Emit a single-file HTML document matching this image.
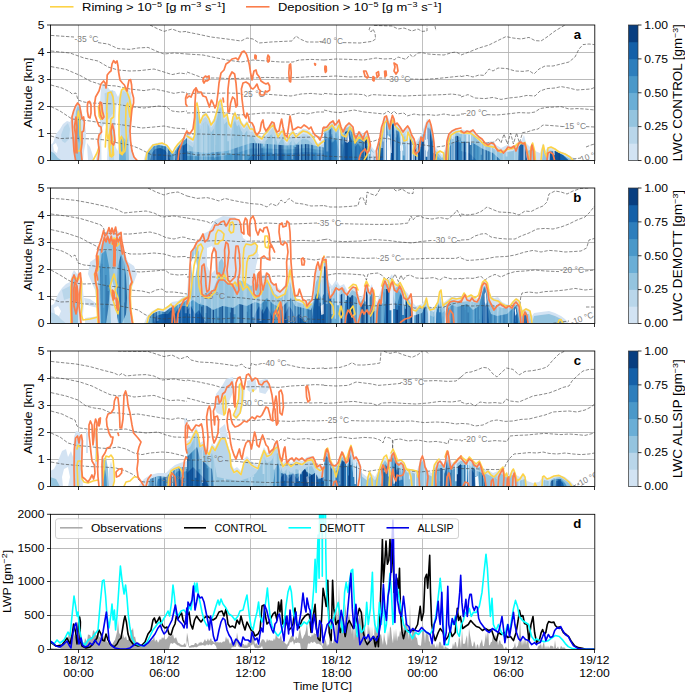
<!DOCTYPE html><html><head><meta charset="utf-8"><style>html,body{margin:0;padding:0;background:#fff}svg{display:block}text{font-family:"Liberation Sans",sans-serif}</style></head><body>
<svg width="685" height="692" viewBox="0 0 685 692">
<rect width="685" height="692" fill="#fff"/>
<defs>
<clipPath id="cpa"><rect x="50.5" y="25.0" width="544.0" height="135.5"/></clipPath>
<clipPath id="cpb"><rect x="50.5" y="188.0" width="544.0" height="135.5"/></clipPath>
<clipPath id="cpc"><rect x="50.5" y="351.0" width="544.0" height="135.5"/></clipPath>
<clipPath id="cpd"><rect x="50.5" y="514.3" width="544.0" height="135.20000000000005"/></clipPath>
</defs>
<line x1="50" y1="6.8" x2="73.5" y2="6.8" stroke="#fdd347" stroke-width="1.6"/>
<text x="82" y="11" font-size="11.5" textLength="143.5" lengthAdjust="spacingAndGlyphs">Riming &gt; 10<tspan dy="-4" font-size="8">−5</tspan><tspan dy="4"> [g m</tspan><tspan dy="-4" font-size="8">−3</tspan><tspan dy="4"> s</tspan><tspan dy="-4" font-size="8">−1</tspan><tspan dy="4">]</tspan></text>
<line x1="246" y1="6.8" x2="269.5" y2="6.8" stroke="#fb7d4b" stroke-width="1.6"/>
<text x="278" y="11" font-size="11.5" textLength="163.5" lengthAdjust="spacingAndGlyphs">Deposition &gt; 10<tspan dy="-4" font-size="8">−5</tspan><tspan dy="4"> [g m</tspan><tspan dy="-4" font-size="8">−3</tspan><tspan dy="4"> s</tspan><tspan dy="-4" font-size="8">−1</tspan><tspan dy="4">]</tspan></text>
<line x1="78.5" y1="25.0" x2="78.5" y2="160.5" stroke="#b0b0b0" stroke-width="0.8"/>
<line x1="164.5" y1="25.0" x2="164.5" y2="160.5" stroke="#b0b0b0" stroke-width="0.8"/>
<line x1="250.5" y1="25.0" x2="250.5" y2="160.5" stroke="#b0b0b0" stroke-width="0.8"/>
<line x1="336.5" y1="25.0" x2="336.5" y2="160.5" stroke="#b0b0b0" stroke-width="0.8"/>
<line x1="422.5" y1="25.0" x2="422.5" y2="160.5" stroke="#b0b0b0" stroke-width="0.8"/>
<line x1="508.5" y1="25.0" x2="508.5" y2="160.5" stroke="#b0b0b0" stroke-width="0.8"/>
<line x1="50.5" y1="133.50" x2="594.5" y2="133.50" stroke="#b2b2b2" stroke-width="0.9"/>
<line x1="50.5" y1="106.50" x2="594.5" y2="106.50" stroke="#b2b2b2" stroke-width="0.9"/>
<line x1="50.5" y1="79.50" x2="594.5" y2="79.50" stroke="#b2b2b2" stroke-width="0.9"/>
<line x1="50.5" y1="52.50" x2="594.5" y2="52.50" stroke="#b2b2b2" stroke-width="0.9"/>
<g clip-path="url(#cpa)">
<path d="M50.0,160.4 L50.0,145.0 L53.0,143.0 L56.0,134.0 L60.0,129.0 L63.0,124.0 L67.0,121.0 L70.0,122.0 L71.6,116.0 L73.0,112.0 L75.0,109.0 L77.0,104.0 L79.0,103.0 L81.0,109.0 L83.0,117.0 L85.0,124.0 L86.0,133.0 L85.6,143.0 L84.0,151.0 L83.0,160.4Z" fill="#d3e3f3" stroke="none" stroke-width="0" opacity="1"/>
<path d="M87.0,143.0 L90.0,147.0 L92.4,154.0 L94.0,160.4 L88.0,160.4Z" fill="#d3e3f3" stroke="none" stroke-width="0" opacity="1"/>
<path d="M61.0,135.0 L64.0,127.0 L68.0,123.0 L70.0,129.0 L69.0,139.0 L65.0,143.0 L62.0,141.0Z" fill="#b9d6ea" stroke="none" stroke-width="0" opacity="1"/>
<path d="M50.0,160.4 L50.0,151.0 L54.0,153.0 L58.0,158.0 L62.0,160.4Z" fill="#94c4df" stroke="none" stroke-width="0" opacity="1"/>
<path d="M75.0,160.4 L74.4,143.0 L75.0,123.0 L76.0,111.0 L78.0,105.0 L80.0,109.0 L81.0,123.0 L81.6,143.0 L81.0,160.4Z" fill="#94c4df" stroke="none" stroke-width="0" opacity="1"/>
<path d="M76.6,135.0 L77.0,117.0 L78.4,109.0 L79.6,117.0 L80.0,135.0 L79.0,143.0Z" fill="#6aaed6" stroke="none" stroke-width="0" opacity="1"/>
<path d="M95.6,160.4 L97.6,151.0 L99.0,139.0 L100.0,123.0 L99.6,107.0 L101.0,89.0 L103.0,84.0 L107.0,86.0 L110.0,90.0 L115.0,91.0 L118.0,97.0 L121.0,90.0 L125.0,87.0 L129.0,90.0 L131.0,93.0 L132.4,107.0 L131.0,123.0 L130.0,135.0 L131.6,147.0 L134.0,155.0 L136.4,160.4Z" fill="#d3e3f3" stroke="none" stroke-width="0" opacity="1"/>
<path d="M121.0,160.4 L121.0,135.0 L122.0,113.0 L123.0,99.0 L126.0,93.0 L128.4,103.0 L129.0,123.0 L128.4,143.0 L129.0,160.4Z" fill="#94c4df" stroke="none" stroke-width="0" opacity="1"/>
<path d="M109.0,160.4 L109.0,147.0 L110.0,131.0 L112.0,127.0 L114.0,135.0 L113.6,151.0 L114.0,160.4Z" fill="#b9d6ea" stroke="none" stroke-width="0" opacity="1"/>
<path d="M119.0,160.4 L119.6,143.0 L122.0,137.0 L125.0,143.0 L126.0,160.4Z" fill="#6aaed6" stroke="none" stroke-width="0" opacity="1"/>
<path d="M143.6,160.4 L145.6,153.0 L149.0,148.0 L153.0,144.0 L159.0,142.6 L166.0,144.0 L170.0,148.0 L173.0,152.0 L176.0,147.0 L180.0,141.0 L184.0,137.0 L187.0,134.0 L187.0,160.4Z" fill="#d3e3f3" stroke="none" stroke-width="0" opacity="1"/>
<path d="M146.0,160.4 L147.6,153.0 L151.0,149.0 L154.0,146.0 L159.0,145.0 L166.0,146.6 L170.0,151.0 L173.0,154.0 L177.0,148.0 L181.0,143.0 L187.0,138.0 L187.0,160.4Z" fill="#4a98c9" stroke="none" stroke-width="0" opacity="1"/>
<path d="M150.0,160.4 L152.0,153.0 L155.0,149.0 L160.0,148.0 L165.0,150.0 L168.0,154.0 L170.0,160.4Z" fill="#1460a8" stroke="none" stroke-width="0" opacity="1"/>
<path d="M175.0,160.4 L176.4,151.0 L180.0,146.0 L184.0,145.0 L187.0,143.0 L187.0,160.4Z" fill="#1460a8" stroke="none" stroke-width="0" opacity="1"/>
<path d="M104.6,93.3 L113.0,90.3 L114.5,101.0 L113.0,113.3 L108.4,119.4 L105.3,113.3Z" fill="#b9d6ea" stroke="none" stroke-width="0" opacity="1"/>
<path d="M119.1,101.0 L123.0,90.3 L129.1,94.9 L131.4,107.1 L130.6,128.6 L126.8,140.9 L120.7,134.8Z" fill="#b9d6ea" stroke="none" stroke-width="0" opacity="1"/>
<path d="M187.0,160.4 L187.0,133.6 L190.0,135.6 L193.0,137.6 L194.6,132.6 L195.4,104.6 L197.0,100.6 L198.6,108.6 L200.0,120.6 L203.0,113.6 L206.0,111.6 L209.0,116.6 L211.0,122.6 L214.0,118.6 L217.0,108.6 L219.0,99.6 L221.0,97.6 L222.6,106.6 L224.0,114.6 L227.0,111.6 L229.0,121.6 L231.0,124.6 L233.0,114.6 L235.0,110.6 L237.0,116.6 L239.0,114.6 L241.0,120.6 L244.0,124.6 L247.0,120.6 L250.0,126.6 L253.0,126.6 L256.0,132.6 L259.0,134.6 L262.0,136.6 L264.0,132.6 L267.0,129.6 L270.0,125.6 L273.0,122.6 L276.0,129.6 L278.0,134.6 L281.0,129.6 L283.0,128.6 L285.0,136.6 L287.0,138.6 L290.0,132.6 L293.0,129.6 L296.0,134.6 L299.0,131.6 L303.0,128.6 L307.0,129.6 L310.0,131.6 L313.0,134.6 L316.0,140.6 L318.0,143.6 L321.0,140.6 L324.0,138.6 L324.0,160.4Z" fill="#d3e3f3" stroke="none" stroke-width="0" opacity="1"/>
<path d="M187.0,160.4 L187.0,138.8 L190.0,140.8 L193.0,142.8 L194.6,137.8 L195.4,109.8 L197.0,105.8 L198.6,113.8 L200.0,125.8 L203.0,118.8 L206.0,116.8 L209.0,121.8 L211.0,127.8 L214.0,123.8 L217.0,113.8 L219.0,104.8 L221.0,102.8 L222.6,111.8 L224.0,119.8 L227.0,116.8 L229.0,126.8 L231.0,129.8 L233.0,119.8 L235.0,115.8 L237.0,121.8 L239.0,119.8 L241.0,125.8 L244.0,129.8 L247.0,125.8 L250.0,131.8 L253.0,131.8 L256.0,137.8 L259.0,139.8 L262.0,141.8 L264.0,137.8 L267.0,134.8 L270.0,130.8 L273.0,127.8 L276.0,134.8 L278.0,139.8 L281.0,134.8 L283.0,133.8 L285.0,141.8 L287.0,143.8 L290.0,137.8 L293.0,134.8 L296.0,139.8 L299.0,136.8 L303.0,133.8 L307.0,134.8 L310.0,136.8 L313.0,139.8 L316.0,145.8 L318.0,148.8 L321.0,145.8 L324.0,143.8 L324.0,160.4Z" fill="#b9d6ea" stroke="none" stroke-width="0" opacity="1"/>
<path d="M187.0,160.4 L187.0,143.6 L190.0,145.6 L193.0,147.6 L194.6,142.6 L195.4,114.6 L197.0,110.6 L198.6,118.6 L200.0,130.6 L203.0,123.6 L206.0,121.6 L209.0,126.6 L211.0,132.6 L214.0,128.6 L217.0,118.6 L219.0,109.6 L221.0,107.6 L222.6,116.6 L224.0,124.6 L227.0,121.6 L229.0,131.6 L231.0,134.6 L233.0,124.6 L235.0,120.6 L237.0,126.6 L239.0,124.6 L241.0,130.6 L244.0,134.6 L247.0,130.6 L250.0,136.6 L253.0,136.6 L256.0,142.6 L259.0,144.6 L262.0,146.6 L264.0,142.6 L267.0,139.6 L270.0,135.6 L273.0,132.6 L276.0,139.6 L278.0,144.6 L281.0,139.6 L283.0,138.6 L285.0,146.6 L287.0,148.6 L290.0,142.6 L293.0,139.6 L296.0,144.6 L299.0,141.6 L303.0,138.6 L307.0,139.6 L310.0,141.6 L313.0,144.6 L316.0,150.6 L318.0,153.6 L321.0,150.6 L324.0,148.6 L324.0,160.4Z" fill="#94c4df" stroke="none" stroke-width="0" opacity="1"/>
<path d="M187.0,160.4 L187.0,151.0 L207.0,153.0 L227.0,151.0 L251.0,143.0 L267.0,144.0 L287.0,145.4 L307.0,144.0 L324.0,147.4 L324.0,160.4Z" fill="#6aaed6" stroke="none" stroke-width="0" opacity="1"/>
<path d="M187.0,160.4 L187.0,156.0 L217.0,157.0 L237.0,153.0 L251.0,148.6 L267.0,148.6 L287.0,149.4 L307.0,148.0 L324.0,150.6 L324.0,160.4Z" fill="#4a98c9" stroke="none" stroke-width="0" opacity="1"/>
<path d="M247.0,160.4 L253.0,154.0 L267.0,152.6 L287.0,153.4 L307.0,152.0 L324.0,153.4 L324.0,160.4Z" fill="#2e7ebc" stroke="none" stroke-width="0" opacity="1"/>
<path d="M324.0,160.4 L324.0,127.0 L328.0,125.0 L332.0,121.0 L336.0,127.0 L339.0,121.0 L342.0,131.0 L346.0,125.0 L350.0,123.0 L353.0,127.0 L356.0,135.0 L360.0,131.0 L364.0,135.0 L367.0,132.0 L369.0,141.0 L372.0,147.0 L375.0,151.0 L378.0,143.0 L381.0,131.0 L384.0,119.0 L387.0,116.0 L390.0,121.0 L393.0,116.0 L395.0,123.0 L399.0,125.0 L403.0,131.0 L408.0,127.0 L412.0,135.0 L415.0,143.0 L418.0,139.0 L421.0,135.0 L424.0,127.0 L427.0,119.0 L430.0,121.0 L433.0,135.0 L435.0,147.0 L439.0,151.0 L442.0,155.0 L446.0,147.0 L448.0,135.0 L452.0,131.0 L457.0,129.0 L461.0,131.0 L461.0,160.4Z" fill="#d3e3f3" stroke="none" stroke-width="0" opacity="1"/>
<path d="M324.0,160.4 L324.0,130.2 L328.0,128.2 L332.0,124.2 L336.0,130.2 L339.0,124.2 L342.0,134.2 L346.0,128.2 L350.0,126.2 L353.0,130.2 L356.0,138.2 L360.0,134.2 L364.0,138.2 L367.0,135.2 L369.0,144.2 L372.0,150.2 L375.0,154.2 L378.0,146.2 L381.0,134.2 L384.0,122.2 L387.0,119.2 L390.0,124.2 L393.0,119.2 L395.0,126.2 L399.0,128.2 L403.0,134.2 L408.0,130.2 L412.0,138.2 L415.0,146.2 L418.0,142.2 L421.0,138.2 L424.0,130.2 L427.0,122.2 L430.0,124.2 L433.0,138.2 L435.0,150.2 L439.0,154.2 L442.0,158.2 L446.0,150.2 L448.0,138.2 L452.0,134.2 L457.0,132.2 L461.0,134.2 L461.0,160.4Z" fill="#94c4df" stroke="none" stroke-width="0" opacity="1"/>
<path d="M324.0,160.4 L324.0,133.8 L328.0,131.8 L332.0,127.8 L336.0,133.8 L339.0,127.8 L342.0,137.8 L346.0,131.8 L350.0,129.8 L353.0,133.8 L356.0,141.8 L360.0,137.8 L364.0,141.8 L367.0,138.8 L369.0,147.8 L372.0,153.8 L375.0,157.8 L378.0,149.8 L381.0,137.8 L384.0,125.8 L387.0,122.8 L390.0,127.8 L393.0,122.8 L395.0,129.8 L399.0,131.8 L403.0,137.8 L408.0,133.8 L412.0,141.8 L415.0,149.8 L418.0,145.8 L421.0,141.8 L424.0,133.8 L427.0,125.8 L430.0,127.8 L433.0,141.8 L435.0,153.8 L439.0,157.8 L442.0,161.8 L446.0,153.8 L448.0,141.8 L452.0,137.8 L457.0,135.8 L461.0,137.8 L461.0,160.4Z" fill="#6aaed6" stroke="none" stroke-width="0" opacity="1"/>
<path d="M324.0,160.4 L324.0,141.0 L328.0,139.0 L332.0,135.0 L336.0,141.0 L339.0,135.0 L342.0,145.0 L346.0,139.0 L350.0,137.0 L353.0,141.0 L356.0,149.0 L360.0,145.0 L364.0,149.0 L367.0,146.0 L369.0,155.0 L372.0,161.0 L375.0,165.0 L378.0,157.0 L381.0,145.0 L384.0,133.0 L387.0,130.0 L390.0,135.0 L393.0,130.0 L395.0,137.0 L399.0,139.0 L403.0,145.0 L408.0,141.0 L412.0,149.0 L415.0,157.0 L418.0,153.0 L421.0,149.0 L424.0,141.0 L427.0,133.0 L430.0,135.0 L433.0,149.0 L435.0,161.0 L439.0,165.0 L442.0,169.0 L446.0,161.0 L448.0,149.0 L452.0,145.0 L457.0,143.0 L461.0,145.0 L461.0,160.4Z" fill="#4a98c9" stroke="none" stroke-width="0" opacity="1"/>
<path d="M342.4,160.4 L343.6,141.0 L345.2,132.0 L349.0,130.0 L351.6,141.0 L352.4,160.4Z" fill="#1460a8" stroke="none" stroke-width="0" opacity="1"/>
<path d="M380.6,160.4 L382.0,137.0 L384.0,124.0 L386.4,121.0 L387.6,135.0 L387.6,160.4Z" fill="#1460a8" stroke="none" stroke-width="0" opacity="1"/>
<path d="M390.0,160.4 L390.4,143.0 L391.6,125.0 L393.6,123.0 L394.8,135.0 L394.4,160.4Z" fill="#1460a8" stroke="none" stroke-width="0" opacity="1"/>
<path d="M396.0,160.4 L396.8,137.0 L398.4,131.0 L400.8,143.0 L400.4,160.4Z" fill="#2e7ebc" stroke="none" stroke-width="0" opacity="1"/>
<path d="M420.0,160.4 L421.2,145.0 L424.0,136.0 L426.4,127.0 L430.0,129.0 L432.0,143.0 L433.2,160.4Z" fill="#1460a8" stroke="none" stroke-width="0" opacity="1"/>
<path d="M447.6,160.4 L448.4,149.0 L452.0,143.0 L457.0,141.0 L461.0,143.0 L461.0,160.4Z" fill="#2e7ebc" stroke="none" stroke-width="0" opacity="1"/>
<path d="M324.0,160.4 L324.0,141.0 L328.0,137.0 L332.0,143.0 L336.0,139.0 L339.0,151.0 L340.0,160.4Z" fill="#2e7ebc" stroke="none" stroke-width="0" opacity="1"/>
<path d="M354.0,160.4 L355.0,147.0 L358.0,143.0 L362.0,151.0 L364.0,160.4Z" fill="#2e7ebc" stroke="none" stroke-width="0" opacity="1"/>
<path d="M404.0,160.4 L405.0,147.0 L409.0,141.0 L412.0,151.0 L414.0,160.4Z" fill="#2e7ebc" stroke="none" stroke-width="0" opacity="1"/>
<path d="M370.4,160.4 L371.0,151.0 L374.0,153.0 L376.4,151.0 L377.6,160.4Z" fill="#d3e3f3" stroke="none" stroke-width="0" opacity="1"/>
<path d="M461.0,160.4 L461.0,129.0 L467.0,131.0 L473.0,130.0 L477.0,134.0 L481.0,138.0 L486.0,143.0 L491.0,141.0 L496.0,145.0 L501.0,148.0 L507.0,145.0 L513.0,147.0 L517.0,143.0 L521.0,141.0 L524.0,135.0 L526.0,143.0 L530.0,147.0 L532.0,143.0 L535.0,151.0 L540.0,153.0 L543.0,143.0 L545.0,151.0 L548.0,147.0 L554.0,148.0 L559.0,151.0 L565.0,153.0 L570.0,156.0 L574.0,158.0 L577.0,160.4Z" fill="#d3e3f3" stroke="none" stroke-width="0" opacity="1"/>
<path d="M461.0,160.4 L461.0,134.0 L473.0,135.0 L481.0,143.0 L491.0,147.0 L501.0,153.0 L513.0,151.0 L521.0,145.0 L527.0,151.0 L533.0,149.0 L536.0,160.4Z" fill="#94c4df" stroke="none" stroke-width="0" opacity="1"/>
<path d="M461.0,160.4 L461.0,141.0 L473.0,143.0 L483.0,149.0 L493.0,153.0 L501.0,160.4Z" fill="#4a98c9" stroke="none" stroke-width="0" opacity="1"/>
<path d="M542.0,160.4 L543.4,147.0 L545.0,155.0 L548.0,150.0 L554.0,151.0 L561.0,154.0 L569.0,158.0 L573.0,160.4Z" fill="#94c4df" stroke="none" stroke-width="0" opacity="1"/>
<path d="M518.0,160.4 L518.6,147.0 L521.0,144.0 L525.0,145.0 L527.0,160.4Z" fill="#1460a8" stroke="none" stroke-width="0" opacity="1"/>
<path d="M549.0,160.4 L550.0,152.0 L555.0,151.0 L563.0,155.0 L569.0,160.4Z" fill="#1460a8" stroke="none" stroke-width="0" opacity="1"/>
<path d="M461.0,160.4 L461.0,151.0 L469.0,153.0 L477.0,160.4Z" fill="#2e7ebc" stroke="none" stroke-width="0" opacity="1"/>
<path d="M101.6,160.4 L101.2,143.0 L102.4,127.0 L105.0,123.0 L107.0,131.0 L107.6,147.0 L107.0,160.4Z" fill="#fff" stroke="none" stroke-width="0" opacity="1"/>
<path d="M115.6,147.0 L115.2,123.0 L116.4,105.0 L118.4,103.0 L119.2,119.0 L118.8,143.0 L117.6,151.0Z" fill="#fff" stroke="none" stroke-width="0" opacity="1"/>
<path d="M54.0,151.0 L53.0,145.0 L56.0,143.0 L58.0,148.0 L57.0,153.0Z" fill="#fff" stroke="none" stroke-width="0" opacity="1"/>
<path d="M344.8,134.0 L348.4,133.0 L349.2,141.0 L347.6,143.0 L345.2,142.0Z" fill="#fff" stroke="none" stroke-width="0" opacity="1"/>
<path d="M386.8,160.4 L386.8,143.0 L387.6,135.0 L390.0,137.0 L390.8,151.0 L390.4,160.4Z" fill="#fff" stroke="none" stroke-width="0" opacity="1"/>
<path d="M425.0,140.0 L427.6,139.0 L428.4,149.0 L427.2,152.0 L425.4,150.0Z" fill="#fff" stroke="none" stroke-width="0" opacity="1"/>
<path d="M400.0,145.4 L402.8,145.0 L403.2,150.6 L400.4,151.0Z" fill="#fff" stroke="none" stroke-width="0" opacity="1"/>
<clipPath id="cl3a">
<path d="M50.0,160.4 L50.0,151.0 L54.0,153.0 L58.0,158.0 L62.0,160.4Z"/>
<path d="M75.0,160.4 L74.4,143.0 L75.0,123.0 L76.0,111.0 L78.0,105.0 L80.0,109.0 L81.0,123.0 L81.6,143.0 L81.0,160.4Z"/>
<path d="M76.6,135.0 L77.0,117.0 L78.4,109.0 L79.6,117.0 L80.0,135.0 L79.0,143.0Z"/>
<path d="M121.0,160.4 L121.0,135.0 L122.0,113.0 L123.0,99.0 L126.0,93.0 L128.4,103.0 L129.0,123.0 L128.4,143.0 L129.0,160.4Z"/>
<path d="M119.0,160.4 L119.6,143.0 L122.0,137.0 L125.0,143.0 L126.0,160.4Z"/>
<path d="M146.0,160.4 L147.6,153.0 L151.0,149.0 L154.0,146.0 L159.0,145.0 L166.0,146.6 L170.0,151.0 L173.0,154.0 L177.0,148.0 L181.0,143.0 L187.0,138.0 L187.0,160.4Z"/>
<path d="M150.0,160.4 L152.0,153.0 L155.0,149.0 L160.0,148.0 L165.0,150.0 L168.0,154.0 L170.0,160.4Z"/>
<path d="M175.0,160.4 L176.4,151.0 L180.0,146.0 L184.0,145.0 L187.0,143.0 L187.0,160.4Z"/>
<path d="M187.0,160.4 L187.0,143.6 L190.0,145.6 L193.0,147.6 L194.6,142.6 L195.4,114.6 L197.0,110.6 L198.6,118.6 L200.0,130.6 L203.0,123.6 L206.0,121.6 L209.0,126.6 L211.0,132.6 L214.0,128.6 L217.0,118.6 L219.0,109.6 L221.0,107.6 L222.6,116.6 L224.0,124.6 L227.0,121.6 L229.0,131.6 L231.0,134.6 L233.0,124.6 L235.0,120.6 L237.0,126.6 L239.0,124.6 L241.0,130.6 L244.0,134.6 L247.0,130.6 L250.0,136.6 L253.0,136.6 L256.0,142.6 L259.0,144.6 L262.0,146.6 L264.0,142.6 L267.0,139.6 L270.0,135.6 L273.0,132.6 L276.0,139.6 L278.0,144.6 L281.0,139.6 L283.0,138.6 L285.0,146.6 L287.0,148.6 L290.0,142.6 L293.0,139.6 L296.0,144.6 L299.0,141.6 L303.0,138.6 L307.0,139.6 L310.0,141.6 L313.0,144.6 L316.0,150.6 L318.0,153.6 L321.0,150.6 L324.0,148.6 L324.0,160.4Z"/>
<path d="M187.0,160.4 L187.0,151.0 L207.0,153.0 L227.0,151.0 L251.0,143.0 L267.0,144.0 L287.0,145.4 L307.0,144.0 L324.0,147.4 L324.0,160.4Z"/>
<path d="M187.0,160.4 L187.0,156.0 L217.0,157.0 L237.0,153.0 L251.0,148.6 L267.0,148.6 L287.0,149.4 L307.0,148.0 L324.0,150.6 L324.0,160.4Z"/>
<path d="M247.0,160.4 L253.0,154.0 L267.0,152.6 L287.0,153.4 L307.0,152.0 L324.0,153.4 L324.0,160.4Z"/>
<path d="M324.0,160.4 L324.0,130.2 L328.0,128.2 L332.0,124.2 L336.0,130.2 L339.0,124.2 L342.0,134.2 L346.0,128.2 L350.0,126.2 L353.0,130.2 L356.0,138.2 L360.0,134.2 L364.0,138.2 L367.0,135.2 L369.0,144.2 L372.0,150.2 L375.0,154.2 L378.0,146.2 L381.0,134.2 L384.0,122.2 L387.0,119.2 L390.0,124.2 L393.0,119.2 L395.0,126.2 L399.0,128.2 L403.0,134.2 L408.0,130.2 L412.0,138.2 L415.0,146.2 L418.0,142.2 L421.0,138.2 L424.0,130.2 L427.0,122.2 L430.0,124.2 L433.0,138.2 L435.0,150.2 L439.0,154.2 L442.0,158.2 L446.0,150.2 L448.0,138.2 L452.0,134.2 L457.0,132.2 L461.0,134.2 L461.0,160.4Z"/>
<path d="M324.0,160.4 L324.0,133.8 L328.0,131.8 L332.0,127.8 L336.0,133.8 L339.0,127.8 L342.0,137.8 L346.0,131.8 L350.0,129.8 L353.0,133.8 L356.0,141.8 L360.0,137.8 L364.0,141.8 L367.0,138.8 L369.0,147.8 L372.0,153.8 L375.0,157.8 L378.0,149.8 L381.0,137.8 L384.0,125.8 L387.0,122.8 L390.0,127.8 L393.0,122.8 L395.0,129.8 L399.0,131.8 L403.0,137.8 L408.0,133.8 L412.0,141.8 L415.0,149.8 L418.0,145.8 L421.0,141.8 L424.0,133.8 L427.0,125.8 L430.0,127.8 L433.0,141.8 L435.0,153.8 L439.0,157.8 L442.0,161.8 L446.0,153.8 L448.0,141.8 L452.0,137.8 L457.0,135.8 L461.0,137.8 L461.0,160.4Z"/>
<path d="M324.0,160.4 L324.0,141.0 L328.0,139.0 L332.0,135.0 L336.0,141.0 L339.0,135.0 L342.0,145.0 L346.0,139.0 L350.0,137.0 L353.0,141.0 L356.0,149.0 L360.0,145.0 L364.0,149.0 L367.0,146.0 L369.0,155.0 L372.0,161.0 L375.0,165.0 L378.0,157.0 L381.0,145.0 L384.0,133.0 L387.0,130.0 L390.0,135.0 L393.0,130.0 L395.0,137.0 L399.0,139.0 L403.0,145.0 L408.0,141.0 L412.0,149.0 L415.0,157.0 L418.0,153.0 L421.0,149.0 L424.0,141.0 L427.0,133.0 L430.0,135.0 L433.0,149.0 L435.0,161.0 L439.0,165.0 L442.0,169.0 L446.0,161.0 L448.0,149.0 L452.0,145.0 L457.0,143.0 L461.0,145.0 L461.0,160.4Z"/>
<path d="M342.4,160.4 L343.6,141.0 L345.2,132.0 L349.0,130.0 L351.6,141.0 L352.4,160.4Z"/>
<path d="M380.6,160.4 L382.0,137.0 L384.0,124.0 L386.4,121.0 L387.6,135.0 L387.6,160.4Z"/>
<path d="M390.0,160.4 L390.4,143.0 L391.6,125.0 L393.6,123.0 L394.8,135.0 L394.4,160.4Z"/>
<path d="M396.0,160.4 L396.8,137.0 L398.4,131.0 L400.8,143.0 L400.4,160.4Z"/>
<path d="M420.0,160.4 L421.2,145.0 L424.0,136.0 L426.4,127.0 L430.0,129.0 L432.0,143.0 L433.2,160.4Z"/>
<path d="M447.6,160.4 L448.4,149.0 L452.0,143.0 L457.0,141.0 L461.0,143.0 L461.0,160.4Z"/>
<path d="M324.0,160.4 L324.0,141.0 L328.0,137.0 L332.0,143.0 L336.0,139.0 L339.0,151.0 L340.0,160.4Z"/>
<path d="M354.0,160.4 L355.0,147.0 L358.0,143.0 L362.0,151.0 L364.0,160.4Z"/>
<path d="M404.0,160.4 L405.0,147.0 L409.0,141.0 L412.0,151.0 L414.0,160.4Z"/>
<path d="M461.0,160.4 L461.0,134.0 L473.0,135.0 L481.0,143.0 L491.0,147.0 L501.0,153.0 L513.0,151.0 L521.0,145.0 L527.0,151.0 L533.0,149.0 L536.0,160.4Z"/>
<path d="M461.0,160.4 L461.0,141.0 L473.0,143.0 L483.0,149.0 L493.0,153.0 L501.0,160.4Z"/>
<path d="M542.0,160.4 L543.4,147.0 L545.0,155.0 L548.0,150.0 L554.0,151.0 L561.0,154.0 L569.0,158.0 L573.0,160.4Z"/>
<path d="M518.0,160.4 L518.6,147.0 L521.0,144.0 L525.0,145.0 L527.0,160.4Z"/>
<path d="M549.0,160.4 L550.0,152.0 L555.0,151.0 L563.0,155.0 L569.0,160.4Z"/>
<path d="M461.0,160.4 L461.0,151.0 L469.0,153.0 L477.0,160.4Z"/>
</clipPath>
<clipPath id="cl5a">
<path d="M76.6,135.0 L77.0,117.0 L78.4,109.0 L79.6,117.0 L80.0,135.0 L79.0,143.0Z"/>
<path d="M119.0,160.4 L119.6,143.0 L122.0,137.0 L125.0,143.0 L126.0,160.4Z"/>
<path d="M146.0,160.4 L147.6,153.0 L151.0,149.0 L154.0,146.0 L159.0,145.0 L166.0,146.6 L170.0,151.0 L173.0,154.0 L177.0,148.0 L181.0,143.0 L187.0,138.0 L187.0,160.4Z"/>
<path d="M150.0,160.4 L152.0,153.0 L155.0,149.0 L160.0,148.0 L165.0,150.0 L168.0,154.0 L170.0,160.4Z"/>
<path d="M175.0,160.4 L176.4,151.0 L180.0,146.0 L184.0,145.0 L187.0,143.0 L187.0,160.4Z"/>
<path d="M187.0,160.4 L187.0,151.0 L207.0,153.0 L227.0,151.0 L251.0,143.0 L267.0,144.0 L287.0,145.4 L307.0,144.0 L324.0,147.4 L324.0,160.4Z"/>
<path d="M187.0,160.4 L187.0,156.0 L217.0,157.0 L237.0,153.0 L251.0,148.6 L267.0,148.6 L287.0,149.4 L307.0,148.0 L324.0,150.6 L324.0,160.4Z"/>
<path d="M247.0,160.4 L253.0,154.0 L267.0,152.6 L287.0,153.4 L307.0,152.0 L324.0,153.4 L324.0,160.4Z"/>
<path d="M324.0,160.4 L324.0,133.8 L328.0,131.8 L332.0,127.8 L336.0,133.8 L339.0,127.8 L342.0,137.8 L346.0,131.8 L350.0,129.8 L353.0,133.8 L356.0,141.8 L360.0,137.8 L364.0,141.8 L367.0,138.8 L369.0,147.8 L372.0,153.8 L375.0,157.8 L378.0,149.8 L381.0,137.8 L384.0,125.8 L387.0,122.8 L390.0,127.8 L393.0,122.8 L395.0,129.8 L399.0,131.8 L403.0,137.8 L408.0,133.8 L412.0,141.8 L415.0,149.8 L418.0,145.8 L421.0,141.8 L424.0,133.8 L427.0,125.8 L430.0,127.8 L433.0,141.8 L435.0,153.8 L439.0,157.8 L442.0,161.8 L446.0,153.8 L448.0,141.8 L452.0,137.8 L457.0,135.8 L461.0,137.8 L461.0,160.4Z"/>
<path d="M324.0,160.4 L324.0,141.0 L328.0,139.0 L332.0,135.0 L336.0,141.0 L339.0,135.0 L342.0,145.0 L346.0,139.0 L350.0,137.0 L353.0,141.0 L356.0,149.0 L360.0,145.0 L364.0,149.0 L367.0,146.0 L369.0,155.0 L372.0,161.0 L375.0,165.0 L378.0,157.0 L381.0,145.0 L384.0,133.0 L387.0,130.0 L390.0,135.0 L393.0,130.0 L395.0,137.0 L399.0,139.0 L403.0,145.0 L408.0,141.0 L412.0,149.0 L415.0,157.0 L418.0,153.0 L421.0,149.0 L424.0,141.0 L427.0,133.0 L430.0,135.0 L433.0,149.0 L435.0,161.0 L439.0,165.0 L442.0,169.0 L446.0,161.0 L448.0,149.0 L452.0,145.0 L457.0,143.0 L461.0,145.0 L461.0,160.4Z"/>
<path d="M342.4,160.4 L343.6,141.0 L345.2,132.0 L349.0,130.0 L351.6,141.0 L352.4,160.4Z"/>
<path d="M380.6,160.4 L382.0,137.0 L384.0,124.0 L386.4,121.0 L387.6,135.0 L387.6,160.4Z"/>
<path d="M390.0,160.4 L390.4,143.0 L391.6,125.0 L393.6,123.0 L394.8,135.0 L394.4,160.4Z"/>
<path d="M396.0,160.4 L396.8,137.0 L398.4,131.0 L400.8,143.0 L400.4,160.4Z"/>
<path d="M420.0,160.4 L421.2,145.0 L424.0,136.0 L426.4,127.0 L430.0,129.0 L432.0,143.0 L433.2,160.4Z"/>
<path d="M447.6,160.4 L448.4,149.0 L452.0,143.0 L457.0,141.0 L461.0,143.0 L461.0,160.4Z"/>
<path d="M324.0,160.4 L324.0,141.0 L328.0,137.0 L332.0,143.0 L336.0,139.0 L339.0,151.0 L340.0,160.4Z"/>
<path d="M354.0,160.4 L355.0,147.0 L358.0,143.0 L362.0,151.0 L364.0,160.4Z"/>
<path d="M404.0,160.4 L405.0,147.0 L409.0,141.0 L412.0,151.0 L414.0,160.4Z"/>
<path d="M461.0,160.4 L461.0,141.0 L473.0,143.0 L483.0,149.0 L493.0,153.0 L501.0,160.4Z"/>
<path d="M518.0,160.4 L518.6,147.0 L521.0,144.0 L525.0,145.0 L527.0,160.4Z"/>
<path d="M549.0,160.4 L550.0,152.0 L555.0,151.0 L563.0,155.0 L569.0,160.4Z"/>
<path d="M461.0,160.4 L461.0,151.0 L469.0,153.0 L477.0,160.4Z"/>
</clipPath>
<g clip-path="url(#cl5a)">
<path d="M141.2,129.9h1.4V160.5h-1.4zM158.6,104.8h1.8V160.5h-1.8zM177.9,134.7h2.1V160.5h-2.1zM189.0,116.6h1.2V160.5h-1.2zM191.2,106.6h1.9V160.5h-1.9zM207.4,116.3h1.4V160.5h-1.4zM210.7,101.4h1.3V160.5h-1.3zM239.0,111.3h1.8V160.5h-1.8zM240.8,126.7h1.8V160.5h-1.8zM244.3,96.1h1.6V160.5h-1.6zM254.0,106.8h1.4V160.5h-1.4zM269.5,104.0h1.8V160.5h-1.8zM275.1,130.0h1.9V160.5h-1.9zM286.5,142.1h1.9V160.5h-1.9zM347.7,141.9h1.8V160.5h-1.8zM352.3,115.9h1.1V160.5h-1.1zM412.9,131.2h0.8V160.5h-0.8zM477.1,100.4h1.5V160.5h-1.5zM498.4,104.6h1.9V160.5h-1.9zM500.4,120.0h1.7V160.5h-1.7z" fill="#083c80" opacity="0.1"/>
<path d="M153.4,144.3h1.2V160.5h-1.2zM156.5,121.6h2.0V160.5h-2.0zM169.7,146.5h0.9V160.5h-0.9zM212.0,105.6h2.0V160.5h-2.0zM218.3,109.6h1.1V160.5h-1.1zM233.8,138.0h1.3V160.5h-1.3zM249.4,119.7h1.3V160.5h-1.3zM289.7,144.4h1.8V160.5h-1.8zM324.7,108.0h1.6V160.5h-1.6zM328.3,139.4h1.0V160.5h-1.0zM331.0,134.1h1.4V160.5h-1.4zM351.0,97.9h1.3V160.5h-1.3zM359.4,98.5h1.0V160.5h-1.0zM430.7,131.6h1.0V160.5h-1.0zM464.9,132.6h1.3V160.5h-1.3zM549.8,117.6h0.8V160.5h-0.8z" fill="#083c80" opacity="0.2"/>
<path d="M160.3,148.1h0.9V160.5h-0.9zM161.2,104.6h1.9V160.5h-1.9zM190.0,149.6h1.2V160.5h-1.2zM197.5,112.6h1.7V160.5h-1.7zM216.3,94.9h1.1V160.5h-1.1zM217.4,140.2h0.9V160.5h-0.9zM235.1,123.7h1.8V160.5h-1.8zM236.9,140.0h0.9V160.5h-0.9zM261.2,147.7h1.9V160.5h-1.9zM319.0,118.0h1.7V160.5h-1.7zM341.3,135.1h1.6V160.5h-1.6zM354.8,97.3h1.8V160.5h-1.8zM429.8,115.2h0.8V160.5h-0.8zM456.2,129.4h0.8V160.5h-0.8zM470.0,101.9h1.9V160.5h-1.9zM473.3,140.3h1.9V160.5h-1.9z" fill="#083c80" opacity="0.3"/>
<path d="M164.3,130.6h1.7V160.5h-1.7zM182.8,146.3h1.4V160.5h-1.4zM186.1,115.2h1.2V160.5h-1.2zM251.7,113.2h1.3V160.5h-1.3zM322.4,134.6h1.3V160.5h-1.3zM344.7,127.0h1.4V160.5h-1.4zM361.6,110.2h1.1V160.5h-1.1zM373.5,122.2h1.9V160.5h-1.9zM378.1,128.2h1.1V160.5h-1.1zM421.1,96.8h1.6V160.5h-1.6zM431.7,99.6h1.6V160.5h-1.6zM481.6,105.8h1.9V160.5h-1.9zM487.9,121.8h1.6V160.5h-1.6zM497.0,123.3h1.4V160.5h-1.4zM522.4,120.5h1.0V160.5h-1.0zM535.9,149.1h2.0V160.5h-2.0zM539.3,119.1h2.1V160.5h-2.1zM550.7,110.9h1.0V160.5h-1.0zM551.7,147.3h1.1V160.5h-1.1z" fill="#083c80" opacity="0.4"/>
<path d="M168.0,148.3h1.7V160.5h-1.7zM282.5,117.0h1.1V160.5h-1.1zM294.5,147.1h1.8V160.5h-1.8zM311.0,142.7h1.1V160.5h-1.1zM346.1,133.6h1.6V160.5h-1.6zM492.1,126.5h0.9V160.5h-0.9zM509.3,109.5h2.0V160.5h-2.0zM511.3,136.8h1.5V160.5h-1.5zM520.6,129.6h0.8V160.5h-0.8zM554.8,107.7h1.9V160.5h-1.9zM556.7,138.0h1.6V160.5h-1.6z" fill="#083c80" opacity="0.5"/>
<path d="M253.0,123.8h1.0V160.5h-1.0zM258.0,110.3h1.3V160.5h-1.3zM304.9,129.0h1.5V160.5h-1.5zM379.2,106.8h1.6V160.5h-1.6zM418.1,135.8h2.1V160.5h-2.1zM440.3,103.2h1.4V160.5h-1.4z" fill="#083c80" opacity="0.9"/>
<path d="M255.4,114.0h1.5V160.5h-1.5zM281.3,125.5h1.2V160.5h-1.2zM296.2,100.8h1.8V160.5h-1.8zM307.4,132.4h2.0V160.5h-2.0zM312.1,114.3h0.8V160.5h-0.8zM329.3,102.8h1.8V160.5h-1.8zM396.3,112.3h1.3V160.5h-1.3zM455.3,116.8h0.9V160.5h-0.9zM485.5,105.0h1.4V160.5h-1.4zM504.4,134.5h1.2V160.5h-1.2zM528.5,121.5h0.9V160.5h-0.9zM544.6,112.1h1.7V160.5h-1.7z" fill="#083c80" opacity="0.6"/>
<path d="M260.2,128.0h1.0V160.5h-1.0zM278.4,116.2h1.8V160.5h-1.8zM280.2,121.7h1.2V160.5h-1.2zM298.0,144.4h1.1V160.5h-1.1zM362.8,110.5h0.9V160.5h-0.9z" fill="#083c80" opacity="0.8"/>
<path d="M266.9,101.3h1.1V160.5h-1.1zM274.2,137.5h0.9V160.5h-0.9zM301.0,118.0h1.3V160.5h-1.3zM468.3,102.2h1.6V160.5h-1.6zM525.3,102.2h1.2V160.5h-1.2zM558.3,122.0h1.9V160.5h-1.9z" fill="#083c80" opacity="0.7"/>
<path d="M340.4,139.2h0.9V160.5h-0.9zM364.9,131.2h1.9V160.5h-1.9zM391.9,125.3h1.2V160.5h-1.2zM409.6,112.8h2.1V160.5h-2.1zM414.6,145.0h1.7V160.5h-1.7zM422.7,117.3h1.1V160.5h-1.1zM435.5,132.1h1.5V160.5h-1.5zM457.0,103.9h1.3V160.5h-1.3zM463.7,141.4h1.2V160.5h-1.2z" fill="#083c80" opacity="1.0"/>
</g>
<g clip-path="url(#cl3a)">
<path d="M140.0,25.0h1.2V160.5h-1.2zM180.0,25.0h1.6V160.5h-1.6zM193.2,25.0h1.4V160.5h-1.4zM199.3,25.0h1.9V160.5h-1.9zM203.2,25.0h1.2V134.3h-1.2zM214.1,25.0h1.1V158.3h-1.1zM256.9,25.0h1.1V160.5h-1.1zM259.3,25.0h0.9V160.5h-0.9zM277.0,25.0h1.4V160.5h-1.4zM299.1,25.0h1.9V160.5h-1.9zM317.6,25.0h1.3V160.5h-1.3zM326.3,25.0h2.0V151.5h-2.0zM371.9,25.0h1.7V141.5h-1.7zM443.6,25.0h1.7V160.5h-1.7zM461.9,25.0h1.8V160.5h-1.8zM471.9,25.0h1.4V159.4h-1.4zM494.7,25.0h1.5V160.5h-1.5zM517.2,25.0h1.7V160.5h-1.7zM537.9,25.0h1.4V160.5h-1.4z" fill="#e4eff9" opacity="0.3"/>
<path d="M142.5,25.0h1.3V160.5h-1.3zM143.9,25.0h0.9V160.5h-0.9zM144.8,25.0h1.1V160.5h-1.1zM148.0,25.0h1.7V151.1h-1.7zM174.9,25.0h0.8V160.5h-0.8zM196.7,25.0h0.9V155.0h-0.9zM215.1,25.0h1.2V144.9h-1.2zM219.4,25.0h1.6V152.2h-1.6zM223.8,25.0h2.0V160.5h-2.0zM237.8,25.0h1.2V160.5h-1.2zM283.6,25.0h1.9V152.5h-1.9zM303.3,25.0h1.6V160.5h-1.6zM306.4,25.0h1.0V160.5h-1.0zM314.2,25.0h1.8V149.8h-1.8zM316.1,25.0h1.6V160.5h-1.6zM323.7,25.0h1.0V160.5h-1.0zM342.9,25.0h1.8V160.5h-1.8zM363.7,25.0h1.1V160.5h-1.1zM398.9,25.0h1.5V144.5h-1.5zM475.1,25.0h2.0V134.7h-2.0zM478.6,25.0h2.1V160.5h-2.1zM486.8,25.0h1.0V160.5h-1.0zM493.0,25.0h1.8V150.9h-1.8zM502.1,25.0h1.1V160.5h-1.1zM515.3,25.0h0.9V160.5h-0.9zM516.2,25.0h1.0V160.5h-1.0zM518.9,25.0h1.7V160.5h-1.7zM521.4,25.0h0.9V160.5h-0.9zM527.3,25.0h1.2V141.6h-1.2z" fill="#e4eff9" opacity="0.1"/>
<path d="M145.9,25.0h2.1V160.5h-2.1zM163.1,25.0h1.2V141.1h-1.2zM166.0,25.0h2.1V160.5h-2.1zM170.6,25.0h1.0V155.5h-1.0zM171.6,25.0h1.8V136.7h-1.8zM173.4,25.0h1.6V160.5h-1.6zM194.6,25.0h2.1V155.7h-2.1zM201.1,25.0h2.1V160.5h-2.1zM221.0,25.0h0.9V160.5h-0.9zM221.9,25.0h1.9V160.5h-1.9zM227.2,25.0h1.8V141.2h-1.8zM229.0,25.0h2.1V153.2h-2.1zM271.4,25.0h1.2V135.5h-1.2zM291.5,25.0h1.6V159.2h-1.6zM293.2,25.0h1.3V145.8h-1.3zM320.6,25.0h1.8V160.5h-1.8zM332.4,25.0h1.0V141.5h-1.0zM333.4,25.0h1.8V138.2h-1.8zM337.2,25.0h1.7V160.5h-1.7zM402.5,25.0h2.1V155.6h-2.1zM441.6,25.0h2.0V135.1h-2.0zM447.2,25.0h1.9V136.4h-1.9zM480.7,25.0h1.0V154.7h-1.0zM483.6,25.0h1.9V160.5h-1.9zM496.2,25.0h0.8V160.5h-0.8zM503.2,25.0h1.2V160.5h-1.2zM514.1,25.0h1.2V160.1h-1.2zM526.4,25.0h0.9V157.7h-0.9zM533.8,25.0h1.0V145.5h-1.0zM543.0,25.0h1.6V143.4h-1.6z" fill="#e4eff9" opacity="0.4"/>
<path d="M149.7,25.0h2.1V160.5h-2.1zM151.7,25.0h1.6V160.5h-1.6zM154.6,25.0h1.9V160.5h-1.9zM175.8,25.0h1.2V160.5h-1.2zM177.0,25.0h1.0V135.9h-1.0zM181.6,25.0h1.1V160.5h-1.1zM187.3,25.0h1.7V151.4h-1.7zM205.5,25.0h0.8V154.0h-0.8zM208.8,25.0h1.9V160.5h-1.9zM231.1,25.0h1.6V138.2h-1.6zM232.7,25.0h1.1V160.5h-1.1zM264.8,25.0h1.0V160.5h-1.0zM285.5,25.0h1.0V160.5h-1.0zM288.4,25.0h1.2V147.5h-1.2zM309.4,25.0h1.5V160.5h-1.5zM366.8,25.0h1.4V146.0h-1.4zM386.2,25.0h1.1V141.0h-1.1zM395.3,25.0h1.0V160.5h-1.0z" fill="#e4eff9" opacity="0.2"/>
<path d="M204.4,25.0h1.1V160.5h-1.1zM206.3,25.0h1.1V160.5h-1.1zM242.6,25.0h1.7V160.5h-1.7zM247.5,25.0h1.9V155.0h-1.9zM263.1,25.0h1.6V146.4h-1.6zM272.6,25.0h1.6V153.9h-1.6zM302.4,25.0h1.0V135.5h-1.0zM312.9,25.0h1.4V141.8h-1.4zM358.0,25.0h1.4V137.8h-1.4zM360.4,25.0h1.2V134.5h-1.2zM387.4,25.0h2.0V150.3h-2.0zM416.3,25.0h1.7V160.5h-1.7zM427.3,25.0h1.3V160.5h-1.3zM532.0,25.0h1.8V133.8h-1.8zM541.4,25.0h1.6V147.0h-1.6z" fill="#e4eff9" opacity="0.5"/>
<path d="M338.9,25.0h1.5V160.5h-1.5zM369.1,25.0h1.1V154.0h-1.1zM375.5,25.0h1.6V153.0h-1.6zM377.1,25.0h1.1V160.5h-1.1zM382.7,25.0h0.8V141.6h-0.8zM384.6,25.0h1.6V160.5h-1.6zM400.4,25.0h2.1V160.5h-2.1zM407.7,25.0h1.9V160.5h-1.9zM411.7,25.0h1.2V160.5h-1.2zM413.7,25.0h0.8V160.5h-0.8zM425.6,25.0h1.8V156.7h-1.8zM434.2,25.0h1.2V147.9h-1.2zM437.0,25.0h2.0V136.4h-2.0zM452.3,25.0h1.0V138.9h-1.0zM469.9,25.0h1.3V145.0h-1.3z" fill="#e4eff9" opacity="1.0"/>
<path d="M356.6,25.0h1.4V139.1h-1.4zM370.2,25.0h1.7V139.0h-1.7zM390.8,25.0h1.0V153.0h-1.0zM394.4,25.0h0.9V160.5h-0.9zM406.0,25.0h1.7V160.5h-1.7zM433.2,25.0h1.0V152.9h-1.0z" fill="#e4eff9" opacity="0.8"/>
<path d="M368.2,25.0h0.9V160.5h-0.9zM423.8,25.0h1.7V160.5h-1.7zM449.1,25.0h1.0V160.5h-1.0zM489.5,25.0h0.9V143.1h-0.9zM523.4,25.0h1.9V160.5h-1.9zM529.5,25.0h1.1V137.5h-1.1zM546.2,25.0h2.1V138.2h-2.1zM548.3,25.0h1.5V160.3h-1.5zM552.8,25.0h2.0V155.3h-2.0z" fill="#e4eff9" opacity="0.7"/>
<path d="M380.8,25.0h1.9V147.9h-1.9zM404.6,25.0h1.5V160.5h-1.5zM420.1,25.0h1.0V146.7h-1.0zM428.6,25.0h1.2V160.5h-1.2zM453.3,25.0h1.9V160.5h-1.9zM490.5,25.0h1.6V160.5h-1.6zM505.6,25.0h1.9V156.5h-1.9zM507.6,25.0h1.7V135.8h-1.7zM534.8,25.0h1.1V160.5h-1.1z" fill="#e4eff9" opacity="0.6"/>
<path d="M383.5,25.0h1.1V160.5h-1.1zM451.5,25.0h0.9V160.5h-0.9zM466.3,25.0h2.0V160.5h-2.0z" fill="#e4eff9" opacity="0.9"/>
</g>
<path d="M150.0,25.0 L158.0,29.0 L164.0,31.4 L172.0,29.0 L180.0,32.0 L187.0,31.4" fill="none" stroke="#444" stroke-width="0.7" stroke-linejoin="round" stroke-linecap="butt" stroke-dasharray="3.4 1.6" opacity="0.9"/>
<path d="M51.0,35.4 L62.0,36.2 L74.0,37.0" fill="none" stroke="#444" stroke-width="0.7" stroke-linejoin="round" stroke-linecap="butt" stroke-dasharray="3.4 1.6" opacity="0.9"/>
<path d="M98.0,42.6 L108.0,44.0 L118.0,48.6 L130.0,49.4 L138.0,48.0 L148.0,47.4 L156.0,51.0 L164.0,54.0 L174.0,53.0 L187.0,54.0" fill="none" stroke="#444" stroke-width="0.7" stroke-linejoin="round" stroke-linecap="butt" stroke-dasharray="3.4 1.6" opacity="0.9"/>
<path d="M51.0,51.0 L70.0,53.0 L84.0,58.0 L98.0,61.0 L108.0,67.0 L118.0,70.0 L130.0,71.0 L140.0,70.6 L154.0,69.0 L164.0,72.0 L172.0,74.6 L180.0,73.0 L187.0,74.0" fill="none" stroke="#444" stroke-width="0.7" stroke-linejoin="round" stroke-linecap="butt" stroke-dasharray="3.4 1.6" opacity="0.9"/>
<path d="M51.0,66.6 L66.0,69.4 L80.0,75.4 L90.0,81.0 L102.0,85.0 L116.0,86.0 L130.0,89.0 L144.0,90.6 L154.0,89.0 L164.0,91.0 L174.0,93.4 L182.0,92.0 L187.0,93.0" fill="none" stroke="#444" stroke-width="0.7" stroke-linejoin="round" stroke-linecap="butt" stroke-dasharray="3.4 1.6" opacity="0.9"/>
<path d="M51.0,85.0 L62.0,88.0 L70.0,92.0 L72.0,94.0 L76.0,93.0 L78.0,100.0 L84.0,102.0 L90.0,103.0 L102.0,103.4 L116.0,104.0 L130.0,106.6 L144.0,108.0 L158.0,106.0 L166.0,106.6 L172.0,111.0 L180.0,112.0 L187.0,111.0" fill="none" stroke="#444" stroke-width="0.7" stroke-linejoin="round" stroke-linecap="butt" stroke-dasharray="3.4 1.6" opacity="0.9"/>
<path d="M51.0,106.6 L60.0,111.0 L72.0,119.0 L82.0,120.0 L90.0,121.0 L102.0,123.0 L116.0,124.0 L130.0,126.0 L142.0,128.0 L154.0,127.0 L164.0,126.0 L174.0,128.0 L187.0,129.0" fill="none" stroke="#444" stroke-width="0.7" stroke-linejoin="round" stroke-linecap="butt" stroke-dasharray="3.4 1.6" opacity="0.9"/>
<path d="M51.0,136.0 L60.0,138.6 L72.0,138.0 L82.0,138.6 L94.0,139.0 L106.0,140.0 L118.0,143.0 L130.0,145.0 L138.0,148.0 L146.0,152.0 L152.0,155.0 L162.0,155.0 L170.0,156.0 L178.0,154.0 L187.0,153.0" fill="none" stroke="#444" stroke-width="0.7" stroke-linejoin="round" stroke-linecap="butt" stroke-dasharray="3.4 1.6" opacity="0.9"/>
<path d="M187.0,32.0 L197.0,34.0 L211.0,37.0 L227.0,39.0 L241.0,41.0 L247.0,38.0 L253.0,39.0 L259.0,43.0 L271.0,42.0 L283.0,41.4 L292.0,41.0 L296.0,36.0 L300.0,39.0 L307.0,42.0 L324.0,42.0" fill="none" stroke="#444" stroke-width="0.7" stroke-linejoin="round" stroke-linecap="butt" stroke-dasharray="3.4 1.6" opacity="0.9"/>
<path d="M187.0,54.0 L203.0,55.0 L217.0,58.0 L227.0,60.0 L241.0,62.0 L253.0,60.0 L267.0,61.0 L281.0,62.0 L293.0,62.0 L299.0,60.0 L311.0,59.4 L324.0,60.0" fill="none" stroke="#444" stroke-width="0.7" stroke-linejoin="round" stroke-linecap="butt" stroke-dasharray="3.4 1.6" opacity="0.9"/>
<path d="M187.0,72.0 L195.0,75.0 L203.0,78.0 L217.0,78.0 L231.0,78.6 L253.0,78.0 L267.0,77.4 L283.0,78.0 L299.0,77.4 L311.0,76.6 L324.0,76.6" fill="none" stroke="#444" stroke-width="0.7" stroke-linejoin="round" stroke-linecap="butt" stroke-dasharray="3.4 1.6" opacity="0.9"/>
<path d="M187.0,94.0 L199.0,93.0 L213.0,93.4 L227.0,93.0 L241.0,93.4" fill="none" stroke="#444" stroke-width="0.7" stroke-linejoin="round" stroke-linecap="butt" stroke-dasharray="3.4 1.6" opacity="0.9"/>
<path d="M264.0,94.0 L277.0,95.0 L291.0,96.0 L301.0,94.0 L311.0,93.4 L324.0,94.6" fill="none" stroke="#444" stroke-width="0.7" stroke-linejoin="round" stroke-linecap="butt" stroke-dasharray="3.4 1.6" opacity="0.9"/>
<path d="M187.0,113.0 L199.0,112.6 L213.0,112.0 L227.0,113.0 L239.0,115.0 L253.0,114.0 L263.0,113.0 L275.0,113.0 L285.0,114.0 L291.0,115.0 L299.0,113.0 L307.0,114.0 L317.0,112.0 L324.0,112.0" fill="none" stroke="#444" stroke-width="0.7" stroke-linejoin="round" stroke-linecap="butt" stroke-dasharray="3.4 1.6" opacity="0.9"/>
<path d="M187.0,134.0 L201.0,134.0 L217.0,134.6 L233.0,135.0 L251.0,136.0 L267.0,137.4 L283.0,138.0 L299.0,137.4 L315.0,137.0 L324.0,137.4" fill="none" stroke="#444" stroke-width="0.7" stroke-linejoin="round" stroke-linecap="butt" stroke-dasharray="3.4 1.6" opacity="0.9"/>
<path d="M187.0,153.0 L197.0,155.0 L211.0,154.6 L227.0,154.0 L243.0,155.0 L259.0,155.4 L275.0,155.0 L291.0,155.4 L307.0,155.0 L324.0,155.4" fill="none" stroke="#444" stroke-width="0.7" stroke-linejoin="round" stroke-linecap="butt" stroke-dasharray="3.4 1.6" opacity="0.9"/>
<path d="M343.0,42.6 L360.0,43.0 L372.0,41.4 L375.6,39.0 L375.0,33.0 L373.0,29.0 L371.0,32.0 L369.0,30.0 L370.0,27.0" fill="none" stroke="#444" stroke-width="0.7" stroke-linejoin="round" stroke-linecap="butt" stroke-dasharray="3.4 1.6" opacity="0.9"/>
<path d="M374.0,25.4 L392.0,26.0 L398.0,29.0 L404.0,28.0 L412.0,31.0 L418.0,29.0 L422.0,31.4 L427.0,31.0 L427.0,26.0" fill="none" stroke="#444" stroke-width="0.7" stroke-linejoin="round" stroke-linecap="butt" stroke-dasharray="3.4 1.6" opacity="0.9"/>
<path d="M435.0,26.0 L436.0,31.0" fill="none" stroke="#444" stroke-width="0.7" stroke-linejoin="round" stroke-linecap="butt" stroke-dasharray="3.4 1.6" opacity="0.9"/>
<path d="M324.0,60.0 L336.0,59.0 L350.0,59.4 L364.0,60.0 L376.0,58.0 L384.0,59.0 L392.0,58.6 L394.0,60.0 L398.0,57.0 L406.0,59.4 L410.0,54.6 L413.0,57.0 L418.0,53.0 L422.0,52.6 L428.0,54.0 L436.0,54.6 L444.0,55.0 L452.0,52.6 L456.0,52.0 L461.0,54.6" fill="none" stroke="#444" stroke-width="0.7" stroke-linejoin="round" stroke-linecap="butt" stroke-dasharray="3.4 1.6" opacity="0.9"/>
<path d="M324.0,76.6 L336.0,76.0 L350.0,77.0 L364.0,76.6 L374.0,78.0 L386.0,78.0" fill="none" stroke="#444" stroke-width="0.7" stroke-linejoin="round" stroke-linecap="butt" stroke-dasharray="3.4 1.6" opacity="0.9"/>
<path d="M410.0,79.0 L424.0,79.4 L436.0,78.6 L448.0,77.4 L461.0,76.0" fill="none" stroke="#444" stroke-width="0.7" stroke-linejoin="round" stroke-linecap="butt" stroke-dasharray="3.4 1.6" opacity="0.9"/>
<path d="M324.0,93.4 L338.0,94.6 L352.0,94.0 L364.0,94.6 L367.0,96.6 L372.0,94.6 L388.0,95.4 L404.0,96.0 L418.0,95.4 L432.0,95.0 L444.0,94.6 L452.0,94.0 L461.0,95.4" fill="none" stroke="#444" stroke-width="0.7" stroke-linejoin="round" stroke-linecap="butt" stroke-dasharray="3.4 1.6" opacity="0.9"/>
<path d="M324.0,110.0 L332.0,112.0 L340.0,112.6 L354.0,110.0 L364.0,112.0 L374.0,113.0 L384.0,114.0 L388.0,111.0 L391.0,114.0 L394.0,111.0 L397.0,114.0 L404.0,113.0 L407.0,116.0 L414.0,114.0 L420.0,115.0 L428.0,114.6 L436.0,115.4 L444.0,114.0 L452.0,115.4 L461.0,115.0" fill="none" stroke="#444" stroke-width="0.7" stroke-linejoin="round" stroke-linecap="butt" stroke-dasharray="3.4 1.6" opacity="0.9"/>
<path d="M324.0,137.0 L336.0,139.0 L350.0,141.0 L364.0,143.0 L374.0,141.0 L382.0,138.0 L390.0,139.0 L400.0,143.0 L412.0,144.0 L424.0,145.0 L436.0,147.0 L444.0,146.0 L452.0,143.0 L461.0,140.0" fill="none" stroke="#444" stroke-width="0.7" stroke-linejoin="round" stroke-linecap="butt" stroke-dasharray="3.4 1.6" opacity="0.9"/>
<path d="M324.0,156.0 L344.0,157.0 L364.0,157.4 L384.0,157.0" fill="none" stroke="#444" stroke-width="0.7" stroke-linejoin="round" stroke-linecap="butt" stroke-dasharray="3.4 1.6" opacity="0.9"/>
<path d="M461.0,55.0 L469.0,52.0 L479.0,48.0 L489.0,45.0 L497.0,41.0 L506.0,36.6 L513.0,38.0 L521.0,39.0 L529.0,37.4 L535.0,40.6 L541.0,41.0 L547.0,37.0 L555.0,31.0 L565.0,25.0" fill="none" stroke="#444" stroke-width="0.7" stroke-linejoin="round" stroke-linecap="butt" stroke-dasharray="3.4 1.6" opacity="0.9"/>
<path d="M461.0,76.6 L467.0,75.4 L473.0,77.0 L479.0,75.0 L484.0,75.4 L489.0,69.0 L493.0,71.0 L498.0,68.0 L507.0,68.6 L515.0,71.0 L523.0,71.4 L529.0,70.6 L534.0,74.0 L539.0,69.0 L545.0,66.0 L553.0,66.0 L561.0,64.0 L569.0,62.0 L575.0,57.0 L579.0,49.0 L583.0,44.6 L589.0,44.0 L594.6,44.6" fill="none" stroke="#444" stroke-width="0.7" stroke-linejoin="round" stroke-linecap="butt" stroke-dasharray="3.4 1.6" opacity="0.9"/>
<path d="M461.0,97.0 L468.0,94.6 L475.0,98.0 L485.0,98.6 L493.0,97.4 L501.0,99.4 L509.0,98.0 L519.0,97.0 L527.0,95.4 L535.0,96.0 L540.0,91.0 L547.0,88.6 L555.0,88.0 L561.0,86.6 L569.0,88.0 L577.0,90.0 L585.0,89.4 L591.0,89.0 L594.6,87.4" fill="none" stroke="#444" stroke-width="0.7" stroke-linejoin="round" stroke-linecap="butt" stroke-dasharray="3.4 1.6" opacity="0.9"/>
<path d="M461.0,114.0 L464.0,114.0" fill="none" stroke="#444" stroke-width="0.7" stroke-linejoin="round" stroke-linecap="butt" stroke-dasharray="3.4 1.6" opacity="0.9"/>
<path d="M487.0,114.6 L497.0,115.0 L507.0,114.0 L519.0,112.6 L529.0,113.0 L535.0,112.0 L540.0,108.6 L547.0,107.4 L555.0,107.0 L561.0,106.6 L569.0,109.0 L577.0,108.6 L585.0,109.0 L594.6,110.0" fill="none" stroke="#444" stroke-width="0.7" stroke-linejoin="round" stroke-linecap="butt" stroke-dasharray="3.4 1.6" opacity="0.9"/>
<path d="M461.0,142.6 L473.0,142.0 L483.0,142.6 L487.0,143.0 L495.0,142.0 L498.0,138.0 L501.0,143.0 L504.0,134.0 L507.4,144.0 L510.6,133.0 L513.4,144.0 L516.6,133.0 L519.4,143.0 L522.6,132.6 L527.0,132.0 L533.0,130.0 L538.0,129.0 L543.0,125.0 L549.0,125.4 L557.0,126.0 L563.0,126.6" fill="none" stroke="#444" stroke-width="0.7" stroke-linejoin="round" stroke-linecap="butt" stroke-dasharray="3.4 1.6" opacity="0.9"/>
<path d="M586.0,126.6 L594.6,127.0" fill="none" stroke="#444" stroke-width="0.7" stroke-linejoin="round" stroke-linecap="butt" stroke-dasharray="3.4 1.6" opacity="0.9"/>
<path d="M586.0,147.0 L591.0,145.0 L594.6,144.0" fill="none" stroke="#444" stroke-width="0.7" stroke-linejoin="round" stroke-linecap="butt" stroke-dasharray="3.4 1.6" opacity="0.9"/>
<path d="M573.0,159.0 L581.0,158.0" fill="none" stroke="#444" stroke-width="0.7" stroke-linejoin="round" stroke-linecap="butt" stroke-dasharray="3.4 1.6" opacity="0.9"/>
<text x="86.4" y="42.0" font-size="8.5" fill="#7f7f7f" text-anchor="middle" textLength="24" lengthAdjust="spacingAndGlyphs">-35 °C</text>
<text x="252.6" y="97.0" font-size="8.5" fill="#7f7f7f" text-anchor="middle" textLength="24" lengthAdjust="spacingAndGlyphs">-25 °C</text>
<text x="331.0" y="44.4" font-size="8.5" fill="#7f7f7f" text-anchor="middle" textLength="24" lengthAdjust="spacingAndGlyphs">-40 °C</text>
<text x="398.4" y="81.6" font-size="8.5" fill="#7f7f7f" text-anchor="middle" textLength="24" lengthAdjust="spacingAndGlyphs">-30 °C</text>
<text x="475.4" y="116.4" font-size="8.5" fill="#7f7f7f" text-anchor="middle" textLength="24" lengthAdjust="spacingAndGlyphs">-20 °C</text>
<text x="574.0" y="129.0" font-size="8.5" fill="#7f7f7f" text-anchor="middle" textLength="24" lengthAdjust="spacingAndGlyphs">-15 °C</text>
<text x="589.0" y="159.6" font-size="8.5" fill="#7f7f7f" text-anchor="middle" textLength="24" lengthAdjust="spacingAndGlyphs" transform="rotate(-18 589.0 156.6)">-10 °C</text>
<path d="M77.0,151.0 L76.0,135.0 L77.0,119.0 L78.4,111.0 L79.6,119.0 L80.0,135.0 L81.6,143.0 L80.0,151.0Z" fill="none" stroke="#fdd347" stroke-width="1.6" stroke-linejoin="round" stroke-linecap="round"/>
<path d="M107.0,135.0 L106.6,119.0 L107.0,103.0 L108.0,93.0 L111.0,92.0 L113.0,97.0 L114.0,107.0 L113.6,117.0 L111.0,119.0 L110.4,127.0 L109.2,135.0 L108.0,139.0Z" fill="none" stroke="#fdd347" stroke-width="1.6" stroke-linejoin="round" stroke-linecap="round"/>
<path d="M120.0,151.0 L119.0,135.0 L119.0,115.0 L120.0,99.0 L121.6,90.0 L124.4,88.0 L127.0,92.0 L129.6,99.0 L131.0,107.0 L130.0,117.0 L129.0,111.0 L127.6,103.0 L126.0,107.0 L125.6,123.0 L126.4,139.0 L125.0,151.0 L122.4,154.0Z" fill="none" stroke="#fdd347" stroke-width="1.6" stroke-linejoin="round" stroke-linecap="round"/>
<path d="M110.0,155.0 L109.6,147.0 L111.0,141.0 L113.0,147.0 L113.6,155.0 L111.6,157.0Z" fill="none" stroke="#fdd347" stroke-width="1.6" stroke-linejoin="round" stroke-linecap="round"/>
<path d="M93.0,160.4 L97.0,153.0 L99.0,147.0" fill="none" stroke="#fdd347" stroke-width="1.6" stroke-linejoin="round" stroke-linecap="round"/>
<path d="M145.6,160.4 L147.0,153.0 L150.0,149.0 L153.0,145.0 L158.0,144.0 L162.0,143.0 L167.0,145.4 L170.0,150.0 L172.4,153.0 L175.0,148.0 L178.0,144.0 L181.0,141.0 L184.0,138.0" fill="none" stroke="#fdd347" stroke-width="1.6" stroke-linejoin="round" stroke-linecap="round"/>
<path d="M109.2,134.8 L110.7,131.7 L112.2,137.8 L113.0,147.0 L112.2,154.7 L110.2,156.2 L109.2,147.0Z" fill="none" stroke="#fdd347" stroke-width="1.6" stroke-linejoin="round" stroke-linecap="round"/>
<path d="M119.4,140.9 L121.4,136.3 L123.0,140.9 L123.4,150.1 L122.2,154.7 L119.9,153.2Z" fill="none" stroke="#fdd347" stroke-width="1.6" stroke-linejoin="round" stroke-linecap="round"/>
<path d="M98.4,107.1 L100.0,104.1 L101.5,108.7 L102.0,116.3 L100.7,119.4 L99.2,116.3Z" fill="none" stroke="#fdd347" stroke-width="1.6" stroke-linejoin="round" stroke-linecap="round"/>
<path d="M105.3,147.0 L106.0,134.8 L106.9,122.5 L107.2,113.3" fill="none" stroke="#fdd347" stroke-width="1.6" stroke-linejoin="round" stroke-linecap="round"/>
<path d="M129.6,101.0 L130.8,105.6 L131.1,116.3 L130.2,122.5" fill="none" stroke="#fdd347" stroke-width="1.6" stroke-linejoin="round" stroke-linecap="round"/>
<path d="M187.0,136.0 L190.0,138.0 L193.0,140.0 L194.6,135.0 L195.4,107.0 L197.0,103.0 L198.6,111.0 L200.0,123.0 L203.0,116.0 L206.0,114.0 L209.0,119.0 L211.0,125.0 L214.0,121.0 L217.0,111.0 L219.0,102.0 L221.0,100.0 L222.6,109.0 L224.0,117.0 L227.0,114.0 L229.0,124.0 L231.0,127.0 L233.0,117.0 L235.0,113.0 L237.0,119.0 L239.0,117.0 L241.0,123.0 L244.0,127.0 L247.0,123.0 L250.0,129.0 L253.0,129.0 L256.0,135.0 L259.0,137.0 L262.0,139.0 L264.0,135.0 L267.0,132.0 L270.0,128.0 L273.0,125.0 L276.0,132.0 L278.0,137.0 L281.0,132.0 L283.0,131.0 L285.0,139.0 L287.0,141.0 L290.0,135.0 L293.0,132.0 L296.0,137.0 L299.0,134.0 L303.0,131.0 L307.0,132.0 L310.0,134.0 L313.0,137.0 L316.0,143.0 L318.0,146.0 L321.0,143.0 L324.0,141.0" fill="none" stroke="#fdd347" stroke-width="1.6" stroke-linejoin="round" stroke-linecap="round"/>
<path d="M324.0,131.0 L328.0,129.0 L332.0,125.0 L336.0,131.0 L339.0,125.0 L342.0,135.0 L346.0,137.0 L350.0,127.0 L353.0,132.0 L355.0,143.0 L359.0,137.0 L364.0,141.0 L367.0,137.0 L369.0,145.0 L367.0,155.0 L364.0,160.4" fill="none" stroke="#fdd347" stroke-width="1.6" stroke-linejoin="round" stroke-linecap="round"/>
<path d="M379.0,160.4 L380.0,147.0 L382.0,135.0 L384.6,123.0 L387.0,120.0 L390.0,127.0 L393.0,120.0 L396.0,127.0 L400.0,131.0 L403.0,137.0 L404.0,141.0 L407.0,140.0 L408.0,132.0 L411.0,139.0 L414.0,145.0 L413.0,153.0 L417.0,156.0" fill="none" stroke="#fdd347" stroke-width="1.6" stroke-linejoin="round" stroke-linecap="round"/>
<path d="M436.0,160.4 L437.0,153.0 L440.0,151.0 L443.6,153.0 L444.4,160.4" fill="none" stroke="#fdd347" stroke-width="1.6" stroke-linejoin="round" stroke-linecap="round"/>
<path d="M447.6,160.4 L448.4,143.0 L451.0,135.0 L456.0,132.0 L461.0,131.0" fill="none" stroke="#fdd347" stroke-width="1.6" stroke-linejoin="round" stroke-linecap="round"/>
<path d="M461.0,132.6 L471.0,133.4 L479.0,139.4 L485.0,145.4 L495.0,147.4 L501.0,152.4 L507.0,149.4 L513.0,148.4 L518.0,143.4 L522.0,143.4 L525.0,142.4 L527.0,151.0 L529.0,160.4" fill="none" stroke="#fdd347" stroke-width="1.6" stroke-linejoin="round" stroke-linecap="round"/>
<path d="M530.0,160.4 L531.0,147.0 L532.6,143.0 L534.6,151.0 L535.4,160.4" fill="none" stroke="#fdd347" stroke-width="1.6" stroke-linejoin="round" stroke-linecap="round"/>
<path d="M541.0,160.4 L542.0,151.0 L543.4,145.0 L545.0,153.0 L546.6,157.0 L548.0,148.0 L551.0,147.0 L555.0,149.0 L559.0,152.0 L565.0,154.0 L570.0,157.0 L573.0,160.4" fill="none" stroke="#fdd347" stroke-width="1.6" stroke-linejoin="round" stroke-linecap="round"/>
<path d="M75.6,160.4 L74.0,151.0 L73.2,139.0 L72.4,127.0 L72.0,117.0 L73.6,111.0 L75.6,106.0 L77.6,103.0 L79.6,105.4 L81.0,113.0 L82.0,119.0 L83.6,117.0 L84.4,123.0 L83.6,131.0 L82.0,132.0 L82.0,143.0 L81.0,151.0 L82.0,160.4" fill="none" stroke="#fb7d4b" stroke-width="1.7" stroke-linejoin="round" stroke-linecap="round"/>
<path d="M75.0,153.0 L75.6,135.0 L74.4,127.0 L76.0,117.0 L77.0,127.0 L76.4,139.0 L77.0,153.0" fill="none" stroke="#fb7d4b" stroke-width="1.7" stroke-linejoin="round" stroke-linecap="round"/>
<path d="M88.0,102.0 L89.6,101.4 L91.0,105.0 L91.0,113.0 L90.0,118.0 L88.4,117.0 L87.4,111.0 L87.4,105.0Z" fill="none" stroke="#fb7d4b" stroke-width="1.7" stroke-linejoin="round" stroke-linecap="round"/>
<path d="M98.0,160.4 L99.2,151.0 L98.0,141.0 L99.0,135.0 L101.6,132.0 L101.0,127.0 L99.0,126.0 L97.0,121.0 L95.0,115.0 L94.4,105.0 L95.6,97.0 L99.0,91.0 L101.0,84.0 L103.6,81.0 L105.2,83.0 L106.0,88.0 L106.8,83.0 L107.2,75.0 L109.6,72.0 L111.0,71.0 L112.0,64.0 L113.6,60.6 L115.4,63.0 L117.0,61.0 L118.0,66.0 L118.6,72.0 L120.0,80.0 L122.4,83.0 L124.4,85.0 L127.0,91.0 L128.0,85.0 L129.0,80.0 L130.6,79.6 L131.6,85.0 L132.0,92.0 L133.6,98.0 L133.6,103.0 L132.0,109.0 L131.0,119.0 L130.0,131.0 L130.6,141.0 L132.0,151.0 L134.0,157.0 L137.0,160.4" fill="none" stroke="#fb7d4b" stroke-width="1.7" stroke-linejoin="round" stroke-linecap="round"/>
<path d="M100.0,102.0 L101.6,103.0 L102.4,111.0 L104.0,117.0 L102.4,119.0 L100.4,115.0 L99.4,107.0Z" fill="none" stroke="#fb7d4b" stroke-width="1.7" stroke-linejoin="round" stroke-linecap="round"/>
<path d="M111.6,143.0 L111.0,131.0 L112.4,124.0 L114.0,131.0 L115.0,141.0 L113.6,145.0Z" fill="none" stroke="#fb7d4b" stroke-width="1.7" stroke-linejoin="round" stroke-linecap="round"/>
<path d="M187.0,94.0 L185.6,98.0 L185.8,104.0 L187.0,106.0" fill="none" stroke="#fb7d4b" stroke-width="1.7" stroke-linejoin="round" stroke-linecap="round"/>
<path d="M178.0,160.4 L179.0,151.0 L182.0,143.0 L185.0,135.0 L187.0,131.0" fill="none" stroke="#fb7d4b" stroke-width="1.7" stroke-linejoin="round" stroke-linecap="round"/>
<path d="M187.0,98.0 L189.0,96.0 L191.0,97.0 L194.0,90.0 L196.0,88.0 L198.0,92.0 L201.0,92.0 L203.0,96.0 L206.0,97.0 L208.0,103.0 L209.4,107.0 L211.4,100.0 L213.0,103.0 L215.0,108.0 L216.6,104.0 L218.0,93.0 L219.0,83.0 L221.0,73.0 L224.0,70.0 L226.0,64.0 L229.0,62.0 L232.0,59.0 L236.0,58.0 L238.0,60.0 L240.0,56.0 L242.0,52.0 L244.0,51.0 L246.4,54.0 L248.0,59.0 L249.4,65.0 L250.6,73.0 L252.0,80.0 L254.0,71.0 L256.0,70.0 L257.0,74.0 L259.4,77.0 L261.0,81.0 L264.0,83.0 L266.0,84.0 L268.0,83.0 L269.6,86.0 L269.6,90.0 L267.0,92.0 L265.4,91.0 L264.0,95.0 L261.0,95.0 L259.4,93.0 L260.6,91.0 L258.6,89.0 L257.0,84.0 L255.0,87.0 L253.0,89.0 L251.0,88.0 L249.0,84.0 L246.0,82.0 L243.0,83.0 L241.4,89.0 L242.0,99.0 L243.0,107.0 L244.0,115.0 L246.0,118.0 L247.0,113.0 L248.6,117.0 L249.4,122.0 L252.0,123.0 L254.0,127.0 L255.0,132.0 L257.0,135.0 L260.0,131.0 L261.4,123.0 L263.0,120.0 L264.0,127.0 L266.0,131.0 L269.0,127.0 L272.0,122.0 L274.0,123.0 L275.0,128.0 L277.0,132.0 L279.0,131.0 L280.6,123.0 L281.6,119.0 L283.0,127.0 L285.0,135.0 L287.0,137.0 L288.6,127.0 L290.0,116.0 L291.4,123.0 L292.6,130.0 L295.0,129.0 L298.0,127.0 L301.0,128.0 L304.0,125.0 L307.0,127.0 L309.0,129.0 L311.0,127.0 L313.0,132.0 L315.0,135.0 L318.0,137.0 L320.0,140.0 L322.0,135.0 L323.0,128.0 L324.0,127.0" fill="none" stroke="#fb7d4b" stroke-width="1.7" stroke-linejoin="round" stroke-linecap="round"/>
<path d="M228.0,112.0 L227.6,103.0 L228.0,89.0 L229.4,77.0 L232.0,72.0 L234.6,74.0 L236.0,83.0 L237.0,95.0 L237.4,105.0 L236.0,107.0 L234.6,99.0 L232.6,97.0 L230.6,103.0 L229.4,112.0Z" fill="none" stroke="#fb7d4b" stroke-width="1.7" stroke-linejoin="round" stroke-linecap="round"/>
<path d="M187.0,132.0 L190.0,133.4 L193.0,129.0 L194.6,117.0 L195.0,103.0 L196.0,88.0" fill="none" stroke="#fb7d4b" stroke-width="1.7" stroke-linejoin="round" stroke-linecap="round"/>
<path d="M203.4,78.0 L205.4,76.0 L207.0,77.0 L209.0,76.0 L209.4,79.0 L207.0,81.0 L205.4,80.6 L204.0,83.0 L203.0,81.0Z" fill="none" stroke="#fb7d4b" stroke-width="1.7" stroke-linejoin="round" stroke-linecap="round"/>
<path d="M255.0,55.0 L256.2,56.0 L256.0,59.0 L254.8,58.0Z" fill="none" stroke="#fb7d4b" stroke-width="1.7" stroke-linejoin="round" stroke-linecap="round"/>
<path d="M268.0,55.0 L269.4,57.0 L269.2,61.0 L268.0,62.0 L267.2,58.6Z" fill="none" stroke="#fb7d4b" stroke-width="1.7" stroke-linejoin="round" stroke-linecap="round"/>
<path d="M289.4,65.0 L290.6,64.0 L291.2,73.0 L290.6,82.0 L289.4,81.0 L288.8,73.0Z" fill="none" stroke="#fb7d4b" stroke-width="1.7" stroke-linejoin="round" stroke-linecap="round"/>
<path d="M314.6,63.6 L315.6,64.0 L315.2,65.2Z" fill="none" stroke="#fb7d4b" stroke-width="1.7" stroke-linejoin="round" stroke-linecap="round"/>
<path d="M223.0,98.0 L223.6,102.0" fill="none" stroke="#fb7d4b" stroke-width="1.7" stroke-linejoin="round" stroke-linecap="round"/>
<path d="M324.0,128.0 L327.0,127.0 L330.0,123.0 L333.0,121.0 L335.0,125.0 L337.0,123.0 L339.0,120.0 L341.0,127.0 L343.0,132.0 L346.0,126.0 L349.0,123.0 L351.0,125.0 L353.0,127.0 L354.0,134.0 L356.0,138.0 L359.0,132.0 L361.0,135.0 L363.0,139.0 L365.0,133.0 L367.0,131.0 L369.0,138.0 L370.4,145.0 L369.0,151.0 L367.0,153.0 L365.0,149.0 L363.0,151.0 L361.0,153.0 L359.6,157.0 L359.0,160.4" fill="none" stroke="#fb7d4b" stroke-width="1.7" stroke-linejoin="round" stroke-linecap="round"/>
<path d="M377.0,160.4 L376.4,151.0 L378.0,145.0 L380.0,137.0 L381.6,127.0 L383.0,123.0 L384.6,117.0 L386.4,116.0 L388.0,123.0 L389.6,129.0 L391.0,121.0 L392.4,115.4 L394.0,119.0 L395.0,125.0 L397.0,123.0 L400.0,127.0 L403.0,132.0 L405.0,129.0 L407.6,126.0 L409.6,129.0 L411.6,135.0 L414.0,139.0 L415.6,145.0 L414.4,151.0 L416.0,154.0 L419.0,151.0 L420.0,143.0 L421.0,137.0 L423.0,141.0 L425.0,131.0 L427.0,123.0 L429.4,120.0 L431.0,125.0 L433.0,135.0 L434.0,143.0 L434.4,151.0 L434.0,160.4" fill="none" stroke="#fb7d4b" stroke-width="1.7" stroke-linejoin="round" stroke-linecap="round"/>
<path d="M446.0,160.4 L446.4,151.0 L447.0,141.0 L449.0,134.0 L452.0,131.0 L456.0,129.0 L461.0,128.0" fill="none" stroke="#fb7d4b" stroke-width="1.7" stroke-linejoin="round" stroke-linecap="round"/>
<path d="M325.0,66.0 L326.2,66.6 L326.4,71.0 L325.4,72.4 L324.8,69.4Z" fill="none" stroke="#fb7d4b" stroke-width="1.7" stroke-linejoin="round" stroke-linecap="round"/>
<path d="M363.6,71.0 L366.0,71.0 L368.4,77.0 L367.0,78.0 L365.0,76.0Z" fill="none" stroke="#fb7d4b" stroke-width="1.7" stroke-linejoin="round" stroke-linecap="round"/>
<path d="M373.0,76.6 L374.4,77.4 L374.0,81.0 L372.8,80.0Z" fill="none" stroke="#fb7d4b" stroke-width="1.7" stroke-linejoin="round" stroke-linecap="round"/>
<path d="M376.4,73.0 L378.4,71.6 L379.0,75.4 L377.2,77.4Z" fill="none" stroke="#fb7d4b" stroke-width="1.7" stroke-linejoin="round" stroke-linecap="round"/>
<path d="M384.6,71.4 L386.0,71.0 L386.4,75.4 L385.0,76.6Z" fill="none" stroke="#fb7d4b" stroke-width="1.7" stroke-linejoin="round" stroke-linecap="round"/>
<path d="M394.0,63.0 L397.0,65.0 L398.0,71.0 L396.0,74.0 L394.0,71.0 L395.0,67.0Z" fill="none" stroke="#fb7d4b" stroke-width="1.7" stroke-linejoin="round" stroke-linecap="round"/>
<path d="M461.0,131.0 L464.0,133.0 L467.0,131.0 L470.0,132.0 L473.0,130.0 L476.0,134.0 L479.0,137.0 L482.0,139.0 L485.0,143.0 L488.0,145.0 L491.0,143.0 L494.0,144.0 L496.0,148.0 L498.0,151.0 L501.0,150.0 L503.4,153.0 L505.4,151.0 L508.0,147.0 L511.0,148.0 L514.0,146.0 L516.0,151.0 L517.4,147.0 L519.0,143.0 L521.0,142.0 L523.0,144.0 L524.6,143.0 L526.0,148.0 L527.0,153.0 L528.6,160.4" fill="none" stroke="#fb7d4b" stroke-width="1.7" stroke-linejoin="round" stroke-linecap="round"/>
<path d="M530.6,160.4 L531.0,151.0 L532.0,145.0 L533.4,151.0 L534.0,160.4" fill="none" stroke="#fb7d4b" stroke-width="1.7" stroke-linejoin="round" stroke-linecap="round"/>
<path d="M547.0,160.4 L548.0,153.0 L550.0,152.0 L553.0,154.0 L554.6,160.4" fill="none" stroke="#fb7d4b" stroke-width="1.7" stroke-linejoin="round" stroke-linecap="round"/>
</g>
<rect x="50.5" y="25.0" width="544.3" height="135.5" fill="none" stroke="#000" stroke-width="0.85"/>
<line x1="78.5" y1="160.5" x2="78.5" y2="164.0" stroke="#000" stroke-width="0.8"/>
<line x1="164.5" y1="160.5" x2="164.5" y2="164.0" stroke="#000" stroke-width="0.8"/>
<line x1="250.5" y1="160.5" x2="250.5" y2="164.0" stroke="#000" stroke-width="0.8"/>
<line x1="336.5" y1="160.5" x2="336.5" y2="164.0" stroke="#000" stroke-width="0.8"/>
<line x1="422.5" y1="160.5" x2="422.5" y2="164.0" stroke="#000" stroke-width="0.8"/>
<line x1="508.5" y1="160.5" x2="508.5" y2="164.0" stroke="#000" stroke-width="0.8"/>
<line x1="594.5" y1="160.5" x2="594.5" y2="164.0" stroke="#000" stroke-width="0.8"/>
<line x1="47.0" y1="160.50" x2="50.5" y2="160.50" stroke="#000" stroke-width="0.8"/>
<text x="44.5" y="164.3" font-size="10.8" text-anchor="end" fill="#000" font-weight="normal" textLength="6.7" lengthAdjust="spacingAndGlyphs" >0</text>
<line x1="47.0" y1="133.50" x2="50.5" y2="133.50" stroke="#000" stroke-width="0.8"/>
<text x="44.5" y="137.3" font-size="10.8" text-anchor="end" fill="#000" font-weight="normal" textLength="6.7" lengthAdjust="spacingAndGlyphs" >1</text>
<line x1="47.0" y1="106.50" x2="50.5" y2="106.50" stroke="#000" stroke-width="0.8"/>
<text x="44.5" y="110.3" font-size="10.8" text-anchor="end" fill="#000" font-weight="normal" textLength="6.7" lengthAdjust="spacingAndGlyphs" >2</text>
<line x1="47.0" y1="79.50" x2="50.5" y2="79.50" stroke="#000" stroke-width="0.8"/>
<text x="44.5" y="83.3" font-size="10.8" text-anchor="end" fill="#000" font-weight="normal" textLength="6.7" lengthAdjust="spacingAndGlyphs" >3</text>
<line x1="47.0" y1="52.50" x2="50.5" y2="52.50" stroke="#000" stroke-width="0.8"/>
<text x="44.5" y="56.3" font-size="10.8" text-anchor="end" fill="#000" font-weight="normal" textLength="6.7" lengthAdjust="spacingAndGlyphs" >4</text>
<line x1="47.0" y1="25.00" x2="50.5" y2="25.00" stroke="#000" stroke-width="0.8"/>
<text x="44.5" y="28.8" font-size="10.8" text-anchor="end" fill="#000" font-weight="normal" textLength="6.7" lengthAdjust="spacingAndGlyphs" >5</text>
<text x="577.3" y="38.9" font-size="13.2" text-anchor="middle" fill="#000" font-weight="bold" >a</text>
<text transform="translate(32.2 128.1) rotate(-90)" font-size="11" textLength="70.5" lengthAdjust="spacingAndGlyphs">Altitude [km]</text>
<rect x="628.5" y="143.56" width="9.5" height="17.24" fill="#d2e3f3"/>
<rect x="628.5" y="126.62" width="9.5" height="17.24" fill="#b9d6ea"/>
<rect x="628.5" y="109.69" width="9.5" height="17.24" fill="#94c4df"/>
<rect x="628.5" y="92.75" width="9.5" height="17.24" fill="#6aaed6"/>
<rect x="628.5" y="75.81" width="9.5" height="17.24" fill="#4a98c9"/>
<rect x="628.5" y="58.88" width="9.5" height="17.24" fill="#2e7ebc"/>
<rect x="628.5" y="41.94" width="9.5" height="17.24" fill="#1460a8"/>
<rect x="628.5" y="25.00" width="9.5" height="17.24" fill="#083e80"/>
<rect x="628.5" y="25.0" width="9.5" height="135.5" fill="none" stroke="#333" stroke-width="0.7"/>
<line x1="638.0" y1="160.50" x2="641.5" y2="160.50" stroke="#000" stroke-width="0.8"/>
<text x="644.3" y="164.3" font-size="10.8" text-anchor="start" fill="#000" font-weight="normal" textLength="23.6" lengthAdjust="spacingAndGlyphs" >0.00</text>
<line x1="638.0" y1="126.62" x2="641.5" y2="126.62" stroke="#000" stroke-width="0.8"/>
<text x="644.3" y="130.4" font-size="10.8" text-anchor="start" fill="#000" font-weight="normal" textLength="23.6" lengthAdjust="spacingAndGlyphs" >0.25</text>
<line x1="638.0" y1="92.75" x2="641.5" y2="92.75" stroke="#000" stroke-width="0.8"/>
<text x="644.3" y="96.5" font-size="10.8" text-anchor="start" fill="#000" font-weight="normal" textLength="23.6" lengthAdjust="spacingAndGlyphs" >0.50</text>
<line x1="638.0" y1="58.88" x2="641.5" y2="58.88" stroke="#000" stroke-width="0.8"/>
<text x="644.3" y="62.7" font-size="10.8" text-anchor="start" fill="#000" font-weight="normal" textLength="23.6" lengthAdjust="spacingAndGlyphs" >0.75</text>
<line x1="638.0" y1="25.00" x2="641.5" y2="25.00" stroke="#000" stroke-width="0.8"/>
<text x="644.3" y="28.8" font-size="10.8" text-anchor="start" fill="#000" font-weight="normal" textLength="23.6" lengthAdjust="spacingAndGlyphs" >1.00</text>
<text transform="translate(681.8 161.2) rotate(-90)" font-size="12.3" textLength="137" lengthAdjust="spacingAndGlyphs">LWC CONTROL [gm<tspan dy="-4" font-size="8">−3</tspan><tspan dy="4">]</tspan></text>
<line x1="78.5" y1="188.0" x2="78.5" y2="323.5" stroke="#b0b0b0" stroke-width="0.8"/>
<line x1="164.5" y1="188.0" x2="164.5" y2="323.5" stroke="#b0b0b0" stroke-width="0.8"/>
<line x1="250.5" y1="188.0" x2="250.5" y2="323.5" stroke="#b0b0b0" stroke-width="0.8"/>
<line x1="336.5" y1="188.0" x2="336.5" y2="323.5" stroke="#b0b0b0" stroke-width="0.8"/>
<line x1="422.5" y1="188.0" x2="422.5" y2="323.5" stroke="#b0b0b0" stroke-width="0.8"/>
<line x1="508.5" y1="188.0" x2="508.5" y2="323.5" stroke="#b0b0b0" stroke-width="0.8"/>
<line x1="50.5" y1="296.50" x2="594.5" y2="296.50" stroke="#b2b2b2" stroke-width="0.9"/>
<line x1="50.5" y1="269.50" x2="594.5" y2="269.50" stroke="#b2b2b2" stroke-width="0.9"/>
<line x1="50.5" y1="242.50" x2="594.5" y2="242.50" stroke="#b2b2b2" stroke-width="0.9"/>
<line x1="50.5" y1="215.50" x2="594.5" y2="215.50" stroke="#b2b2b2" stroke-width="0.9"/>
<g clip-path="url(#cpb)">
<path d="M50.0,323.4 L50.0,306.0 L54.0,304.0 L58.0,294.0 L62.0,288.0 L66.0,284.0 L70.0,282.0 L72.0,274.0 L74.0,270.0 L77.0,274.0 L80.0,272.0 L81.6,280.0 L83.0,290.0 L84.0,302.0 L83.0,314.0 L82.0,323.4Z" fill="#d3e3f3" stroke="none" stroke-width="0" opacity="1"/>
<path d="M84.0,298.0 L90.0,299.0 L97.0,304.0 L98.0,308.0 L90.0,306.0 L85.0,304.0Z" fill="#d3e3f3" stroke="none" stroke-width="0" opacity="1"/>
<path d="M85.0,318.0 L99.0,316.0 L99.0,323.4 L85.0,323.4Z" fill="#d3e3f3" stroke="none" stroke-width="0" opacity="1"/>
<path d="M50.0,323.4 L50.0,312.0 L56.0,314.0 L62.0,320.0 L66.0,323.4Z" fill="#b9d6ea" stroke="none" stroke-width="0" opacity="1"/>
<path d="M62.0,290.0 L70.0,286.0 L70.0,298.0 L64.0,300.0Z" fill="#b9d6ea" stroke="none" stroke-width="0" opacity="1"/>
<path d="M70.0,323.4 L71.0,306.0 L71.6,286.0 L73.0,276.0 L75.0,274.0 L77.0,286.0 L78.0,306.0 L78.0,323.4Z" fill="#94c4df" stroke="none" stroke-width="0" opacity="1"/>
<path d="M97.0,323.4 L97.0,306.0 L95.0,290.0 L88.0,274.0 L90.0,262.0 L96.0,258.0 L99.0,246.0 L103.0,234.0 L108.0,230.0 L116.0,229.0 L121.0,234.0 L124.0,250.0 L128.0,262.0 L134.0,266.0 L137.0,274.0 L134.0,282.0 L131.0,290.0 L130.0,306.0 L133.0,323.4Z" fill="#d3e3f3" stroke="none" stroke-width="0" opacity="1"/>
<path d="M100.0,323.4 L99.0,298.0 L98.0,278.0 L99.0,262.0 L100.0,250.0 L103.0,240.0 L108.0,238.0 L114.0,240.0 L120.0,242.0 L124.0,254.0 L127.0,266.0 L129.0,278.0 L129.0,298.0 L130.0,314.0 L131.0,323.4Z" fill="#94c4df" stroke="none" stroke-width="0" opacity="1"/>
<path d="M101.0,323.4 L100.4,298.0 L100.0,270.0 L101.6,254.0 L106.0,250.0 L109.0,266.0 L110.0,290.0 L108.0,310.0 L106.0,323.4Z" fill="#4a98c9" stroke="none" stroke-width="0" opacity="1"/>
<path d="M116.0,314.0 L117.0,290.0 L118.0,266.0 L121.0,254.0 L124.0,262.0 L126.0,276.0 L127.0,298.0 L126.0,314.0 L122.0,323.4 L119.0,323.4Z" fill="#4a98c9" stroke="none" stroke-width="0" opacity="1"/>
<path d="M111.0,323.4 L110.0,298.0 L112.0,280.0 L115.0,290.0 L116.0,306.0 L118.0,323.4Z" fill="#d3e3f3" stroke="none" stroke-width="0" opacity="1"/>
<path d="M144.0,323.4 L147.0,316.0 L152.0,311.0 L158.0,308.0 L164.0,309.0 L168.0,306.0 L172.0,302.0 L178.0,301.0 L183.0,297.0 L187.0,295.0 L187.0,323.4Z" fill="#d3e3f3" stroke="none" stroke-width="0" opacity="1"/>
<path d="M148.0,323.4 L150.0,316.0 L154.0,313.0 L159.0,311.0 L165.0,312.0 L170.0,308.0 L175.0,306.0 L180.0,304.0 L187.0,300.0 L187.0,323.4Z" fill="#4a98c9" stroke="none" stroke-width="0" opacity="1"/>
<path d="M154.0,323.4 L156.0,316.0 L162.0,314.0 L168.0,314.0 L171.0,310.0 L175.0,314.0 L178.0,308.0 L182.0,306.0 L187.0,306.0 L187.0,323.4Z" fill="#1460a8" stroke="none" stroke-width="0" opacity="1"/>
<path d="M187.0,323.4 L187.0,294.0 L189.0,266.0 L193.0,250.0 L198.0,240.0 L203.0,234.0 L209.0,231.0 L215.0,220.0 L223.0,216.0 L235.0,217.0 L240.0,224.0 L243.0,238.0 L249.0,242.0 L257.0,244.0 L259.0,254.0 L256.0,266.0 L255.0,274.0 L261.0,276.0 L267.0,274.0 L271.0,280.0 L275.0,286.0 L281.0,290.0 L287.0,282.0 L289.0,264.0 L291.0,274.0 L293.0,290.0 L296.0,298.0 L301.0,300.0 L307.0,302.0 L312.0,298.0 L315.0,274.0 L318.0,266.0 L321.0,270.0 L324.0,256.0 L324.0,323.4Z" fill="#d3e3f3" stroke="none" stroke-width="0" opacity="1"/>
<path d="M187.0,323.4 L187.0,298.0 L190.0,282.0 L193.0,274.0 L197.0,286.0 L201.0,294.0 L207.0,292.0 L213.0,290.0 L217.0,280.0 L223.0,276.0 L227.0,282.0 L233.0,286.0 L239.0,280.0 L245.0,282.0 L251.0,286.0 L257.0,282.0 L263.0,290.0 L267.0,280.0 L271.0,286.0 L275.0,294.0 L281.0,298.0 L287.0,290.0 L290.0,282.0 L293.0,294.0 L297.0,302.0 L303.0,304.0 L309.0,306.0 L313.0,302.0 L316.0,282.0 L319.0,276.0 L322.0,282.0 L324.0,270.0 L324.0,323.4Z" fill="#94c4df" stroke="none" stroke-width="0" opacity="1"/>
<path d="M187.0,323.4 L187.0,304.0 L193.0,300.0 L199.0,304.0 L207.0,306.0 L213.0,310.0 L223.0,306.0 L233.0,308.0 L239.0,304.0 L247.0,306.0 L255.0,302.0 L261.0,304.0 L267.0,298.0 L273.0,304.0 L281.0,308.0 L287.0,302.0 L291.0,298.0 L295.0,306.0 L303.0,308.0 L311.0,310.0 L315.0,298.0 L318.0,290.0 L321.0,298.0 L324.0,294.0 L324.0,323.4Z" fill="#4a98c9" stroke="none" stroke-width="0" opacity="1"/>
<path d="M187.0,323.4 L187.0,310.0 L191.0,306.0 L195.0,314.0 L199.0,310.0 L203.0,318.0 L207.0,323.4Z" fill="#1460a8" stroke="none" stroke-width="0" opacity="1"/>
<path d="M189.4,298.0 L190.0,270.0 L192.0,252.0 L196.0,246.0 L199.0,252.0 L199.4,274.0 L200.6,294.0Z" fill="#94c4df" stroke="none" stroke-width="0" opacity="1"/>
<path d="M201.0,294.0 L202.0,270.0 L205.0,264.0 L207.0,274.0 L207.4,294.0Z" fill="#b9d6ea" stroke="none" stroke-width="0" opacity="1"/>
<path d="M217.0,280.0 L219.0,262.0 L222.0,258.0 L225.0,266.0 L226.0,280.0Z" fill="#94c4df" stroke="none" stroke-width="0" opacity="1"/>
<path d="M253.0,323.4 L255.0,314.0 L259.0,306.0 L263.0,314.0 L267.0,306.0 L271.0,314.0 L275.0,323.4Z" fill="#1460a8" stroke="none" stroke-width="0" opacity="1"/>
<path d="M283.0,323.4 L285.0,314.0 L289.0,306.0 L292.0,310.0 L295.0,318.0 L299.0,314.0 L303.0,318.0 L307.0,323.4Z" fill="#1460a8" stroke="none" stroke-width="0" opacity="1"/>
<path d="M311.0,323.4 L313.0,310.0 L316.0,294.0 L319.0,298.0 L321.0,310.0 L324.0,306.0 L324.0,323.4Z" fill="#1460a8" stroke="none" stroke-width="0" opacity="1"/>
<path d="M324.0,323.4 L324.0,258.0 L326.4,257.0 L327.6,272.0 L329.0,282.0 L332.0,286.0 L336.0,280.0 L340.0,286.0 L344.0,284.0 L348.0,292.0 L352.0,286.0 L356.0,288.0 L360.0,298.0 L364.0,294.0 L366.4,282.0 L369.0,290.0 L372.0,284.0 L374.0,298.0 L377.0,302.0 L381.0,290.0 L384.0,280.0 L388.0,280.0 L392.0,274.0 L395.0,284.0 L399.0,282.0 L403.0,288.0 L408.0,294.0 L412.0,302.0 L416.0,306.0 L422.0,304.0 L426.0,298.0 L429.0,306.0 L434.0,308.0 L439.0,298.0 L440.4,292.0 L442.0,304.0 L447.0,300.0 L452.0,296.0 L457.0,298.0 L461.0,297.0 L461.0,323.4Z" fill="#d3e3f3" stroke="none" stroke-width="0" opacity="1"/>
<path d="M324.0,323.4 L324.0,262.0 L326.4,261.0 L327.6,276.0 L329.0,286.0 L332.0,290.0 L336.0,284.0 L340.0,290.0 L344.0,288.0 L348.0,296.0 L352.0,290.0 L356.0,292.0 L360.0,302.0 L364.0,298.0 L366.4,286.0 L369.0,294.0 L372.0,288.0 L374.0,302.0 L377.0,306.0 L381.0,294.0 L384.0,284.0 L388.0,284.0 L392.0,278.0 L395.0,288.0 L399.0,286.0 L403.0,292.0 L408.0,298.0 L412.0,306.0 L416.0,310.0 L422.0,308.0 L426.0,302.0 L429.0,310.0 L434.0,312.0 L439.0,302.0 L440.4,296.0 L442.0,308.0 L447.0,304.0 L452.0,300.0 L457.0,302.0 L461.0,301.0 L461.0,323.4Z" fill="#94c4df" stroke="none" stroke-width="0" opacity="1"/>
<path d="M324.0,323.4 L324.0,267.0 L326.4,266.0 L327.6,281.0 L329.0,291.0 L332.0,295.0 L336.0,289.0 L340.0,295.0 L344.0,293.0 L348.0,301.0 L352.0,295.0 L356.0,297.0 L360.0,307.0 L364.0,303.0 L366.4,291.0 L369.0,299.0 L372.0,293.0 L374.0,307.0 L377.0,311.0 L381.0,299.0 L384.0,289.0 L388.0,289.0 L392.0,283.0 L395.0,293.0 L399.0,291.0 L403.0,297.0 L408.0,303.0 L412.0,311.0 L416.0,315.0 L422.0,313.0 L426.0,307.0 L429.0,315.0 L434.0,317.0 L439.0,307.0 L440.4,301.0 L442.0,313.0 L447.0,309.0 L452.0,305.0 L457.0,307.0 L461.0,306.0 L461.0,323.4Z" fill="#6aaed6" stroke="none" stroke-width="0" opacity="1"/>
<path d="M344.0,323.4 L345.0,306.0 L347.0,294.0 L350.0,298.0 L352.0,310.0 L354.0,323.4Z" fill="#2e7ebc" stroke="none" stroke-width="0" opacity="1"/>
<path d="M384.0,323.4 L385.0,306.0 L388.0,290.0 L391.0,286.0 L394.0,298.0 L397.0,306.0 L400.0,294.0 L403.0,298.0 L405.0,310.0 L406.0,323.4Z" fill="#2e7ebc" stroke="none" stroke-width="0" opacity="1"/>
<path d="M324.0,323.4 L324.0,266.0 L326.4,270.0 L327.6,290.0 L328.0,323.4Z" fill="#2e7ebc" stroke="none" stroke-width="0" opacity="1"/>
<path d="M436.0,323.4 L437.0,310.0 L439.0,304.0 L441.0,310.0 L442.0,323.4Z" fill="#2e7ebc" stroke="none" stroke-width="0" opacity="1"/>
<path d="M422.0,323.4 L423.0,310.0 L426.0,306.0 L428.0,314.0 L429.0,323.4Z" fill="#2e7ebc" stroke="none" stroke-width="0" opacity="1"/>
<path d="M461.0,323.4 L461.0,298.0 L464.0,294.0 L467.0,298.0 L471.0,296.0 L475.0,299.0 L478.0,298.0 L481.0,290.0 L483.0,282.0 L486.0,281.0 L488.0,290.0 L491.0,296.0 L494.0,298.0 L498.0,297.0 L502.0,302.0 L506.0,304.0 L510.0,305.0 L514.0,300.0 L517.0,298.0 L520.0,304.0 L523.0,310.0 L526.0,308.0 L530.0,310.0 L532.0,316.0 L534.0,313.0 L541.0,312.0 L549.0,311.0 L555.0,313.0 L561.0,316.0 L565.0,319.0 L569.0,323.4Z" fill="#d3e3f3" stroke="none" stroke-width="0" opacity="1"/>
<path d="M461.0,323.4 L461.0,302.0 L469.0,301.0 L477.0,303.0 L481.0,298.0 L484.0,286.0 L487.0,290.0 L489.0,302.0 L495.0,306.0 L503.0,308.0 L511.0,308.0 L516.0,304.0 L519.0,310.0 L523.0,314.0 L529.0,314.0 L532.0,323.4Z" fill="#94c4df" stroke="none" stroke-width="0" opacity="1"/>
<path d="M532.0,323.4 L534.0,316.0 L541.0,315.0 L549.0,314.0 L555.0,316.0 L561.0,319.0 L565.0,323.4Z" fill="#94c4df" stroke="none" stroke-width="0" opacity="1"/>
<path d="M461.0,323.4 L461.0,306.0 L467.0,304.0 L473.0,310.0 L479.0,306.0 L482.0,294.0 L484.0,286.0 L486.0,292.0 L488.0,306.0 L491.0,314.0 L497.0,316.0 L507.0,314.0 L513.0,308.0 L516.0,306.0 L518.0,314.0 L520.0,323.4Z" fill="#4a98c9" stroke="none" stroke-width="0" opacity="1"/>
<path d="M482.0,323.4 L482.6,306.0 L483.4,290.0 L485.0,286.0 L486.6,294.0 L488.0,310.0 L489.0,323.4Z" fill="#1460a8" stroke="none" stroke-width="0" opacity="1"/>
<path d="M513.0,323.4 L514.0,310.0 L516.0,306.0 L517.4,314.0 L518.0,323.4Z" fill="#1460a8" stroke="none" stroke-width="0" opacity="1"/>
<path d="M523.0,323.4 L524.0,314.0 L526.0,312.0 L527.4,318.0 L528.0,323.4Z" fill="#1460a8" stroke="none" stroke-width="0" opacity="1"/>
<path d="M55.0,314.0 L54.0,308.0 L58.0,306.0 L61.0,311.0 L59.0,316.0Z" fill="#fff" stroke="none" stroke-width="0" opacity="1"/>
<path d="M320.6,306.0 L324.0,304.0 L324.0,314.0 L321.4,315.0Z" fill="#fff" stroke="none" stroke-width="0" opacity="1"/>
<path d="M207.0,248.0 L212.0,246.0 L215.0,254.0 L215.0,270.0 L211.0,274.0 L207.0,266.0Z" fill="#fff" stroke="none" stroke-width="0" opacity="1"/>
<path d="M258.0,246.0 L270.0,246.0 L271.0,254.0 L261.0,256.0 L258.0,254.0Z" fill="#fff" stroke="none" stroke-width="0" opacity="1"/>
<path d="M191.0,262.0 L195.0,254.0 L197.0,266.0 L195.0,278.0 L192.0,274.0Z" fill="#fff" stroke="none" stroke-width="0" opacity="1"/>
<path d="M484.6,294.0 L485.8,292.0 L486.6,302.0 L485.8,306.0 L484.8,302.0Z" fill="#fff" stroke="none" stroke-width="0" opacity="1"/>
<path d="M514.6,310.0 L515.8,308.0 L516.4,314.0 L515.4,316.0Z" fill="#fff" stroke="none" stroke-width="0" opacity="1"/>
<clipPath id="cl3b">
<path d="M70.0,323.4 L71.0,306.0 L71.6,286.0 L73.0,276.0 L75.0,274.0 L77.0,286.0 L78.0,306.0 L78.0,323.4Z"/>
<path d="M100.0,323.4 L99.0,298.0 L98.0,278.0 L99.0,262.0 L100.0,250.0 L103.0,240.0 L108.0,238.0 L114.0,240.0 L120.0,242.0 L124.0,254.0 L127.0,266.0 L129.0,278.0 L129.0,298.0 L130.0,314.0 L131.0,323.4Z"/>
<path d="M101.0,323.4 L100.4,298.0 L100.0,270.0 L101.6,254.0 L106.0,250.0 L109.0,266.0 L110.0,290.0 L108.0,310.0 L106.0,323.4Z"/>
<path d="M116.0,314.0 L117.0,290.0 L118.0,266.0 L121.0,254.0 L124.0,262.0 L126.0,276.0 L127.0,298.0 L126.0,314.0 L122.0,323.4 L119.0,323.4Z"/>
<path d="M148.0,323.4 L150.0,316.0 L154.0,313.0 L159.0,311.0 L165.0,312.0 L170.0,308.0 L175.0,306.0 L180.0,304.0 L187.0,300.0 L187.0,323.4Z"/>
<path d="M154.0,323.4 L156.0,316.0 L162.0,314.0 L168.0,314.0 L171.0,310.0 L175.0,314.0 L178.0,308.0 L182.0,306.0 L187.0,306.0 L187.0,323.4Z"/>
<path d="M187.0,323.4 L187.0,298.0 L190.0,282.0 L193.0,274.0 L197.0,286.0 L201.0,294.0 L207.0,292.0 L213.0,290.0 L217.0,280.0 L223.0,276.0 L227.0,282.0 L233.0,286.0 L239.0,280.0 L245.0,282.0 L251.0,286.0 L257.0,282.0 L263.0,290.0 L267.0,280.0 L271.0,286.0 L275.0,294.0 L281.0,298.0 L287.0,290.0 L290.0,282.0 L293.0,294.0 L297.0,302.0 L303.0,304.0 L309.0,306.0 L313.0,302.0 L316.0,282.0 L319.0,276.0 L322.0,282.0 L324.0,270.0 L324.0,323.4Z"/>
<path d="M187.0,323.4 L187.0,304.0 L193.0,300.0 L199.0,304.0 L207.0,306.0 L213.0,310.0 L223.0,306.0 L233.0,308.0 L239.0,304.0 L247.0,306.0 L255.0,302.0 L261.0,304.0 L267.0,298.0 L273.0,304.0 L281.0,308.0 L287.0,302.0 L291.0,298.0 L295.0,306.0 L303.0,308.0 L311.0,310.0 L315.0,298.0 L318.0,290.0 L321.0,298.0 L324.0,294.0 L324.0,323.4Z"/>
<path d="M187.0,323.4 L187.0,310.0 L191.0,306.0 L195.0,314.0 L199.0,310.0 L203.0,318.0 L207.0,323.4Z"/>
<path d="M189.4,298.0 L190.0,270.0 L192.0,252.0 L196.0,246.0 L199.0,252.0 L199.4,274.0 L200.6,294.0Z"/>
<path d="M217.0,280.0 L219.0,262.0 L222.0,258.0 L225.0,266.0 L226.0,280.0Z"/>
<path d="M253.0,323.4 L255.0,314.0 L259.0,306.0 L263.0,314.0 L267.0,306.0 L271.0,314.0 L275.0,323.4Z"/>
<path d="M283.0,323.4 L285.0,314.0 L289.0,306.0 L292.0,310.0 L295.0,318.0 L299.0,314.0 L303.0,318.0 L307.0,323.4Z"/>
<path d="M311.0,323.4 L313.0,310.0 L316.0,294.0 L319.0,298.0 L321.0,310.0 L324.0,306.0 L324.0,323.4Z"/>
<path d="M324.0,323.4 L324.0,262.0 L326.4,261.0 L327.6,276.0 L329.0,286.0 L332.0,290.0 L336.0,284.0 L340.0,290.0 L344.0,288.0 L348.0,296.0 L352.0,290.0 L356.0,292.0 L360.0,302.0 L364.0,298.0 L366.4,286.0 L369.0,294.0 L372.0,288.0 L374.0,302.0 L377.0,306.0 L381.0,294.0 L384.0,284.0 L388.0,284.0 L392.0,278.0 L395.0,288.0 L399.0,286.0 L403.0,292.0 L408.0,298.0 L412.0,306.0 L416.0,310.0 L422.0,308.0 L426.0,302.0 L429.0,310.0 L434.0,312.0 L439.0,302.0 L440.4,296.0 L442.0,308.0 L447.0,304.0 L452.0,300.0 L457.0,302.0 L461.0,301.0 L461.0,323.4Z"/>
<path d="M324.0,323.4 L324.0,267.0 L326.4,266.0 L327.6,281.0 L329.0,291.0 L332.0,295.0 L336.0,289.0 L340.0,295.0 L344.0,293.0 L348.0,301.0 L352.0,295.0 L356.0,297.0 L360.0,307.0 L364.0,303.0 L366.4,291.0 L369.0,299.0 L372.0,293.0 L374.0,307.0 L377.0,311.0 L381.0,299.0 L384.0,289.0 L388.0,289.0 L392.0,283.0 L395.0,293.0 L399.0,291.0 L403.0,297.0 L408.0,303.0 L412.0,311.0 L416.0,315.0 L422.0,313.0 L426.0,307.0 L429.0,315.0 L434.0,317.0 L439.0,307.0 L440.4,301.0 L442.0,313.0 L447.0,309.0 L452.0,305.0 L457.0,307.0 L461.0,306.0 L461.0,323.4Z"/>
<path d="M344.0,323.4 L345.0,306.0 L347.0,294.0 L350.0,298.0 L352.0,310.0 L354.0,323.4Z"/>
<path d="M384.0,323.4 L385.0,306.0 L388.0,290.0 L391.0,286.0 L394.0,298.0 L397.0,306.0 L400.0,294.0 L403.0,298.0 L405.0,310.0 L406.0,323.4Z"/>
<path d="M324.0,323.4 L324.0,266.0 L326.4,270.0 L327.6,290.0 L328.0,323.4Z"/>
<path d="M436.0,323.4 L437.0,310.0 L439.0,304.0 L441.0,310.0 L442.0,323.4Z"/>
<path d="M422.0,323.4 L423.0,310.0 L426.0,306.0 L428.0,314.0 L429.0,323.4Z"/>
<path d="M461.0,323.4 L461.0,302.0 L469.0,301.0 L477.0,303.0 L481.0,298.0 L484.0,286.0 L487.0,290.0 L489.0,302.0 L495.0,306.0 L503.0,308.0 L511.0,308.0 L516.0,304.0 L519.0,310.0 L523.0,314.0 L529.0,314.0 L532.0,323.4Z"/>
<path d="M532.0,323.4 L534.0,316.0 L541.0,315.0 L549.0,314.0 L555.0,316.0 L561.0,319.0 L565.0,323.4Z"/>
<path d="M461.0,323.4 L461.0,306.0 L467.0,304.0 L473.0,310.0 L479.0,306.0 L482.0,294.0 L484.0,286.0 L486.0,292.0 L488.0,306.0 L491.0,314.0 L497.0,316.0 L507.0,314.0 L513.0,308.0 L516.0,306.0 L518.0,314.0 L520.0,323.4Z"/>
<path d="M482.0,323.4 L482.6,306.0 L483.4,290.0 L485.0,286.0 L486.6,294.0 L488.0,310.0 L489.0,323.4Z"/>
<path d="M513.0,323.4 L514.0,310.0 L516.0,306.0 L517.4,314.0 L518.0,323.4Z"/>
<path d="M523.0,323.4 L524.0,314.0 L526.0,312.0 L527.4,318.0 L528.0,323.4Z"/>
</clipPath>
<clipPath id="cl5b">
<path d="M101.0,323.4 L100.4,298.0 L100.0,270.0 L101.6,254.0 L106.0,250.0 L109.0,266.0 L110.0,290.0 L108.0,310.0 L106.0,323.4Z"/>
<path d="M116.0,314.0 L117.0,290.0 L118.0,266.0 L121.0,254.0 L124.0,262.0 L126.0,276.0 L127.0,298.0 L126.0,314.0 L122.0,323.4 L119.0,323.4Z"/>
<path d="M148.0,323.4 L150.0,316.0 L154.0,313.0 L159.0,311.0 L165.0,312.0 L170.0,308.0 L175.0,306.0 L180.0,304.0 L187.0,300.0 L187.0,323.4Z"/>
<path d="M154.0,323.4 L156.0,316.0 L162.0,314.0 L168.0,314.0 L171.0,310.0 L175.0,314.0 L178.0,308.0 L182.0,306.0 L187.0,306.0 L187.0,323.4Z"/>
<path d="M187.0,323.4 L187.0,304.0 L193.0,300.0 L199.0,304.0 L207.0,306.0 L213.0,310.0 L223.0,306.0 L233.0,308.0 L239.0,304.0 L247.0,306.0 L255.0,302.0 L261.0,304.0 L267.0,298.0 L273.0,304.0 L281.0,308.0 L287.0,302.0 L291.0,298.0 L295.0,306.0 L303.0,308.0 L311.0,310.0 L315.0,298.0 L318.0,290.0 L321.0,298.0 L324.0,294.0 L324.0,323.4Z"/>
<path d="M187.0,323.4 L187.0,310.0 L191.0,306.0 L195.0,314.0 L199.0,310.0 L203.0,318.0 L207.0,323.4Z"/>
<path d="M253.0,323.4 L255.0,314.0 L259.0,306.0 L263.0,314.0 L267.0,306.0 L271.0,314.0 L275.0,323.4Z"/>
<path d="M283.0,323.4 L285.0,314.0 L289.0,306.0 L292.0,310.0 L295.0,318.0 L299.0,314.0 L303.0,318.0 L307.0,323.4Z"/>
<path d="M311.0,323.4 L313.0,310.0 L316.0,294.0 L319.0,298.0 L321.0,310.0 L324.0,306.0 L324.0,323.4Z"/>
<path d="M324.0,323.4 L324.0,267.0 L326.4,266.0 L327.6,281.0 L329.0,291.0 L332.0,295.0 L336.0,289.0 L340.0,295.0 L344.0,293.0 L348.0,301.0 L352.0,295.0 L356.0,297.0 L360.0,307.0 L364.0,303.0 L366.4,291.0 L369.0,299.0 L372.0,293.0 L374.0,307.0 L377.0,311.0 L381.0,299.0 L384.0,289.0 L388.0,289.0 L392.0,283.0 L395.0,293.0 L399.0,291.0 L403.0,297.0 L408.0,303.0 L412.0,311.0 L416.0,315.0 L422.0,313.0 L426.0,307.0 L429.0,315.0 L434.0,317.0 L439.0,307.0 L440.4,301.0 L442.0,313.0 L447.0,309.0 L452.0,305.0 L457.0,307.0 L461.0,306.0 L461.0,323.4Z"/>
<path d="M344.0,323.4 L345.0,306.0 L347.0,294.0 L350.0,298.0 L352.0,310.0 L354.0,323.4Z"/>
<path d="M384.0,323.4 L385.0,306.0 L388.0,290.0 L391.0,286.0 L394.0,298.0 L397.0,306.0 L400.0,294.0 L403.0,298.0 L405.0,310.0 L406.0,323.4Z"/>
<path d="M324.0,323.4 L324.0,266.0 L326.4,270.0 L327.6,290.0 L328.0,323.4Z"/>
<path d="M436.0,323.4 L437.0,310.0 L439.0,304.0 L441.0,310.0 L442.0,323.4Z"/>
<path d="M422.0,323.4 L423.0,310.0 L426.0,306.0 L428.0,314.0 L429.0,323.4Z"/>
<path d="M461.0,323.4 L461.0,306.0 L467.0,304.0 L473.0,310.0 L479.0,306.0 L482.0,294.0 L484.0,286.0 L486.0,292.0 L488.0,306.0 L491.0,314.0 L497.0,316.0 L507.0,314.0 L513.0,308.0 L516.0,306.0 L518.0,314.0 L520.0,323.4Z"/>
<path d="M482.0,323.4 L482.6,306.0 L483.4,290.0 L485.0,286.0 L486.6,294.0 L488.0,310.0 L489.0,323.4Z"/>
<path d="M513.0,323.4 L514.0,310.0 L516.0,306.0 L517.4,314.0 L518.0,323.4Z"/>
<path d="M523.0,323.4 L524.0,314.0 L526.0,312.0 L527.4,318.0 L528.0,323.4Z"/>
</clipPath>
<g clip-path="url(#cl5b)">
<path d="M100.0,258.9h1.0V323.5h-1.0zM127.0,257.6h1.7V323.5h-1.7zM131.8,294.9h1.6V323.5h-1.6zM163.0,256.5h1.3V323.5h-1.3zM183.3,310.3h1.4V323.5h-1.4zM247.6,270.9h1.7V323.5h-1.7zM257.7,256.6h1.8V323.5h-1.8zM263.6,264.3h1.9V323.5h-1.9zM265.5,301.7h1.5V323.5h-1.5zM280.7,302.9h2.1V323.5h-2.1zM290.0,261.4h1.3V323.5h-1.3zM309.3,293.2h1.2V323.5h-1.2zM314.2,287.6h1.8V323.5h-1.8zM315.9,260.2h1.1V323.5h-1.1zM353.0,279.3h0.9V323.5h-0.9zM359.8,278.5h1.3V323.5h-1.3zM388.2,271.9h1.4V323.5h-1.4zM422.5,265.1h1.3V323.5h-1.3zM435.8,259.3h1.6V323.5h-1.6zM447.0,298.5h1.2V323.5h-1.2zM448.0,263.6h0.8V323.5h-0.8zM457.4,296.2h1.4V323.5h-1.4zM458.8,291.5h1.7V323.5h-1.7zM461.9,280.1h1.9V323.5h-1.9zM463.8,307.5h0.9V323.5h-0.9zM465.7,303.4h1.8V323.5h-1.8zM477.3,263.6h1.7V323.5h-1.7zM481.5,262.6h1.5V323.5h-1.5zM486.9,272.5h1.9V323.5h-1.9zM488.8,264.0h1.5V323.5h-1.5zM493.8,257.1h1.1V323.5h-1.1zM500.0,284.8h1.2V323.5h-1.2zM502.7,312.0h1.1V323.5h-1.1zM503.9,282.3h1.5V323.5h-1.5zM514.0,281.3h1.3V323.5h-1.3zM542.7,269.8h1.4V323.5h-1.4zM551.1,288.0h1.0V323.5h-1.0zM552.1,292.0h1.5V323.5h-1.5zM556.7,292.1h0.8V323.5h-0.8zM557.5,272.2h1.5V323.5h-1.5zM559.0,275.8h1.6V323.5h-1.6z" fill="#083c80" opacity="0.2"/>
<path d="M101.0,263.7h2.0V323.5h-2.0zM128.7,295.3h2.0V323.5h-2.0zM145.9,297.0h1.1V323.5h-1.1zM151.8,270.1h1.1V323.5h-1.1zM161.9,308.9h1.1V323.5h-1.1zM173.9,309.4h1.9V323.5h-1.9zM192.0,305.9h1.5V323.5h-1.5zM256.4,298.8h1.3V323.5h-1.3zM271.8,311.4h2.0V323.5h-2.0zM292.3,295.2h1.2V323.5h-1.2zM302.7,263.8h1.4V323.5h-1.4zM335.7,292.8h1.2V323.5h-1.2zM371.6,280.2h1.5V323.5h-1.5zM383.2,292.5h1.8V323.5h-1.8zM453.4,311.5h0.8V323.5h-0.8zM464.7,309.9h1.0V323.5h-1.0zM468.8,292.7h0.9V323.5h-0.9zM494.9,264.5h1.9V323.5h-1.9zM506.2,296.4h1.7V323.5h-1.7zM510.9,289.1h1.4V323.5h-1.4zM531.0,302.0h1.4V323.5h-1.4zM534.4,265.1h1.6V323.5h-1.6zM535.9,291.0h1.7V323.5h-1.7zM537.6,286.9h2.0V323.5h-2.0zM545.6,305.1h1.7V323.5h-1.7zM547.2,281.2h0.8V323.5h-0.8zM548.1,296.8h2.1V323.5h-2.1zM550.2,280.1h0.9V323.5h-0.9z" fill="#083c80" opacity="0.1"/>
<path d="M105.4,275.0h1.0V323.5h-1.0zM106.4,285.5h1.3V323.5h-1.3zM107.7,290.9h1.3V323.5h-1.3zM117.0,294.7h0.8V323.5h-0.8zM130.7,296.3h1.2V323.5h-1.2zM168.2,296.6h1.6V323.5h-1.6zM215.6,268.4h1.2V323.5h-1.2zM225.0,300.7h1.6V323.5h-1.6zM226.6,295.7h1.5V323.5h-1.5zM262.8,302.6h0.8V323.5h-0.8zM270.4,273.9h1.4V323.5h-1.4zM294.3,284.5h1.4V323.5h-1.4zM317.0,287.4h1.5V323.5h-1.5zM379.9,293.5h1.4V323.5h-1.4zM400.0,293.1h2.1V323.5h-2.1zM408.2,292.0h1.6V323.5h-1.6zM446.0,307.1h1.0V323.5h-1.0zM450.6,272.0h1.4V323.5h-1.4zM452.0,285.1h1.4V323.5h-1.4zM460.5,277.8h1.4V323.5h-1.4zM467.5,312.4h1.3V323.5h-1.3zM475.1,300.0h0.8V323.5h-0.8zM490.3,295.6h1.3V323.5h-1.3zM532.5,298.8h1.9V323.5h-1.9z" fill="#083c80" opacity="0.3"/>
<path d="M119.2,256.5h1.8V323.5h-1.8zM125.1,265.0h1.9V323.5h-1.9zM133.4,296.2h2.1V323.5h-2.1zM144.1,304.1h1.8V323.5h-1.8zM186.8,296.9h1.2V323.5h-1.2zM209.2,291.2h2.0V323.5h-2.0zM229.9,312.6h1.0V323.5h-1.0zM284.1,292.2h1.4V323.5h-1.4zM285.5,301.6h0.9V323.5h-0.9zM307.5,262.6h0.9V323.5h-0.9zM327.7,293.0h2.1V323.5h-2.1zM355.8,269.0h0.9V323.5h-0.9zM363.8,290.1h1.1V323.5h-1.1zM370.1,274.3h1.5V323.5h-1.5zM398.1,305.8h1.9V323.5h-1.9zM420.9,279.0h1.6V323.5h-1.6z" fill="#083c80" opacity="0.5"/>
<path d="M124.2,302.6h0.9V323.5h-0.9zM165.7,307.8h1.3V323.5h-1.3zM167.0,309.0h1.2V323.5h-1.2zM170.7,305.2h1.4V323.5h-1.4zM199.1,293.5h1.1V323.5h-1.1zM202.5,277.4h1.6V323.5h-1.6zM207.9,275.7h1.3V323.5h-1.3zM218.8,280.8h1.8V323.5h-1.8zM220.6,282.1h1.7V323.5h-1.7zM246.8,311.7h0.8V323.5h-0.8zM308.4,280.0h0.9V323.5h-0.9zM310.5,307.4h1.5V323.5h-1.5zM322.5,285.3h1.4V323.5h-1.4zM377.8,289.5h2.1V323.5h-2.1z" fill="#083c80" opacity="0.4"/>
<path d="M143.3,280.9h0.8V323.5h-0.8zM152.9,272.1h1.7V323.5h-1.7zM206.3,299.8h1.6V323.5h-1.6zM239.3,299.1h2.1V323.5h-2.1zM300.0,287.8h1.4V323.5h-1.4zM323.9,263.0h1.9V323.5h-1.9zM395.2,303.4h1.0V323.5h-1.0zM416.6,259.1h1.1V323.5h-1.1z" fill="#083c80" opacity="0.6"/>
<path d="M155.5,303.1h1.3V323.5h-1.3zM164.4,272.2h1.3V323.5h-1.3zM230.9,273.0h0.8V323.5h-0.8zM231.7,287.5h2.0V323.5h-2.0zM241.4,272.7h1.9V323.5h-1.9zM250.6,279.7h1.9V323.5h-1.9zM278.1,270.6h1.3V323.5h-1.3zM297.6,296.7h0.9V323.5h-0.9zM329.7,272.5h1.8V323.5h-1.8zM361.1,286.1h0.9V323.5h-0.9zM405.0,308.8h1.0V323.5h-1.0z" fill="#083c80" opacity="0.7"/>
<path d="M201.2,306.4h1.3V323.5h-1.3zM212.6,280.7h1.4V323.5h-1.4zM222.2,292.0h0.9V323.5h-0.9zM261.8,309.4h1.0V323.5h-1.0zM319.8,302.8h1.0V323.5h-1.0zM351.1,270.5h1.9V323.5h-1.9zM362.0,271.4h1.8V323.5h-1.8zM373.1,262.6h1.0V323.5h-1.0z" fill="#083c80" opacity="0.8"/>
<path d="M340.5,279.7h1.9V323.5h-1.9zM348.0,309.6h1.5V323.5h-1.5zM349.5,260.4h1.6V323.5h-1.6zM365.9,271.7h1.8V323.5h-1.8zM386.1,261.3h2.0V323.5h-2.0zM396.2,309.7h1.9V323.5h-1.9zM406.0,282.8h1.2V323.5h-1.2zM410.6,304.7h1.9V323.5h-1.9zM415.8,294.3h0.8V323.5h-0.8zM417.7,286.0h1.2V323.5h-1.2zM423.8,260.3h1.1V323.5h-1.1z" fill="#083c80" opacity="1.0"/>
<path d="M346.8,260.0h1.2V323.5h-1.2zM409.8,271.4h0.8V323.5h-0.8z" fill="#083c80" opacity="0.9"/>
</g>
<g clip-path="url(#cl3b)">
<path d="M103.0,188.0h1.4V307.7h-1.4zM121.0,188.0h1.4V323.5h-1.4zM149.0,188.0h1.2V323.5h-1.2zM182.2,188.0h1.2V306.7h-1.2zM188.0,188.0h1.1V316.9h-1.1zM197.1,188.0h2.0V314.2h-2.0zM214.1,188.0h1.5V323.5h-1.5zM228.1,188.0h1.8V323.5h-1.8zM235.5,188.0h0.8V323.5h-0.8zM249.3,188.0h1.2V309.0h-1.2zM275.1,188.0h1.0V310.9h-1.0zM276.1,188.0h2.0V308.1h-2.0zM279.3,188.0h1.4V323.5h-1.4zM306.2,188.0h1.3V323.5h-1.3zM442.0,188.0h2.0V316.6h-2.0zM448.8,188.0h1.8V320.9h-1.8zM471.6,188.0h1.5V323.5h-1.5zM479.0,188.0h0.9V319.1h-0.9zM520.0,188.0h2.0V323.5h-2.0zM522.0,188.0h1.5V322.7h-1.5zM523.5,188.0h1.2V323.5h-1.2zM524.8,188.0h1.4V323.5h-1.4zM527.3,188.0h0.9V320.4h-0.9zM555.3,188.0h1.4V323.3h-1.4z" fill="#e4eff9" opacity="0.1"/>
<path d="M113.6,188.0h1.9V320.0h-1.9zM115.5,188.0h1.5V323.5h-1.5zM117.8,188.0h1.5V313.4h-1.5zM150.1,188.0h1.7V323.5h-1.7zM180.8,188.0h1.4V323.5h-1.4zM216.8,188.0h2.0V316.8h-2.0zM223.1,188.0h1.9V323.5h-1.9zM236.3,188.0h1.5V323.5h-1.5zM260.0,188.0h1.8V307.2h-1.8zM286.4,188.0h1.8V319.4h-1.8zM311.9,188.0h1.3V323.5h-1.3zM318.5,188.0h1.3V306.3h-1.3zM343.5,188.0h1.6V323.5h-1.6zM369.1,188.0h1.0V323.5h-1.0zM418.9,188.0h2.0V309.7h-2.0zM424.9,188.0h1.2V323.5h-1.2zM431.3,188.0h1.7V323.5h-1.7zM444.0,188.0h1.1V323.5h-1.1zM454.2,188.0h1.4V323.5h-1.4zM455.6,188.0h1.7V323.5h-1.7zM483.0,188.0h1.9V323.5h-1.9zM492.7,188.0h1.1V323.5h-1.1zM501.2,188.0h1.5V323.5h-1.5zM505.4,188.0h0.8V297.0h-0.8zM512.3,188.0h1.7V323.5h-1.7zM515.3,188.0h0.8V322.2h-0.8zM528.2,188.0h1.5V323.5h-1.5zM529.7,188.0h1.3V323.5h-1.3zM541.2,188.0h1.5V300.6h-1.5zM553.6,188.0h1.7V306.2h-1.7z" fill="#e4eff9" opacity="0.2"/>
<path d="M122.4,188.0h1.7V323.5h-1.7zM154.6,188.0h0.8V323.1h-0.8zM156.8,188.0h1.8V321.1h-1.8zM160.3,188.0h1.6V314.3h-1.6zM172.0,188.0h1.9V315.4h-1.9zM184.8,188.0h2.1V313.3h-2.1zM205.4,188.0h0.9V312.9h-0.9zM211.2,188.0h1.4V323.5h-1.4zM233.7,188.0h1.9V314.3h-1.9zM237.8,188.0h1.5V323.5h-1.5zM243.3,188.0h1.7V323.5h-1.7zM244.9,188.0h1.9V323.5h-1.9zM268.3,188.0h0.9V323.5h-0.9zM273.8,188.0h1.3V310.5h-1.3zM295.7,188.0h1.8V323.5h-1.8zM298.5,188.0h1.5V297.5h-1.5zM301.4,188.0h1.3V318.9h-1.3zM304.1,188.0h2.1V321.8h-2.1zM469.7,188.0h1.9V306.5h-1.9zM473.2,188.0h1.0V323.5h-1.0zM484.9,188.0h2.0V323.5h-2.0zM498.3,188.0h0.8V311.6h-0.8zM509.6,188.0h1.3V304.7h-1.3zM518.0,188.0h1.0V304.8h-1.0zM519.0,188.0h1.4V311.7h-1.4z" fill="#e4eff9" opacity="0.3"/>
<path d="M169.8,188.0h0.9V308.1h-0.9zM177.7,188.0h1.3V323.5h-1.3zM189.1,188.0h1.6V313.8h-1.6zM204.1,188.0h1.3V323.5h-1.3zM253.7,188.0h0.9V323.5h-0.9zM269.2,188.0h1.2V323.5h-1.2zM313.2,188.0h1.0V300.3h-1.0zM325.8,188.0h1.9V304.1h-1.9zM342.4,188.0h1.1V318.9h-1.1zM358.7,188.0h1.0V323.5h-1.0zM426.1,188.0h2.0V323.5h-2.0zM496.8,188.0h1.6V323.5h-1.6zM507.9,188.0h1.6V323.5h-1.6z" fill="#e4eff9" opacity="0.4"/>
<path d="M190.0,188.0h0.9V323.5h-0.9zM193.6,188.0h1.5V323.5h-1.5zM200.2,188.0h1.0V302.8h-1.0zM252.5,188.0h1.3V316.9h-1.3zM254.7,188.0h1.7V323.5h-1.7zM259.5,188.0h1.9V320.9h-1.9zM282.8,188.0h1.3V323.5h-1.3zM288.2,188.0h1.9V323.5h-1.9zM291.4,188.0h0.9V322.5h-0.9zM331.3,188.0h1.6V314.1h-1.6zM332.9,188.0h1.8V298.4h-1.8zM339.0,188.0h1.6V323.5h-1.6zM356.7,188.0h2.0V323.5h-2.0zM374.1,188.0h1.1V311.0h-1.1zM375.2,188.0h1.1V323.5h-1.1z" fill="#e4eff9" opacity="0.5"/>
<path d="M293.4,188.0h0.9V323.5h-0.9zM381.3,188.0h1.8V303.4h-1.8zM402.1,188.0h2.0V315.0h-2.0z" fill="#e4eff9" opacity="0.6"/>
<path d="M320.9,188.0h1.7V311.3h-1.7zM393.1,188.0h2.1V309.1h-2.1z" fill="#e4eff9" opacity="0.7"/>
<path d="M330.0,188.0h1.3V298.3h-1.3zM389.6,188.0h1.9V310.3h-1.9zM391.4,188.0h1.7V323.5h-1.7zM404.1,188.0h0.9V305.2h-0.9zM412.5,188.0h1.3V323.5h-1.3zM413.8,188.0h2.0V315.2h-2.0zM445.1,188.0h0.9V323.5h-0.9z" fill="#e4eff9" opacity="1.0"/>
<path d="M334.8,188.0h0.9V318.8h-0.9zM345.1,188.0h1.7V300.0h-1.7zM364.9,188.0h1.0V301.4h-1.0zM367.7,188.0h1.5V304.9h-1.5zM433.0,188.0h1.6V309.1h-1.6zM434.6,188.0h1.2V323.5h-1.2zM439.3,188.0h1.1V312.2h-1.1z" fill="#e4eff9" opacity="0.8"/>
<path d="M336.9,188.0h2.1V305.2h-2.1zM428.1,188.0h2.0V323.5h-2.0z" fill="#e4eff9" opacity="0.9"/>
</g>
<path d="M148.0,188.0 L156.0,192.0 L164.0,195.0 L170.0,193.0 L178.0,192.0 L187.0,196.0" fill="none" stroke="#444" stroke-width="0.7" stroke-linejoin="round" stroke-linecap="butt" stroke-dasharray="3.4 1.6" opacity="0.9"/>
<path d="M51.0,198.4 L62.0,199.0 L76.0,200.4 L90.0,203.0 L104.0,206.0 L116.0,209.0 L124.0,213.0 L134.0,212.0 L146.0,211.0 L154.0,213.0 L162.0,217.0 L174.0,216.0 L187.0,218.0" fill="none" stroke="#444" stroke-width="0.7" stroke-linejoin="round" stroke-linecap="butt" stroke-dasharray="3.4 1.6" opacity="0.9"/>
<path d="M51.0,214.0 L66.0,216.0 L80.0,218.4 L92.0,222.0 L101.0,225.0 L104.0,229.0 L104.0,233.0 L110.0,233.6 L118.0,234.0 L130.0,234.0 L140.0,233.0 L150.0,232.0 L158.0,234.0 L166.0,237.6 L174.0,239.0 L182.0,237.0 L187.0,237.6" fill="none" stroke="#444" stroke-width="0.7" stroke-linejoin="round" stroke-linecap="butt" stroke-dasharray="3.4 1.6" opacity="0.9"/>
<path d="M51.0,229.6 L66.0,233.0 L80.0,237.6 L90.0,243.0 L98.0,247.0 L97.0,250.0 L106.0,249.6 L118.0,250.0 L130.0,254.0 L142.0,254.0 L154.0,253.0 L164.0,254.0 L174.0,257.0 L187.0,256.4" fill="none" stroke="#444" stroke-width="0.7" stroke-linejoin="round" stroke-linecap="butt" stroke-dasharray="3.4 1.6" opacity="0.9"/>
<path d="M51.0,248.0 L62.0,251.0 L70.0,255.0 L71.6,257.0 L75.0,255.0 L78.0,263.0 L84.0,265.0 L94.0,266.0 L104.0,267.6 L116.0,268.0 L130.0,271.0 L140.0,272.0 L154.0,271.0 L165.0,270.0 L170.0,274.0 L178.0,275.0 L187.0,274.4" fill="none" stroke="#444" stroke-width="0.7" stroke-linejoin="round" stroke-linecap="butt" stroke-dasharray="3.4 1.6" opacity="0.9"/>
<path d="M51.0,270.0 L60.0,275.0 L68.0,280.0 L74.0,283.0 L84.0,284.0 L96.0,283.6 L108.0,286.0 L118.0,287.0 L130.0,290.0 L142.0,291.0 L150.0,293.0 L156.0,290.0 L162.0,289.0 L166.0,292.0 L174.0,292.0 L187.0,294.0" fill="none" stroke="#444" stroke-width="0.7" stroke-linejoin="round" stroke-linecap="butt" stroke-dasharray="3.4 1.6" opacity="0.9"/>
<path d="M51.0,299.0 L60.0,302.0 L72.0,301.6 L84.0,304.0 L96.0,304.0 L108.0,304.4 L120.0,306.0 L130.0,308.0 L138.0,310.0 L144.0,314.0 L150.0,317.0 L162.0,319.0 L174.0,318.0 L187.0,317.0" fill="none" stroke="#444" stroke-width="0.7" stroke-linejoin="round" stroke-linecap="butt" stroke-dasharray="3.4 1.6" opacity="0.9"/>
<path d="M187.0,196.0 L197.0,198.4 L207.0,197.6 L213.0,199.0 L219.0,201.0 L225.0,198.4 L231.0,200.0 L241.0,202.0 L251.0,203.6 L261.0,204.4 L267.0,207.0 L271.0,203.6 L277.0,206.0 L281.0,200.0 L285.0,203.0 L289.0,198.4 L295.0,203.0 L303.0,204.0 L311.0,206.0 L324.0,205.6" fill="none" stroke="#444" stroke-width="0.7" stroke-linejoin="round" stroke-linecap="butt" stroke-dasharray="3.4 1.6" opacity="0.9"/>
<path d="M187.0,218.0 L197.0,219.6 L207.0,221.6 L211.0,223.6 L213.0,221.0 L217.0,224.0 L227.0,225.0 L239.0,224.4 L253.0,223.6 L267.0,223.0 L279.0,223.6 L291.0,224.0 L303.0,223.6 L317.0,223.0" fill="none" stroke="#444" stroke-width="0.7" stroke-linejoin="round" stroke-linecap="butt" stroke-dasharray="3.4 1.6" opacity="0.9"/>
<path d="M187.0,238.4 L195.0,240.0 L207.0,241.0 L223.0,240.4 L239.0,241.6 L255.0,241.0 L271.0,241.6 L287.0,241.0 L303.0,240.4 L315.0,241.0 L324.0,239.6" fill="none" stroke="#444" stroke-width="0.7" stroke-linejoin="round" stroke-linecap="butt" stroke-dasharray="3.4 1.6" opacity="0.9"/>
<path d="M187.0,257.6 L203.0,258.0 L219.0,257.6 L235.0,258.0 L253.0,258.4 L271.0,258.0 L287.0,259.0 L303.0,258.4 L315.0,260.0 L324.0,258.4" fill="none" stroke="#444" stroke-width="0.7" stroke-linejoin="round" stroke-linecap="butt" stroke-dasharray="3.4 1.6" opacity="0.9"/>
<path d="M187.0,277.0 L199.0,276.4 L215.0,277.0 L231.0,276.4 L247.0,277.6 L263.0,277.0 L279.0,276.0 L295.0,277.0 L307.0,276.4 L324.0,277.0" fill="none" stroke="#444" stroke-width="0.7" stroke-linejoin="round" stroke-linecap="butt" stroke-dasharray="3.4 1.6" opacity="0.9"/>
<path d="M187.0,297.0 L199.0,296.4" fill="none" stroke="#444" stroke-width="0.7" stroke-linejoin="round" stroke-linecap="butt" stroke-dasharray="3.4 1.6" opacity="0.9"/>
<path d="M227.0,297.0 L243.0,298.0 L259.0,300.0 L275.0,301.0 L291.0,300.4 L307.0,300.0 L324.0,299.0" fill="none" stroke="#444" stroke-width="0.7" stroke-linejoin="round" stroke-linecap="butt" stroke-dasharray="3.4 1.6" opacity="0.9"/>
<path d="M187.0,317.0 L203.0,318.0 L219.0,319.0 L235.0,318.0 L251.0,319.0 L267.0,319.6 L283.0,319.0" fill="none" stroke="#444" stroke-width="0.7" stroke-linejoin="round" stroke-linecap="butt" stroke-dasharray="3.4 1.6" opacity="0.9"/>
<path d="M307.0,319.0 L324.0,319.6" fill="none" stroke="#444" stroke-width="0.7" stroke-linejoin="round" stroke-linecap="butt" stroke-dasharray="3.4 1.6" opacity="0.9"/>
<path d="M324.0,205.6 L330.0,207.0 L340.0,207.0 L350.0,206.4 L358.0,205.6 L360.0,198.0 L363.0,197.6 L366.0,205.0 L367.0,192.0 L371.0,194.0 L376.0,195.6 L380.0,189.0" fill="none" stroke="#444" stroke-width="0.7" stroke-linejoin="round" stroke-linecap="butt" stroke-dasharray="3.4 1.6" opacity="0.9"/>
<path d="M394.0,189.0 L396.0,191.0 L402.0,189.0 L408.0,193.0 L413.0,193.6 L413.6,189.0" fill="none" stroke="#444" stroke-width="0.7" stroke-linejoin="round" stroke-linecap="butt" stroke-dasharray="3.4 1.6" opacity="0.9"/>
<path d="M340.0,223.6 L354.0,224.0 L374.0,224.4 L390.0,224.4 L400.0,224.0 L408.0,223.0 L411.0,216.0 L413.0,220.0 L416.0,216.4 L420.0,216.0 L424.0,218.0 L432.0,219.0 L440.0,217.6 L448.0,219.0 L454.0,214.0 L457.0,210.0 L461.0,217.0" fill="none" stroke="#444" stroke-width="0.7" stroke-linejoin="round" stroke-linecap="butt" stroke-dasharray="3.4 1.6" opacity="0.9"/>
<path d="M324.0,239.6 L328.0,239.0 L332.0,241.0 L344.0,241.6 L360.0,241.0 L374.0,239.6 L388.0,240.4 L400.0,242.0 L412.0,243.0 L420.0,241.6 L432.0,240.4" fill="none" stroke="#444" stroke-width="0.7" stroke-linejoin="round" stroke-linecap="butt" stroke-dasharray="3.4 1.6" opacity="0.9"/>
<path d="M457.0,240.4 L461.0,241.0" fill="none" stroke="#444" stroke-width="0.7" stroke-linejoin="round" stroke-linecap="butt" stroke-dasharray="3.4 1.6" opacity="0.9"/>
<path d="M326.4,257.0 L336.0,257.0 L350.0,257.6 L364.0,258.4 L377.0,258.0" fill="none" stroke="#444" stroke-width="0.7" stroke-linejoin="round" stroke-linecap="butt" stroke-dasharray="3.4 1.6" opacity="0.9"/>
<path d="M401.0,259.0 L414.0,259.0 L428.0,258.4 L444.0,258.4 L456.0,258.4 L461.0,256.4" fill="none" stroke="#444" stroke-width="0.7" stroke-linejoin="round" stroke-linecap="butt" stroke-dasharray="3.4 1.6" opacity="0.9"/>
<path d="M327.0,280.0 L328.0,275.0 L336.0,273.6 L350.0,274.0 L364.0,275.0 L366.4,280.0 L368.0,274.0 L378.0,273.0 L383.0,276.0 L386.0,280.0 L389.0,277.0 L392.0,280.0 L395.0,274.0 L398.4,281.6 L401.0,275.0 L403.0,280.0 L406.0,276.0 L410.0,275.0 L416.0,278.0 L424.0,278.4 L434.0,277.6 L440.0,280.0 L444.0,277.0 L452.0,279.0 L461.0,278.4" fill="none" stroke="#444" stroke-width="0.7" stroke-linejoin="round" stroke-linecap="butt" stroke-dasharray="3.4 1.6" opacity="0.9"/>
<path d="M324.0,301.0 L334.0,302.0 L344.0,302.4 L354.0,303.0 L364.0,305.0 L374.0,306.0 L384.0,305.0 L394.0,304.0 L404.0,305.0 L414.0,308.0 L424.0,308.0 L434.0,307.6 L444.0,307.0 L452.0,304.0 L461.0,302.0" fill="none" stroke="#444" stroke-width="0.7" stroke-linejoin="round" stroke-linecap="butt" stroke-dasharray="3.4 1.6" opacity="0.9"/>
<path d="M461.0,214.0 L467.0,215.0 L475.0,214.0 L481.0,211.6 L487.0,207.0 L493.0,209.6 L499.0,212.0 L507.0,212.4 L513.0,213.0 L519.0,215.0 L525.0,211.0 L531.0,211.6 L537.0,208.4 L543.0,206.0 L547.0,202.0 L549.0,194.0 L555.0,191.0 L561.0,192.0 L567.0,194.0 L573.0,191.0 L581.0,188.4 L589.0,188.0" fill="none" stroke="#444" stroke-width="0.7" stroke-linejoin="round" stroke-linecap="butt" stroke-dasharray="3.4 1.6" opacity="0.9"/>
<path d="M461.0,240.0 L469.0,239.6 L475.0,236.0 L481.0,234.0 L486.0,233.6 L491.0,237.0 L499.0,238.4 L507.0,239.0 L515.0,239.0 L521.0,236.0 L529.0,233.0 L537.0,229.0 L545.0,228.4 L553.0,229.0 L561.0,227.0 L569.0,224.0 L577.0,220.0 L585.0,217.0 L590.0,212.0 L594.6,206.0" fill="none" stroke="#444" stroke-width="0.7" stroke-linejoin="round" stroke-linecap="butt" stroke-dasharray="3.4 1.6" opacity="0.9"/>
<path d="M461.0,258.0 L467.0,260.4 L475.0,260.0 L485.0,259.0 L495.0,257.0 L507.0,256.4 L515.0,255.0 L525.0,252.0 L533.0,250.4 L541.0,252.0 L549.0,250.4 L557.0,251.0 L565.0,252.0 L573.0,251.6 L581.0,251.0 L586.6,248.0 L589.0,240.0 L594.6,238.4" fill="none" stroke="#444" stroke-width="0.7" stroke-linejoin="round" stroke-linecap="butt" stroke-dasharray="3.4 1.6" opacity="0.9"/>
<path d="M461.0,279.0 L467.0,278.0 L473.0,278.4 L481.0,276.4 L485.0,280.0 L489.0,277.0 L495.0,274.4 L501.0,277.0 L507.0,274.0 L515.0,271.6 L525.0,271.0 L535.0,270.0 L545.0,271.0 L559.0,271.6" fill="none" stroke="#444" stroke-width="0.7" stroke-linejoin="round" stroke-linecap="butt" stroke-dasharray="3.4 1.6" opacity="0.9"/>
<path d="M585.0,271.0 L594.6,270.0" fill="none" stroke="#444" stroke-width="0.7" stroke-linejoin="round" stroke-linecap="butt" stroke-dasharray="3.4 1.6" opacity="0.9"/>
<path d="M461.0,305.6 L473.0,306.0 L481.0,305.6 L491.0,306.0 L501.0,305.6 L513.0,305.6 L520.0,306.0 L520.6,298.0 L522.0,293.0 L529.0,292.0 L537.0,293.0 L545.0,291.6 L555.0,291.0 L565.0,290.0 L575.0,288.4 L585.0,290.0 L594.6,289.0" fill="none" stroke="#444" stroke-width="0.7" stroke-linejoin="round" stroke-linecap="butt" stroke-dasharray="3.4 1.6" opacity="0.9"/>
<path d="M586.0,307.0 L594.6,307.0" fill="none" stroke="#444" stroke-width="0.7" stroke-linejoin="round" stroke-linecap="butt" stroke-dasharray="3.4 1.6" opacity="0.9"/>
<path d="M553.0,323.4 L561.0,322.0 L569.0,321.0" fill="none" stroke="#444" stroke-width="0.7" stroke-linejoin="round" stroke-linecap="butt" stroke-dasharray="3.4 1.6" opacity="0.9"/>
<text x="213.0" y="298.6" font-size="8.5" fill="#7f7f7f" text-anchor="middle" textLength="24" lengthAdjust="spacingAndGlyphs">-15 °C</text>
<text x="296.0" y="322.0" font-size="8.5" fill="#7f7f7f" text-anchor="middle" textLength="24" lengthAdjust="spacingAndGlyphs">-10 °C</text>
<text x="329.0" y="226.0" font-size="8.5" fill="#7f7f7f" text-anchor="middle" textLength="24" lengthAdjust="spacingAndGlyphs">-35 °C</text>
<text x="445.0" y="243.0" font-size="8.5" fill="#7f7f7f" text-anchor="middle" textLength="24" lengthAdjust="spacingAndGlyphs">-30 °C</text>
<text x="389.0" y="261.4" font-size="8.5" fill="#7f7f7f" text-anchor="middle" textLength="24" lengthAdjust="spacingAndGlyphs">-25 °C</text>
<text x="572.0" y="273.4" font-size="8.5" fill="#7f7f7f" text-anchor="middle" textLength="24" lengthAdjust="spacingAndGlyphs">-20 °C</text>
<text x="582.0" y="321.4" font-size="8.5" fill="#7f7f7f" text-anchor="middle" textLength="24" lengthAdjust="spacingAndGlyphs" transform="rotate(-20 582.0 318.4)">-10 °C</text>
<path d="M71.0,323.4 L70.6,306.0 L71.0,286.0 L72.4,278.0 L75.0,277.0 L78.0,280.0 L80.0,276.0 L81.6,282.0 L81.0,298.0 L82.0,306.0 L81.0,314.0 L83.0,320.0 L90.0,319.0 L98.0,317.0" fill="none" stroke="#fdd347" stroke-width="1.6" stroke-linejoin="round" stroke-linecap="round"/>
<path d="M98.0,323.4 L97.0,306.0 L96.4,286.0 L94.4,274.0 L98.0,270.0 L98.4,256.0" fill="none" stroke="#fdd347" stroke-width="1.6" stroke-linejoin="round" stroke-linecap="round"/>
<path d="M133.0,323.4 L131.0,310.0 L130.4,298.0 L131.0,286.0 L132.4,282.0" fill="none" stroke="#fdd347" stroke-width="1.6" stroke-linejoin="round" stroke-linecap="round"/>
<path d="M112.0,244.0 L114.0,238.0 L117.0,240.0 L119.0,244.0 L117.0,246.0Z" fill="none" stroke="#fdd347" stroke-width="1.6" stroke-linejoin="round" stroke-linecap="round"/>
<path d="M110.0,286.0 L112.0,280.0 L114.0,274.0 L116.0,282.0 L117.0,286.0 L115.0,290.0 L118.0,298.0 L119.0,306.0 L118.0,314.0 L116.0,310.0 L113.6,302.0 L111.0,292.0Z" fill="none" stroke="#fdd347" stroke-width="1.6" stroke-linejoin="round" stroke-linecap="round"/>
<path d="M147.0,323.4 L148.4,317.0 L152.0,313.0 L158.0,309.0 L163.0,310.0 L166.0,308.0 L169.0,306.0 L171.0,304.0 L173.0,308.0 L175.0,306.0 L178.0,303.0 L182.0,300.0 L187.0,297.0" fill="none" stroke="#fdd347" stroke-width="1.6" stroke-linejoin="round" stroke-linecap="round"/>
<path d="M187.0,306.0 L190.0,298.0 L192.0,282.0 L194.0,266.0 L196.0,258.0 L198.0,246.0 L201.0,244.0 L203.0,248.0 L201.0,254.0 L199.0,262.0 L198.0,274.0 L199.0,286.0 L201.0,294.0 L205.0,297.0 L209.0,298.0 L212.0,295.0 L215.0,292.0 L217.0,286.0" fill="none" stroke="#fdd347" stroke-width="1.6" stroke-linejoin="round" stroke-linecap="round"/>
<path d="M215.0,244.0 L216.0,234.0 L218.0,230.0 L221.0,231.0 L224.0,234.0 L223.0,240.0 L220.0,241.0 L218.0,244.0Z" fill="none" stroke="#fdd347" stroke-width="1.6" stroke-linejoin="round" stroke-linecap="round"/>
<path d="M229.0,230.0 L230.0,223.0 L232.6,222.0 L234.0,226.0 L233.4,232.0 L231.0,233.0Z" fill="none" stroke="#fdd347" stroke-width="1.6" stroke-linejoin="round" stroke-linecap="round"/>
<path d="M217.0,278.0 L219.0,274.0 L222.0,280.0 L224.0,274.0 L226.0,278.0 L229.0,282.0 L232.0,286.0 L235.0,282.0 L237.0,286.0 L240.0,282.0 L243.0,290.0 L247.0,286.0 L251.0,292.0 L255.0,298.0 L261.0,294.0 L264.0,286.0 L267.0,280.0 L270.0,286.0 L273.0,294.0 L277.0,298.0 L281.0,296.0 L285.0,294.0 L288.0,282.0 L290.0,270.0 L292.0,280.0 L294.0,294.0 L296.0,300.0 L299.0,300.0 L303.0,302.0 L307.0,308.0 L311.0,304.0" fill="none" stroke="#fdd347" stroke-width="1.6" stroke-linejoin="round" stroke-linecap="round"/>
<path d="M243.0,260.0 L244.0,248.0 L246.0,244.0 L251.0,245.0 L255.0,243.0 L257.4,246.0 L256.0,252.0 L253.0,255.0 L249.0,256.0 L247.0,262.0 L246.0,274.0 L245.0,286.0 L243.0,280.0Z" fill="none" stroke="#fdd347" stroke-width="1.6" stroke-linejoin="round" stroke-linecap="round"/>
<path d="M265.0,236.0 L267.4,236.0 L269.0,242.0 L268.0,248.0 L265.4,247.0 L264.6,241.0Z" fill="none" stroke="#fdd347" stroke-width="1.6" stroke-linejoin="round" stroke-linecap="round"/>
<path d="M275.0,314.0 L278.0,306.0 L280.0,302.0 L279.4,310.0 L277.0,316.0" fill="none" stroke="#fdd347" stroke-width="1.6" stroke-linejoin="round" stroke-linecap="round"/>
<path d="M317.0,298.0 L319.0,286.0 L321.4,270.0 L323.0,260.0 L324.0,256.0" fill="none" stroke="#fdd347" stroke-width="1.6" stroke-linejoin="round" stroke-linecap="round"/>
<path d="M324.0,262.0 L326.4,261.6" fill="none" stroke="#fdd347" stroke-width="1.6" stroke-linejoin="round" stroke-linecap="round"/>
<path d="M330.0,302.0 L333.0,306.0 L334.0,314.0 L332.0,318.0" fill="none" stroke="#fdd347" stroke-width="1.6" stroke-linejoin="round" stroke-linecap="round"/>
<path d="M339.0,314.0 L341.0,306.0 L343.0,314.0 L341.0,318.0Z" fill="none" stroke="#fdd347" stroke-width="1.6" stroke-linejoin="round" stroke-linecap="round"/>
<path d="M349.0,288.0 L353.0,284.4 L356.0,285.0 L358.0,290.0" fill="none" stroke="#fdd347" stroke-width="1.6" stroke-linejoin="round" stroke-linecap="round"/>
<path d="M364.6,286.0 L366.4,281.0 L368.8,286.0" fill="none" stroke="#fdd347" stroke-width="1.6" stroke-linejoin="round" stroke-linecap="round"/>
<path d="M373.6,290.0 L374.8,298.0 L373.6,310.0 L370.4,316.0" fill="none" stroke="#fdd347" stroke-width="1.6" stroke-linejoin="round" stroke-linecap="round"/>
<path d="M381.6,286.0 L384.0,278.4 L388.0,280.4 L390.0,288.0 L392.0,279.0 L395.0,284.0 L398.0,286.0 L400.0,282.4 L403.0,288.4 L406.0,296.4 L408.0,303.0 L411.0,306.0 L413.0,310.0 L416.0,311.0 L420.0,306.0 L422.0,308.0 L425.0,304.0 L426.4,298.0 L428.0,306.0 L430.0,310.0 L434.0,309.0 L438.0,302.0 L439.6,292.0 L441.0,290.0 L442.0,298.0 L443.0,306.0 L445.0,304.0 L448.0,302.0 L452.0,298.0 L456.0,299.0 L461.0,298.0" fill="none" stroke="#fdd347" stroke-width="1.6" stroke-linejoin="round" stroke-linecap="round"/>
<path d="M350.0,310.0 L353.0,306.0 L355.0,314.0 L352.0,317.0Z" fill="none" stroke="#fdd347" stroke-width="1.6" stroke-linejoin="round" stroke-linecap="round"/>
<path d="M461.0,299.0 L464.0,293.0 L467.0,297.0 L471.0,295.0 L475.0,298.0 L478.6,295.0 L480.6,288.0 L482.6,282.0 L485.0,280.0 L487.4,283.0 L489.0,292.0 L491.0,298.0 L494.0,300.0 L498.0,301.0 L502.0,304.0 L506.0,306.0 L510.0,306.0 L513.0,302.0 L516.0,299.0 L519.0,301.0 L521.0,308.0 L522.0,316.0 L523.0,311.0 L526.0,309.0 L530.0,311.0 L531.4,318.0 L532.0,323.4" fill="none" stroke="#fdd347" stroke-width="1.6" stroke-linejoin="round" stroke-linecap="round"/>
<path d="M558.0,323.4 L559.0,320.0 L561.0,319.6 L563.0,323.4" fill="none" stroke="#fdd347" stroke-width="1.6" stroke-linejoin="round" stroke-linecap="round"/>
<path d="M72.0,323.4 L71.6,310.0 L71.6,294.0 L72.0,280.0 L74.0,275.0 L75.6,280.0 L77.0,282.0 L79.0,274.0 L80.4,273.0 L81.0,280.0 L80.0,290.0 L79.6,298.0 L79.0,306.0 L80.0,314.0 L81.0,323.4" fill="none" stroke="#fb7d4b" stroke-width="1.7" stroke-linejoin="round" stroke-linecap="round"/>
<path d="M74.0,306.0 L73.6,290.0 L75.0,282.0 L77.0,286.0 L78.0,294.0 L77.6,306.0 L76.0,314.0Z" fill="none" stroke="#fb7d4b" stroke-width="1.7" stroke-linejoin="round" stroke-linecap="round"/>
<path d="M75.6,302.0 L75.2,290.0 L76.4,286.0 L77.2,298.0Z" fill="none" stroke="#fb7d4b" stroke-width="1.7" stroke-linejoin="round" stroke-linecap="round"/>
<path d="M99.0,323.4 L98.0,306.0 L97.6,290.0 L95.6,282.0 L95.0,274.0 L97.0,266.0 L96.4,256.0 L99.0,246.0 L101.6,238.0 L103.6,230.4 L105.0,236.0 L107.0,234.0 L109.0,227.6 L110.6,234.0 L112.0,228.0 L113.6,234.0 L115.6,227.0 L117.0,236.0 L119.0,234.0 L121.0,232.4 L121.6,240.0 L123.6,250.0 L125.6,260.0 L128.0,266.0 L130.0,274.0 L132.0,282.0 L130.0,286.0 L129.6,298.0 L130.4,310.0 L132.4,323.4" fill="none" stroke="#fb7d4b" stroke-width="1.7" stroke-linejoin="round" stroke-linecap="round"/>
<path d="M113.6,240.0 L114.0,252.0 L113.6,266.0 L115.0,266.0 L115.2,252.0 L115.0,240.0Z" fill="none" stroke="#fb7d4b" stroke-width="1.7" stroke-linejoin="round" stroke-linecap="round"/>
<path d="M112.4,290.0 L114.0,292.0 L114.4,298.0 L113.2,300.0 L112.4,295.0Z" fill="none" stroke="#fb7d4b" stroke-width="1.7" stroke-linejoin="round" stroke-linecap="round"/>
<path d="M116.0,298.0 L118.0,302.0 L118.4,310.0 L117.0,308.0Z" fill="none" stroke="#fb7d4b" stroke-width="1.7" stroke-linejoin="round" stroke-linecap="round"/>
<path d="M172.0,323.4 L172.4,314.0 L173.0,306.0 L174.0,314.0 L175.0,323.4" fill="none" stroke="#fb7d4b" stroke-width="1.7" stroke-linejoin="round" stroke-linecap="round"/>
<path d="M177.0,323.4 L178.0,314.0 L181.0,306.0 L184.0,300.0 L187.0,298.0" fill="none" stroke="#fb7d4b" stroke-width="1.7" stroke-linejoin="round" stroke-linecap="round"/>
<path d="M101.6,252.0 L102.8,244.0 L104.4,237.0 L106.0,242.0 L107.6,236.0 L109.6,243.0 L111.2,236.0 L112.8,244.0" fill="none" stroke="#fb7d4b" stroke-width="1.7" stroke-linejoin="round" stroke-linecap="round"/>
<path d="M116.0,246.0 L116.8,237.0 L118.4,242.0 L120.0,237.0 L121.2,246.0 L122.4,254.0" fill="none" stroke="#fb7d4b" stroke-width="1.7" stroke-linejoin="round" stroke-linecap="round"/>
<path d="M97.6,280.0 L96.4,272.0 L98.0,264.0 L97.6,256.0" fill="none" stroke="#fb7d4b" stroke-width="1.7" stroke-linejoin="round" stroke-linecap="round"/>
<path d="M187.0,304.0 L188.6,298.0 L189.4,282.0 L190.0,266.0 L191.0,252.0 L194.0,248.0 L197.0,242.0 L200.0,240.0 L203.0,234.0 L205.0,242.0 L208.0,239.0 L210.0,232.0 L213.0,230.0 L215.0,225.0 L218.0,225.0 L221.0,222.0 L224.0,221.0 L226.0,226.0 L228.0,223.0 L230.0,219.0 L235.0,219.0 L239.0,220.0 L240.6,224.0 L241.4,232.0 L244.0,234.0 L243.6,224.0 L245.4,218.0 L247.0,220.0 L248.0,234.0 L250.0,236.0 L249.4,226.0 L250.6,219.0 L253.0,216.0 L255.0,221.0 L256.0,230.0 L258.0,235.0 L260.0,229.0 L263.0,232.0 L264.0,228.0 L267.0,227.0 L269.0,234.0 L270.0,243.0 L272.0,246.0 L274.6,252.0 L273.0,248.0 L270.0,246.0 L269.4,254.0 L270.0,260.0 L267.0,259.0 L264.0,256.0 L261.0,258.0 L260.6,270.0 L261.4,282.0 L263.0,290.0 L265.0,282.0 L266.6,273.0 L269.0,275.0 L271.0,282.0 L274.0,285.0 L276.0,284.0 L277.0,290.0 L280.0,292.0 L283.0,289.0 L286.0,286.0 L287.0,276.0 L286.6,262.0 L288.0,252.0 L287.0,244.0 L285.0,242.0 L283.0,245.0 L281.0,244.0 L280.0,239.0 L279.0,232.0 L279.4,225.0 L282.0,223.0 L283.0,227.0 L286.0,226.0 L287.0,221.0 L289.0,223.0 L290.0,232.0 L290.6,246.0 L291.0,262.0 L292.0,274.0 L293.4,286.0 L295.0,296.0 L298.0,295.0 L299.4,289.0 L301.0,294.0 L303.0,300.0 L306.0,301.0 L307.0,306.0 L310.0,302.0 L312.0,300.0 L313.4,290.0 L315.0,274.0 L316.6,266.0 L318.0,262.0 L320.0,270.0 L321.4,264.0 L323.0,258.0 L324.0,257.0" fill="none" stroke="#fb7d4b" stroke-width="1.7" stroke-linejoin="round" stroke-linecap="round"/>
<path d="M202.0,294.0 L201.0,282.0 L202.0,266.0 L204.0,264.0 L205.4,274.0 L206.0,286.0 L207.0,292.0 L209.0,290.0 L210.0,280.0 L211.0,266.0 L212.0,254.0 L214.0,248.0 L216.0,252.0 L216.6,266.0 L217.0,274.0 L219.0,273.0 L221.0,276.0 L223.0,274.0 L225.0,266.0 L224.6,250.0 L226.0,242.0 L228.0,244.0 L229.0,252.0 L228.0,262.0 L227.0,270.0 L228.0,280.0 L230.0,282.0 L232.0,280.0 L235.0,277.0 L236.0,270.0 L235.0,258.0 L236.0,246.0 L238.0,246.0 L239.4,254.0 L240.0,266.0 L239.4,274.0 L238.0,280.0 L239.0,290.0 L237.0,294.0 L235.0,290.0 L232.0,284.0 L228.0,284.0 L224.0,280.0 L219.0,280.0 L217.0,284.0 L215.0,290.0 L212.0,291.0 L210.0,294.0 L207.0,296.0 L204.0,296.0Z" fill="none" stroke="#fb7d4b" stroke-width="1.7" stroke-linejoin="round" stroke-linecap="round"/>
<path d="M254.0,294.0 L253.0,282.0 L254.0,274.0 L255.4,280.0 L256.0,290.0 L257.4,286.0 L258.0,274.0 L259.4,272.0 L260.0,282.0 L260.6,292.0 L259.0,296.0 L256.0,296.0Z" fill="none" stroke="#fb7d4b" stroke-width="1.7" stroke-linejoin="round" stroke-linecap="round"/>
<path d="M301.4,259.0 L303.0,258.0 L304.6,261.0 L304.0,265.0 L302.0,265.0Z" fill="none" stroke="#fb7d4b" stroke-width="1.7" stroke-linejoin="round" stroke-linecap="round"/>
<path d="M273.0,323.4 L274.0,314.0 L276.0,310.0 L278.0,316.0 L279.0,323.4" fill="none" stroke="#fb7d4b" stroke-width="1.7" stroke-linejoin="round" stroke-linecap="round"/>
<path d="M280.0,323.4 L279.4,310.0 L280.6,302.0 L282.0,310.0 L283.0,323.4" fill="none" stroke="#fb7d4b" stroke-width="1.7" stroke-linejoin="round" stroke-linecap="round"/>
<path d="M324.0,260.0 L326.0,259.6 L326.4,266.0 L327.0,278.0 L328.4,290.0 L330.0,298.0 L333.0,294.0 L336.0,288.0 L339.0,290.0 L342.0,288.0 L344.0,292.0 L347.0,295.0 L350.0,290.0 L353.0,287.0 L356.0,288.0 L357.0,294.0 L359.0,302.0 L361.0,306.0 L364.0,298.0 L365.6,286.0 L367.0,285.0 L368.4,292.0 L370.4,294.0 L372.0,288.0 L373.6,294.0 L373.0,304.0 L371.0,310.0 L369.0,314.0 L367.0,310.0 L364.0,314.0 L362.0,310.0 L360.0,316.0 L358.0,323.4" fill="none" stroke="#fb7d4b" stroke-width="1.7" stroke-linejoin="round" stroke-linecap="round"/>
<path d="M345.0,323.4 L346.0,316.0 L348.0,310.0 L351.0,314.0 L354.0,318.0 L356.0,323.4" fill="none" stroke="#fb7d4b" stroke-width="1.7" stroke-linejoin="round" stroke-linecap="round"/>
<path d="M376.4,323.4 L377.0,314.0 L378.0,304.0 L379.6,300.0 L381.0,304.0 L382.0,294.0 L383.0,286.0 L385.0,281.0 L387.0,286.0 L389.0,292.0 L391.0,284.0 L392.4,282.0 L394.4,290.0 L397.0,292.0 L399.6,286.0 L401.6,290.0 L404.0,298.0 L407.0,300.0 L409.0,298.0 L411.0,294.0 L412.0,302.0 L411.6,310.0 L412.0,316.0 L409.0,318.0 L405.0,319.0 L401.0,322.0 L400.0,323.4" fill="none" stroke="#fb7d4b" stroke-width="1.7" stroke-linejoin="round" stroke-linecap="round"/>
<path d="M447.0,323.4 L446.4,314.0 L447.6,306.0 L450.0,302.0 L454.0,301.0 L458.0,302.0 L461.0,301.0" fill="none" stroke="#fb7d4b" stroke-width="1.7" stroke-linejoin="round" stroke-linecap="round"/>
<path d="M449.0,323.4 L448.4,316.0 L450.0,310.0 L453.0,314.0 L454.0,323.4" fill="none" stroke="#fb7d4b" stroke-width="1.7" stroke-linejoin="round" stroke-linecap="round"/>
<path d="M461.0,302.0 L463.0,298.0 L465.0,295.0 L467.0,300.0 L470.0,301.0 L472.0,298.0 L474.0,301.0 L477.0,302.0 L479.4,298.0 L481.0,292.0 L482.0,286.0 L484.0,283.0 L486.0,284.0 L488.0,292.0 L489.0,300.0 L491.0,304.0 L494.0,310.0 L497.0,306.0 L500.0,304.0 L503.0,306.0 L506.0,308.0 L509.0,306.0 L512.0,308.0 L514.0,304.0 L516.0,302.0 L519.0,306.0 L520.0,314.0 L521.0,323.4" fill="none" stroke="#fb7d4b" stroke-width="1.7" stroke-linejoin="round" stroke-linecap="round"/>
<path d="M523.0,323.4 L523.4,316.0 L525.0,312.0 L527.0,316.0 L528.0,323.4" fill="none" stroke="#fb7d4b" stroke-width="1.7" stroke-linejoin="round" stroke-linecap="round"/>
</g>
<rect x="50.5" y="188.0" width="544.3" height="135.5" fill="none" stroke="#000" stroke-width="0.85"/>
<line x1="78.5" y1="323.5" x2="78.5" y2="327.0" stroke="#000" stroke-width="0.8"/>
<line x1="164.5" y1="323.5" x2="164.5" y2="327.0" stroke="#000" stroke-width="0.8"/>
<line x1="250.5" y1="323.5" x2="250.5" y2="327.0" stroke="#000" stroke-width="0.8"/>
<line x1="336.5" y1="323.5" x2="336.5" y2="327.0" stroke="#000" stroke-width="0.8"/>
<line x1="422.5" y1="323.5" x2="422.5" y2="327.0" stroke="#000" stroke-width="0.8"/>
<line x1="508.5" y1="323.5" x2="508.5" y2="327.0" stroke="#000" stroke-width="0.8"/>
<line x1="594.5" y1="323.5" x2="594.5" y2="327.0" stroke="#000" stroke-width="0.8"/>
<line x1="47.0" y1="323.50" x2="50.5" y2="323.50" stroke="#000" stroke-width="0.8"/>
<text x="44.5" y="327.3" font-size="10.8" text-anchor="end" fill="#000" font-weight="normal" textLength="6.7" lengthAdjust="spacingAndGlyphs" >0</text>
<line x1="47.0" y1="296.50" x2="50.5" y2="296.50" stroke="#000" stroke-width="0.8"/>
<text x="44.5" y="300.3" font-size="10.8" text-anchor="end" fill="#000" font-weight="normal" textLength="6.7" lengthAdjust="spacingAndGlyphs" >1</text>
<line x1="47.0" y1="269.50" x2="50.5" y2="269.50" stroke="#000" stroke-width="0.8"/>
<text x="44.5" y="273.3" font-size="10.8" text-anchor="end" fill="#000" font-weight="normal" textLength="6.7" lengthAdjust="spacingAndGlyphs" >2</text>
<line x1="47.0" y1="242.50" x2="50.5" y2="242.50" stroke="#000" stroke-width="0.8"/>
<text x="44.5" y="246.3" font-size="10.8" text-anchor="end" fill="#000" font-weight="normal" textLength="6.7" lengthAdjust="spacingAndGlyphs" >3</text>
<line x1="47.0" y1="215.50" x2="50.5" y2="215.50" stroke="#000" stroke-width="0.8"/>
<text x="44.5" y="219.3" font-size="10.8" text-anchor="end" fill="#000" font-weight="normal" textLength="6.7" lengthAdjust="spacingAndGlyphs" >4</text>
<line x1="47.0" y1="188.00" x2="50.5" y2="188.00" stroke="#000" stroke-width="0.8"/>
<text x="44.5" y="191.8" font-size="10.8" text-anchor="end" fill="#000" font-weight="normal" textLength="6.7" lengthAdjust="spacingAndGlyphs" >5</text>
<text x="577.3" y="201.9" font-size="13.2" text-anchor="middle" fill="#000" font-weight="bold" >b</text>
<text transform="translate(32.2 291.1) rotate(-90)" font-size="11" textLength="70.5" lengthAdjust="spacingAndGlyphs">Altitude [km]</text>
<rect x="628.5" y="306.56" width="9.5" height="17.24" fill="#d2e3f3"/>
<rect x="628.5" y="289.62" width="9.5" height="17.24" fill="#b9d6ea"/>
<rect x="628.5" y="272.69" width="9.5" height="17.24" fill="#94c4df"/>
<rect x="628.5" y="255.75" width="9.5" height="17.24" fill="#6aaed6"/>
<rect x="628.5" y="238.81" width="9.5" height="17.24" fill="#4a98c9"/>
<rect x="628.5" y="221.88" width="9.5" height="17.24" fill="#2e7ebc"/>
<rect x="628.5" y="204.94" width="9.5" height="17.24" fill="#1460a8"/>
<rect x="628.5" y="188.00" width="9.5" height="17.24" fill="#083e80"/>
<rect x="628.5" y="188.0" width="9.5" height="135.5" fill="none" stroke="#333" stroke-width="0.7"/>
<line x1="638.0" y1="323.50" x2="641.5" y2="323.50" stroke="#000" stroke-width="0.8"/>
<text x="644.3" y="327.3" font-size="10.8" text-anchor="start" fill="#000" font-weight="normal" textLength="23.6" lengthAdjust="spacingAndGlyphs" >0.00</text>
<line x1="638.0" y1="289.62" x2="641.5" y2="289.62" stroke="#000" stroke-width="0.8"/>
<text x="644.3" y="293.4" font-size="10.8" text-anchor="start" fill="#000" font-weight="normal" textLength="23.6" lengthAdjust="spacingAndGlyphs" >0.25</text>
<line x1="638.0" y1="255.75" x2="641.5" y2="255.75" stroke="#000" stroke-width="0.8"/>
<text x="644.3" y="259.6" font-size="10.8" text-anchor="start" fill="#000" font-weight="normal" textLength="23.6" lengthAdjust="spacingAndGlyphs" >0.50</text>
<line x1="638.0" y1="221.88" x2="641.5" y2="221.88" stroke="#000" stroke-width="0.8"/>
<text x="644.3" y="225.7" font-size="10.8" text-anchor="start" fill="#000" font-weight="normal" textLength="23.6" lengthAdjust="spacingAndGlyphs" >0.75</text>
<line x1="638.0" y1="188.00" x2="641.5" y2="188.00" stroke="#000" stroke-width="0.8"/>
<text x="644.3" y="191.8" font-size="10.8" text-anchor="start" fill="#000" font-weight="normal" textLength="23.6" lengthAdjust="spacingAndGlyphs" >1.00</text>
<text transform="translate(681.8 321.8) rotate(-90)" font-size="12.3" textLength="132" lengthAdjust="spacingAndGlyphs">LWC DEMOTT [gm<tspan dy="-4" font-size="8">−3</tspan><tspan dy="4">]</tspan></text>
<line x1="78.5" y1="351.0" x2="78.5" y2="486.5" stroke="#b0b0b0" stroke-width="0.8"/>
<line x1="164.5" y1="351.0" x2="164.5" y2="486.5" stroke="#b0b0b0" stroke-width="0.8"/>
<line x1="250.5" y1="351.0" x2="250.5" y2="486.5" stroke="#b0b0b0" stroke-width="0.8"/>
<line x1="336.5" y1="351.0" x2="336.5" y2="486.5" stroke="#b0b0b0" stroke-width="0.8"/>
<line x1="422.5" y1="351.0" x2="422.5" y2="486.5" stroke="#b0b0b0" stroke-width="0.8"/>
<line x1="508.5" y1="351.0" x2="508.5" y2="486.5" stroke="#b0b0b0" stroke-width="0.8"/>
<line x1="50.5" y1="459.50" x2="594.5" y2="459.50" stroke="#b2b2b2" stroke-width="0.9"/>
<line x1="50.5" y1="432.50" x2="594.5" y2="432.50" stroke="#b2b2b2" stroke-width="0.9"/>
<line x1="50.5" y1="405.50" x2="594.5" y2="405.50" stroke="#b2b2b2" stroke-width="0.9"/>
<line x1="50.5" y1="378.50" x2="594.5" y2="378.50" stroke="#b2b2b2" stroke-width="0.9"/>
<g clip-path="url(#cpc)">
<path d="M50.0,486.4 L50.0,471.0 L54.0,469.0 L58.0,461.0 L62.0,451.0 L66.0,449.0 L68.0,457.0 L71.0,451.0 L73.0,457.0 L74.0,437.0 L76.0,431.0 L79.0,432.0 L82.0,437.0 L83.0,453.0 L82.0,469.0 L83.0,486.4Z" fill="#d3e3f3" stroke="none" stroke-width="0" opacity="1"/>
<path d="M50.0,486.4 L50.0,477.0 L56.0,479.0 L60.0,486.4Z" fill="#94c4df" stroke="none" stroke-width="0" opacity="1"/>
<path d="M74.4,486.4 L74.8,461.0 L76.0,441.0 L78.4,437.0 L80.0,445.0 L80.4,469.0 L80.0,486.4Z" fill="#b9d6ea" stroke="none" stroke-width="0" opacity="1"/>
<path d="M86.0,429.0 L88.0,433.0 L88.0,453.0 L86.0,453.0Z" fill="#d3e3f3" stroke="none" stroke-width="0" opacity="1"/>
<path d="M95.0,429.0 L98.0,429.0 L98.0,461.0 L95.0,469.0Z" fill="#d3e3f3" stroke="none" stroke-width="0" opacity="1"/>
<path d="M101.0,486.4 L101.6,469.0 L103.0,459.0 L106.0,457.0 L108.0,469.0 L109.0,486.4Z" fill="#94c4df" stroke="none" stroke-width="0" opacity="1"/>
<path d="M102.4,486.4 L103.0,473.0 L105.0,469.0 L106.4,477.0 L107.0,486.4Z" fill="#4a98c9" stroke="none" stroke-width="0" opacity="1"/>
<path d="M109.0,486.4 L109.0,469.0 L111.0,461.0 L113.0,469.0 L114.0,486.4Z" fill="#d3e3f3" stroke="none" stroke-width="0" opacity="1"/>
<path d="M138.0,486.4 L144.0,479.0 L150.0,475.0 L158.0,473.0 L166.0,473.0 L170.0,469.0 L175.0,465.0 L180.0,463.0 L187.0,461.0 L187.0,486.4Z" fill="#d3e3f3" stroke="none" stroke-width="0" opacity="1"/>
<path d="M148.0,486.4 L150.0,479.0 L158.0,476.0 L166.0,477.0 L171.0,472.0 L176.0,469.0 L182.0,467.0 L187.0,467.0 L187.0,486.4Z" fill="#6aaed6" stroke="none" stroke-width="0" opacity="1"/>
<path d="M156.0,486.4 L158.0,479.0 L164.0,478.0 L168.0,481.0 L170.0,486.4Z" fill="#2e7ebc" stroke="none" stroke-width="0" opacity="1"/>
<path d="M173.0,486.4 L174.0,475.0 L178.0,471.0 L183.0,472.0 L187.0,471.0 L187.0,486.4Z" fill="#2e7ebc" stroke="none" stroke-width="0" opacity="1"/>
<path d="M184.0,419.0 L187.0,418.0 L187.0,429.0 L185.0,429.0Z" fill="#d3e3f3" stroke="none" stroke-width="0" opacity="1"/>
<path d="M214.0,407.0 L216.0,394.0 L222.0,386.0 L226.0,379.0 L233.0,377.0 L234.6,389.0 L230.0,399.0 L227.0,409.0 L224.0,416.0 L217.0,413.0Z" fill="#d3e3f3" stroke="none" stroke-width="0" opacity="1"/>
<path d="M232.6,416.0 L235.6,409.0 L238.2,399.0 L239.0,384.0 L245.0,387.0 L244.0,401.0 L241.4,412.0 L237.0,419.0Z" fill="#d3e3f3" stroke="none" stroke-width="0" opacity="1"/>
<path d="M247.0,381.0 L255.4,378.0 L257.0,389.0 L251.4,393.0 L247.4,390.0Z" fill="#d3e3f3" stroke="none" stroke-width="0" opacity="1"/>
<path d="M258.0,381.0 L267.4,378.6 L269.8,387.4 L265.4,394.0 L259.4,392.6Z" fill="#d3e3f3" stroke="none" stroke-width="0" opacity="1"/>
<path d="M219.0,429.0 L225.0,424.0 L228.0,437.0 L221.0,438.0Z" fill="#d3e3f3" stroke="none" stroke-width="0" opacity="1"/>
<path d="M187.0,486.4 L187.0,441.0 L190.0,439.0 L193.0,433.0 L196.0,427.0 L198.0,431.0 L200.0,443.0 L203.0,441.0 L206.0,447.0 L209.0,451.0 L212.0,443.0 L215.0,447.0 L218.0,441.0 L221.0,435.0 L225.0,435.0 L228.0,445.0 L230.0,451.0 L231.0,463.0 L234.0,469.0 L237.0,467.0 L241.0,471.0 L244.0,459.0 L247.0,456.0 L251.0,461.0 L254.0,463.0 L258.0,465.0 L261.0,455.0 L264.0,447.0 L267.0,453.0 L271.0,451.0 L275.0,445.0 L278.0,443.0 L280.0,455.0 L283.0,463.0 L287.0,459.0 L291.0,463.0 L296.0,459.0 L302.0,461.0 L307.0,457.0 L312.0,456.0 L316.0,464.0 L320.0,467.0 L324.0,465.0 L324.0,486.4Z" fill="#d3e3f3" stroke="none" stroke-width="0" opacity="1"/>
<path d="M187.0,486.4 L187.0,446.0 L190.0,444.0 L193.0,438.0 L196.0,432.0 L198.0,436.0 L200.0,448.0 L203.0,446.0 L206.0,452.0 L209.0,456.0 L212.0,448.0 L215.0,452.0 L218.0,446.0 L221.0,440.0 L225.0,440.0 L228.0,450.0 L230.0,456.0 L231.0,468.0 L234.0,474.0 L237.0,472.0 L241.0,476.0 L244.0,464.0 L247.0,461.0 L251.0,466.0 L254.0,468.0 L258.0,470.0 L261.0,460.0 L264.0,452.0 L267.0,458.0 L271.0,456.0 L275.0,450.0 L278.0,448.0 L280.0,460.0 L283.0,468.0 L287.0,464.0 L291.0,468.0 L296.0,464.0 L302.0,466.0 L307.0,462.0 L312.0,461.0 L316.0,469.0 L320.0,472.0 L324.0,470.0 L324.0,486.4Z" fill="#b9d6ea" stroke="none" stroke-width="0" opacity="1"/>
<path d="M187.0,486.4 L187.0,449.0 L190.0,447.0 L193.0,441.0 L196.0,435.0 L198.0,439.0 L200.0,451.0 L203.0,449.0 L206.0,455.0 L209.0,459.0 L212.0,453.0 L214.0,461.0 L217.0,477.0 L227.0,479.0 L239.0,481.0 L251.0,477.0 L256.0,473.0 L261.0,465.0 L264.0,457.0 L267.0,463.0 L271.0,461.0 L275.0,455.0 L278.0,453.0 L280.0,465.0 L283.0,473.0 L287.0,469.0 L291.0,473.0 L296.0,469.0 L302.0,471.0 L307.0,467.0 L312.0,466.0 L316.0,474.0 L320.0,477.0 L324.0,475.0 L324.0,486.4Z" fill="#94c4df" stroke="none" stroke-width="0" opacity="1"/>
<path d="M187.0,486.4 L187.0,457.0 L193.0,451.0 L197.0,447.0 L200.0,459.0 L205.0,463.0 L209.0,467.0 L212.0,469.0 L214.0,486.4Z" fill="#4a98c9" stroke="none" stroke-width="0" opacity="1"/>
<path d="M273.0,486.4 L275.0,469.0 L278.0,463.0 L281.0,473.0 L287.0,475.0 L296.0,474.0 L307.0,472.0 L315.0,477.0 L324.0,479.0 L324.0,486.4Z" fill="#4a98c9" stroke="none" stroke-width="0" opacity="1"/>
<path d="M187.0,486.4 L187.0,473.0 L193.0,467.0 L199.0,473.0 L205.0,479.0 L209.0,486.4Z" fill="#1460a8" stroke="none" stroke-width="0" opacity="1"/>
<path d="M279.0,486.4 L281.0,477.0 L285.0,473.0 L289.0,479.0 L293.0,473.0 L297.0,479.0 L301.0,473.0 L305.0,469.0 L309.0,477.0 L315.0,473.0 L319.0,479.0 L324.0,477.0 L324.0,486.4Z" fill="#1460a8" stroke="none" stroke-width="0" opacity="1"/>
<path d="M324.0,486.4 L324.0,457.0 L326.0,449.0 L328.0,451.0 L331.0,461.0 L335.0,465.0 L339.0,461.0 L342.0,453.0 L345.0,457.0 L348.0,461.0 L350.4,447.0 L352.0,455.0 L355.0,457.0 L358.0,461.0 L361.0,465.0 L362.0,473.0 L367.0,477.0 L371.0,473.0 L375.0,477.0 L379.0,469.0 L382.0,461.0 L385.0,457.0 L388.0,461.0 L391.0,453.0 L393.0,450.0 L396.0,457.0 L400.0,461.0 L404.0,463.0 L407.0,469.0 L412.0,469.0 L417.0,471.0 L420.0,461.0 L422.4,457.0 L425.0,465.0 L428.0,471.0 L432.0,473.0 L434.0,465.0 L438.0,461.0 L442.0,461.0 L445.0,467.0 L447.0,453.0 L449.0,457.0 L452.0,463.0 L456.0,461.0 L461.0,457.0 L461.0,486.4Z" fill="#d3e3f3" stroke="none" stroke-width="0" opacity="1"/>
<path d="M324.0,486.4 L324.0,460.6 L326.0,452.6 L328.0,454.6 L331.0,464.6 L335.0,468.6 L339.0,464.6 L342.0,456.6 L345.0,460.6 L348.0,464.6 L350.4,450.6 L352.0,458.6 L355.0,460.6 L358.0,464.6 L361.0,468.6 L362.0,476.6 L367.0,480.6 L371.0,476.6 L375.0,480.6 L379.0,472.6 L382.0,464.6 L385.0,460.6 L388.0,464.6 L391.0,456.6 L393.0,453.6 L396.0,460.6 L400.0,464.6 L404.0,466.6 L407.0,472.6 L412.0,472.6 L417.0,474.6 L420.0,464.6 L422.4,460.6 L425.0,468.6 L428.0,474.6 L432.0,476.6 L434.0,468.6 L438.0,464.6 L442.0,464.6 L445.0,470.6 L447.0,456.6 L449.0,460.6 L452.0,466.6 L456.0,464.6 L461.0,460.6 L461.0,486.4Z" fill="#94c4df" stroke="none" stroke-width="0" opacity="1"/>
<path d="M324.0,486.4 L324.0,464.0 L326.0,456.0 L328.0,458.0 L331.0,468.0 L335.0,472.0 L339.0,468.0 L342.0,460.0 L345.0,464.0 L348.0,468.0 L350.4,454.0 L352.0,462.0 L355.0,464.0 L358.0,468.0 L361.0,472.0 L362.0,486.4Z" fill="#6aaed6" stroke="none" stroke-width="0" opacity="1"/>
<path d="M382.0,486.4 L382.0,468.0 L385.0,464.0 L388.0,468.0 L391.0,460.0 L393.0,457.0 L396.0,464.0 L400.0,468.0 L404.0,470.0 L404.0,486.4Z" fill="#6aaed6" stroke="none" stroke-width="0" opacity="1"/>
<path d="M432.0,486.4 L432.0,480.0 L434.0,472.0 L438.0,468.0 L442.0,468.0 L445.0,474.0 L447.0,460.0 L449.0,464.0 L452.0,470.0 L456.0,468.0 L461.0,464.0 L461.0,486.4Z" fill="#6aaed6" stroke="none" stroke-width="0" opacity="1"/>
<path d="M336.0,486.4 L337.0,473.0 L340.0,465.0 L344.0,461.0 L348.0,467.0 L350.0,457.0 L352.0,469.0 L354.0,477.0 L356.0,486.4Z" fill="#2e7ebc" stroke="none" stroke-width="0" opacity="1"/>
<path d="M392.0,486.4 L393.0,469.0 L395.0,461.0 L397.0,473.0 L400.0,469.0 L403.0,477.0 L404.0,486.4Z" fill="#2e7ebc" stroke="none" stroke-width="0" opacity="1"/>
<path d="M444.0,486.4 L445.0,473.0 L447.0,461.0 L449.0,469.0 L450.0,486.4Z" fill="#2e7ebc" stroke="none" stroke-width="0" opacity="1"/>
<path d="M461.0,486.4 L461.0,457.0 L465.0,460.0 L469.0,457.0 L473.0,461.0 L477.0,464.0 L480.0,462.0 L483.0,469.0 L488.0,470.0 L493.0,473.0 L498.0,471.0 L502.0,468.0 L505.0,473.0 L509.0,475.0 L513.0,469.0 L516.0,475.0 L520.0,477.0 L524.0,474.0 L527.0,481.0 L533.0,483.0 L539.0,482.0 L543.0,477.0 L549.0,479.0 L554.0,476.0 L559.0,475.0 L565.0,477.0 L570.0,481.0 L574.0,485.0 L577.0,486.4Z" fill="#d3e3f3" stroke="none" stroke-width="0" opacity="1"/>
<path d="M461.0,486.4 L461.0,461.0 L469.0,461.0 L477.0,467.0 L481.0,467.0 L484.0,473.0 L493.0,477.0 L501.0,473.0 L505.0,477.0 L513.0,475.0 L519.0,481.0 L525.0,479.0 L527.0,486.4Z" fill="#94c4df" stroke="none" stroke-width="0" opacity="1"/>
<path d="M541.0,486.4 L544.0,480.0 L549.0,481.0 L554.0,478.0 L560.0,477.0 L565.0,480.0 L570.0,484.0 L572.0,486.4Z" fill="#94c4df" stroke="none" stroke-width="0" opacity="1"/>
<path d="M461.0,486.4 L461.0,465.0 L469.0,465.0 L477.0,471.0 L482.0,473.0 L486.0,486.4Z" fill="#4a98c9" stroke="none" stroke-width="0" opacity="1"/>
<path d="M549.0,486.4 L551.0,481.0 L555.0,479.0 L561.0,479.0 L565.0,483.0 L567.0,486.4Z" fill="#4a98c9" stroke="none" stroke-width="0" opacity="1"/>
<path d="M467.0,486.4 L468.0,473.0 L471.0,469.0 L474.0,473.0 L475.0,486.4Z" fill="#1460a8" stroke="none" stroke-width="0" opacity="1"/>
<path d="M555.0,486.4 L556.0,481.0 L560.0,480.0 L563.0,483.0 L564.0,486.4Z" fill="#1460a8" stroke="none" stroke-width="0" opacity="1"/>
<path d="M62.0,477.0 L64.0,469.0 L68.0,467.0 L70.0,477.0 L68.0,486.4 L63.0,486.4Z" fill="#fff" stroke="none" stroke-width="0" opacity="1"/>
<path d="M306.2,477.0 L307.8,476.0 L308.6,482.0 L307.0,483.0Z" fill="#fff" stroke="none" stroke-width="0" opacity="1"/>
<path d="M393.0,477.0 L395.0,476.0 L395.6,483.0 L393.6,484.0Z" fill="#fff" stroke="none" stroke-width="0" opacity="1"/>
<path d="M475.0,477.0 L478.0,476.0 L479.0,486.4 L475.4,486.4Z" fill="#fff" stroke="none" stroke-width="0" opacity="1"/>
<clipPath id="cl3c">
<path d="M50.0,486.4 L50.0,477.0 L56.0,479.0 L60.0,486.4Z"/>
<path d="M101.0,486.4 L101.6,469.0 L103.0,459.0 L106.0,457.0 L108.0,469.0 L109.0,486.4Z"/>
<path d="M102.4,486.4 L103.0,473.0 L105.0,469.0 L106.4,477.0 L107.0,486.4Z"/>
<path d="M148.0,486.4 L150.0,479.0 L158.0,476.0 L166.0,477.0 L171.0,472.0 L176.0,469.0 L182.0,467.0 L187.0,467.0 L187.0,486.4Z"/>
<path d="M156.0,486.4 L158.0,479.0 L164.0,478.0 L168.0,481.0 L170.0,486.4Z"/>
<path d="M173.0,486.4 L174.0,475.0 L178.0,471.0 L183.0,472.0 L187.0,471.0 L187.0,486.4Z"/>
<path d="M187.0,486.4 L187.0,449.0 L190.0,447.0 L193.0,441.0 L196.0,435.0 L198.0,439.0 L200.0,451.0 L203.0,449.0 L206.0,455.0 L209.0,459.0 L212.0,453.0 L214.0,461.0 L217.0,477.0 L227.0,479.0 L239.0,481.0 L251.0,477.0 L256.0,473.0 L261.0,465.0 L264.0,457.0 L267.0,463.0 L271.0,461.0 L275.0,455.0 L278.0,453.0 L280.0,465.0 L283.0,473.0 L287.0,469.0 L291.0,473.0 L296.0,469.0 L302.0,471.0 L307.0,467.0 L312.0,466.0 L316.0,474.0 L320.0,477.0 L324.0,475.0 L324.0,486.4Z"/>
<path d="M187.0,486.4 L187.0,457.0 L193.0,451.0 L197.0,447.0 L200.0,459.0 L205.0,463.0 L209.0,467.0 L212.0,469.0 L214.0,486.4Z"/>
<path d="M273.0,486.4 L275.0,469.0 L278.0,463.0 L281.0,473.0 L287.0,475.0 L296.0,474.0 L307.0,472.0 L315.0,477.0 L324.0,479.0 L324.0,486.4Z"/>
<path d="M187.0,486.4 L187.0,473.0 L193.0,467.0 L199.0,473.0 L205.0,479.0 L209.0,486.4Z"/>
<path d="M279.0,486.4 L281.0,477.0 L285.0,473.0 L289.0,479.0 L293.0,473.0 L297.0,479.0 L301.0,473.0 L305.0,469.0 L309.0,477.0 L315.0,473.0 L319.0,479.0 L324.0,477.0 L324.0,486.4Z"/>
<path d="M324.0,486.4 L324.0,460.6 L326.0,452.6 L328.0,454.6 L331.0,464.6 L335.0,468.6 L339.0,464.6 L342.0,456.6 L345.0,460.6 L348.0,464.6 L350.4,450.6 L352.0,458.6 L355.0,460.6 L358.0,464.6 L361.0,468.6 L362.0,476.6 L367.0,480.6 L371.0,476.6 L375.0,480.6 L379.0,472.6 L382.0,464.6 L385.0,460.6 L388.0,464.6 L391.0,456.6 L393.0,453.6 L396.0,460.6 L400.0,464.6 L404.0,466.6 L407.0,472.6 L412.0,472.6 L417.0,474.6 L420.0,464.6 L422.4,460.6 L425.0,468.6 L428.0,474.6 L432.0,476.6 L434.0,468.6 L438.0,464.6 L442.0,464.6 L445.0,470.6 L447.0,456.6 L449.0,460.6 L452.0,466.6 L456.0,464.6 L461.0,460.6 L461.0,486.4Z"/>
<path d="M324.0,486.4 L324.0,464.0 L326.0,456.0 L328.0,458.0 L331.0,468.0 L335.0,472.0 L339.0,468.0 L342.0,460.0 L345.0,464.0 L348.0,468.0 L350.4,454.0 L352.0,462.0 L355.0,464.0 L358.0,468.0 L361.0,472.0 L362.0,486.4Z"/>
<path d="M382.0,486.4 L382.0,468.0 L385.0,464.0 L388.0,468.0 L391.0,460.0 L393.0,457.0 L396.0,464.0 L400.0,468.0 L404.0,470.0 L404.0,486.4Z"/>
<path d="M432.0,486.4 L432.0,480.0 L434.0,472.0 L438.0,468.0 L442.0,468.0 L445.0,474.0 L447.0,460.0 L449.0,464.0 L452.0,470.0 L456.0,468.0 L461.0,464.0 L461.0,486.4Z"/>
<path d="M336.0,486.4 L337.0,473.0 L340.0,465.0 L344.0,461.0 L348.0,467.0 L350.0,457.0 L352.0,469.0 L354.0,477.0 L356.0,486.4Z"/>
<path d="M392.0,486.4 L393.0,469.0 L395.0,461.0 L397.0,473.0 L400.0,469.0 L403.0,477.0 L404.0,486.4Z"/>
<path d="M444.0,486.4 L445.0,473.0 L447.0,461.0 L449.0,469.0 L450.0,486.4Z"/>
<path d="M461.0,486.4 L461.0,461.0 L469.0,461.0 L477.0,467.0 L481.0,467.0 L484.0,473.0 L493.0,477.0 L501.0,473.0 L505.0,477.0 L513.0,475.0 L519.0,481.0 L525.0,479.0 L527.0,486.4Z"/>
<path d="M541.0,486.4 L544.0,480.0 L549.0,481.0 L554.0,478.0 L560.0,477.0 L565.0,480.0 L570.0,484.0 L572.0,486.4Z"/>
<path d="M461.0,486.4 L461.0,465.0 L469.0,465.0 L477.0,471.0 L482.0,473.0 L486.0,486.4Z"/>
<path d="M549.0,486.4 L551.0,481.0 L555.0,479.0 L561.0,479.0 L565.0,483.0 L567.0,486.4Z"/>
<path d="M467.0,486.4 L468.0,473.0 L471.0,469.0 L474.0,473.0 L475.0,486.4Z"/>
<path d="M555.0,486.4 L556.0,481.0 L560.0,480.0 L563.0,483.0 L564.0,486.4Z"/>
</clipPath>
<clipPath id="cl5c">
<path d="M102.4,486.4 L103.0,473.0 L105.0,469.0 L106.4,477.0 L107.0,486.4Z"/>
<path d="M148.0,486.4 L150.0,479.0 L158.0,476.0 L166.0,477.0 L171.0,472.0 L176.0,469.0 L182.0,467.0 L187.0,467.0 L187.0,486.4Z"/>
<path d="M156.0,486.4 L158.0,479.0 L164.0,478.0 L168.0,481.0 L170.0,486.4Z"/>
<path d="M173.0,486.4 L174.0,475.0 L178.0,471.0 L183.0,472.0 L187.0,471.0 L187.0,486.4Z"/>
<path d="M187.0,486.4 L187.0,457.0 L193.0,451.0 L197.0,447.0 L200.0,459.0 L205.0,463.0 L209.0,467.0 L212.0,469.0 L214.0,486.4Z"/>
<path d="M273.0,486.4 L275.0,469.0 L278.0,463.0 L281.0,473.0 L287.0,475.0 L296.0,474.0 L307.0,472.0 L315.0,477.0 L324.0,479.0 L324.0,486.4Z"/>
<path d="M187.0,486.4 L187.0,473.0 L193.0,467.0 L199.0,473.0 L205.0,479.0 L209.0,486.4Z"/>
<path d="M279.0,486.4 L281.0,477.0 L285.0,473.0 L289.0,479.0 L293.0,473.0 L297.0,479.0 L301.0,473.0 L305.0,469.0 L309.0,477.0 L315.0,473.0 L319.0,479.0 L324.0,477.0 L324.0,486.4Z"/>
<path d="M324.0,486.4 L324.0,464.0 L326.0,456.0 L328.0,458.0 L331.0,468.0 L335.0,472.0 L339.0,468.0 L342.0,460.0 L345.0,464.0 L348.0,468.0 L350.4,454.0 L352.0,462.0 L355.0,464.0 L358.0,468.0 L361.0,472.0 L362.0,486.4Z"/>
<path d="M382.0,486.4 L382.0,468.0 L385.0,464.0 L388.0,468.0 L391.0,460.0 L393.0,457.0 L396.0,464.0 L400.0,468.0 L404.0,470.0 L404.0,486.4Z"/>
<path d="M432.0,486.4 L432.0,480.0 L434.0,472.0 L438.0,468.0 L442.0,468.0 L445.0,474.0 L447.0,460.0 L449.0,464.0 L452.0,470.0 L456.0,468.0 L461.0,464.0 L461.0,486.4Z"/>
<path d="M336.0,486.4 L337.0,473.0 L340.0,465.0 L344.0,461.0 L348.0,467.0 L350.0,457.0 L352.0,469.0 L354.0,477.0 L356.0,486.4Z"/>
<path d="M392.0,486.4 L393.0,469.0 L395.0,461.0 L397.0,473.0 L400.0,469.0 L403.0,477.0 L404.0,486.4Z"/>
<path d="M444.0,486.4 L445.0,473.0 L447.0,461.0 L449.0,469.0 L450.0,486.4Z"/>
<path d="M461.0,486.4 L461.0,465.0 L469.0,465.0 L477.0,471.0 L482.0,473.0 L486.0,486.4Z"/>
<path d="M549.0,486.4 L551.0,481.0 L555.0,479.0 L561.0,479.0 L565.0,483.0 L567.0,486.4Z"/>
<path d="M467.0,486.4 L468.0,473.0 L471.0,469.0 L474.0,473.0 L475.0,486.4Z"/>
<path d="M555.0,486.4 L556.0,481.0 L560.0,480.0 L563.0,483.0 L564.0,486.4Z"/>
</clipPath>
<g clip-path="url(#cl5c)">
<path d="M145.2,444.1h1.4V486.5h-1.4zM146.6,419.7h1.5V486.5h-1.5zM151.6,442.6h2.1V486.5h-2.1zM154.9,437.3h1.0V486.5h-1.0zM167.7,437.1h1.3V486.5h-1.3zM173.1,464.4h1.1V486.5h-1.1zM186.1,469.0h1.3V486.5h-1.3zM204.6,450.5h2.0V486.5h-2.0zM211.1,423.5h1.6V486.5h-1.6zM222.7,463.1h1.2V486.5h-1.2zM235.9,422.9h1.3V486.5h-1.3zM272.1,444.3h1.2V486.5h-1.2zM290.5,470.3h1.8V486.5h-1.8zM309.0,460.7h2.0V486.5h-2.0zM312.7,450.3h0.9V486.5h-0.9zM335.4,440.8h2.0V486.5h-2.0zM464.0,447.9h1.5V486.5h-1.5zM471.8,425.7h2.1V486.5h-2.1zM473.9,422.3h1.3V486.5h-1.3zM523.2,440.4h1.9V486.5h-1.9zM529.6,451.7h1.5V486.5h-1.5zM538.4,474.2h1.0V486.5h-1.0zM559.6,465.8h1.4V486.5h-1.4z" fill="#083c80" opacity="0.4"/>
<path d="M149.6,439.5h1.1V486.5h-1.1zM181.9,439.6h2.1V486.5h-2.1zM188.5,431.2h1.7V486.5h-1.7zM257.6,473.5h1.4V486.5h-1.4zM260.0,446.5h1.3V486.5h-1.3zM324.5,422.4h1.2V486.5h-1.2zM343.9,448.4h2.1V486.5h-2.1zM374.8,464.1h0.9V486.5h-0.9zM392.0,445.8h1.3V486.5h-1.3zM402.4,463.4h1.0V486.5h-1.0zM406.8,459.4h1.3V486.5h-1.3zM421.8,455.4h1.9V486.5h-1.9zM424.7,435.7h1.5V486.5h-1.5zM430.8,441.4h0.9V486.5h-0.9zM453.0,454.0h2.0V486.5h-2.0zM502.7,464.1h0.8V486.5h-0.8zM546.4,420.1h1.1V486.5h-1.1zM556.4,449.9h2.1V486.5h-2.1z" fill="#083c80" opacity="0.2"/>
<path d="M159.6,453.7h1.8V486.5h-1.8zM178.7,426.1h1.7V486.5h-1.7zM220.7,445.3h1.9V486.5h-1.9zM227.8,455.7h1.2V486.5h-1.2zM230.4,475.1h1.2V486.5h-1.2zM238.8,458.0h1.0V486.5h-1.0zM281.5,421.9h1.3V486.5h-1.3zM340.6,427.1h1.2V486.5h-1.2zM356.0,441.2h0.9V486.5h-0.9zM362.7,450.6h1.0V486.5h-1.0zM385.5,436.8h1.3V486.5h-1.3zM448.7,472.8h2.0V486.5h-2.0zM520.0,426.1h1.8V486.5h-1.8zM534.5,427.0h1.1V486.5h-1.1zM550.6,419.6h0.8V486.5h-0.8zM558.4,421.2h1.1V486.5h-1.1z" fill="#083c80" opacity="0.6"/>
<path d="M163.2,456.3h1.2V486.5h-1.2zM190.0,422.9h2.0V486.5h-2.0zM206.6,468.2h1.8V486.5h-1.8zM216.9,434.8h1.2V486.5h-1.2zM225.7,468.2h2.0V486.5h-2.0zM250.0,429.8h0.8V486.5h-0.8zM254.1,442.4h1.5V486.5h-1.5zM276.7,439.1h1.6V486.5h-1.6zM295.3,456.2h1.9V486.5h-1.9zM368.1,436.3h1.4V486.5h-1.4zM395.8,469.8h1.7V486.5h-1.7zM444.0,470.6h2.0V486.5h-2.0zM469.6,468.9h0.8V486.5h-0.8zM507.3,462.0h1.8V486.5h-1.8zM547.5,445.7h1.2V486.5h-1.2z" fill="#083c80" opacity="0.3"/>
<path d="M164.4,420.9h1.3V486.5h-1.3zM187.3,430.4h1.2V486.5h-1.2zM237.2,458.0h1.6V486.5h-1.6zM240.7,465.2h1.8V486.5h-1.8zM316.2,437.3h1.4V486.5h-1.4zM348.0,475.5h1.0V486.5h-1.0zM383.7,472.3h1.8V486.5h-1.8zM441.5,452.8h1.3V486.5h-1.3zM481.8,454.1h1.0V486.5h-1.0zM498.7,465.8h1.6V486.5h-1.6zM503.6,424.4h0.9V486.5h-0.9zM509.9,447.5h0.8V486.5h-0.8zM515.2,467.2h1.7V486.5h-1.7zM551.5,469.6h1.7V486.5h-1.7z" fill="#083c80" opacity="0.7"/>
<path d="M170.8,449.3h1.2V486.5h-1.2zM192.0,459.6h1.0V486.5h-1.0zM196.4,420.9h2.1V486.5h-2.1zM231.5,461.4h1.3V486.5h-1.3zM282.8,457.9h1.0V486.5h-1.0zM288.5,425.8h1.9V486.5h-1.9zM306.1,435.5h2.0V486.5h-2.0zM313.6,429.3h1.5V486.5h-1.5zM321.0,437.4h1.7V486.5h-1.7zM325.6,453.6h1.8V486.5h-1.8zM382.0,449.2h1.7V486.5h-1.7zM386.9,427.0h1.6V486.5h-1.6zM420.6,447.1h1.2V486.5h-1.2zM446.0,434.0h0.8V486.5h-0.8zM450.8,436.5h0.9V486.5h-0.9zM484.0,452.9h1.3V486.5h-1.3zM505.7,421.3h1.5V486.5h-1.5z" fill="#083c80" opacity="0.5"/>
<path d="M174.2,437.8h0.9V486.5h-0.9zM232.8,447.6h1.5V486.5h-1.5zM247.5,442.5h0.8V486.5h-0.8zM270.3,475.1h1.8V486.5h-1.8zM297.2,433.8h1.5V486.5h-1.5zM327.4,441.7h1.6V486.5h-1.6zM361.8,461.2h0.9V486.5h-0.9zM366.6,460.2h1.5V486.5h-1.5zM451.6,455.3h1.4V486.5h-1.4zM485.3,436.1h1.7V486.5h-1.7zM501.8,466.8h0.9V486.5h-0.9zM532.8,453.0h1.6V486.5h-1.6z" fill="#083c80" opacity="0.1"/>
<path d="M203.1,420.5h1.5V486.5h-1.5zM239.9,459.4h0.8V486.5h-0.8zM341.9,443.3h2.0V486.5h-2.0zM375.8,424.6h1.2V486.5h-1.2zM378.4,469.5h1.9V486.5h-1.9zM488.8,446.7h2.0V486.5h-2.0zM528.5,438.2h1.1V486.5h-1.1zM543.9,442.0h1.7V486.5h-1.7z" fill="#083c80" opacity="0.8"/>
<path d="M302.7,425.2h1.7V486.5h-1.7zM304.4,427.0h1.7V486.5h-1.7zM311.0,445.4h1.7V486.5h-1.7zM330.0,432.3h1.8V486.5h-1.8zM363.7,451.8h1.3V486.5h-1.3zM397.5,468.9h1.3V486.5h-1.3zM412.2,457.0h0.9V486.5h-0.9z" fill="#083c80" opacity="0.9"/>
<path d="M349.0,442.3h1.5V486.5h-1.5zM365.0,469.6h1.6V486.5h-1.6zM394.9,427.0h1.0V486.5h-1.0zM416.3,430.9h1.3V486.5h-1.3zM418.7,448.8h1.9V486.5h-1.9zM428.0,455.9h1.4V486.5h-1.4zM440.4,436.6h1.1V486.5h-1.1zM456.6,474.2h1.4V486.5h-1.4zM458.0,449.7h1.7V486.5h-1.7zM459.7,452.0h1.6V486.5h-1.6z" fill="#083c80" opacity="1.0"/>
</g>
<g clip-path="url(#cl3c)">
<path d="M140.0,351.0h0.9V486.5h-0.9zM148.1,351.0h1.5V485.1h-1.5zM150.7,351.0h0.9V475.6h-0.9zM161.4,351.0h1.8V486.5h-1.8zM184.0,351.0h2.1V486.5h-2.1zM219.3,351.0h1.5V464.2h-1.5zM242.4,351.0h1.7V469.3h-1.7zM246.0,351.0h1.5V478.5h-1.5zM268.2,351.0h2.1V486.5h-2.1zM331.8,351.0h1.9V485.4h-1.9zM371.6,351.0h1.5V469.0h-1.5zM426.2,351.0h1.8V486.5h-1.8zM429.4,351.0h1.4V472.9h-1.4zM437.0,351.0h1.8V471.2h-1.8zM438.8,351.0h1.5V481.2h-1.5zM480.3,351.0h1.5V486.5h-1.5zM500.3,351.0h1.5V468.9h-1.5zM521.8,351.0h1.4V486.5h-1.4zM531.1,351.0h0.9V486.5h-0.9zM537.3,351.0h1.1V477.6h-1.1zM539.4,351.0h1.3V486.5h-1.3z" fill="#e4eff9" opacity="0.2"/>
<path d="M140.9,351.0h1.2V486.5h-1.2zM153.7,351.0h1.2V486.5h-1.2zM156.0,351.0h1.5V486.5h-1.5zM165.7,351.0h2.0V486.5h-2.0zM175.1,351.0h0.9V486.5h-0.9zM198.5,351.0h1.8V469.3h-1.8zM200.3,351.0h1.6V486.5h-1.6zM208.5,351.0h0.9V486.5h-0.9zM213.7,351.0h1.4V486.5h-1.4zM264.3,351.0h0.9V486.5h-0.9zM267.2,351.0h1.0V486.5h-1.0zM280.4,351.0h1.1V465.9h-1.1zM283.8,351.0h1.5V480.8h-1.5zM285.3,351.0h1.2V465.3h-1.2zM286.5,351.0h1.2V486.5h-1.2zM319.3,351.0h1.7V479.1h-1.7zM338.8,351.0h1.9V484.4h-1.9zM351.7,351.0h1.5V464.2h-1.5zM360.8,351.0h0.9V460.5h-0.9zM373.1,351.0h1.7V486.5h-1.7zM403.4,351.0h1.6V486.5h-1.6zM446.8,351.0h1.9V486.5h-1.9zM462.4,351.0h1.6V486.5h-1.6zM494.2,351.0h1.6V477.4h-1.6zM495.8,351.0h1.3V479.1h-1.3zM540.7,351.0h1.7V466.1h-1.7zM545.5,351.0h0.9V485.6h-0.9zM554.9,351.0h1.4V486.5h-1.4z" fill="#e4eff9" opacity="0.3"/>
<path d="M143.5,351.0h1.6V486.5h-1.6zM169.1,351.0h0.9V486.5h-0.9zM194.7,351.0h1.7V477.8h-1.7zM209.4,351.0h1.8V486.5h-1.8zM228.9,351.0h1.4V476.5h-1.4zM248.3,351.0h1.7V480.9h-1.7zM252.7,351.0h1.4V476.9h-1.4zM255.6,351.0h2.0V460.8h-2.0zM292.3,351.0h2.0V486.5h-2.0zM317.6,351.0h1.8V479.3h-1.8zM322.7,351.0h1.8V480.7h-1.8zM410.4,351.0h1.8V486.5h-1.8zM417.6,351.0h1.1V486.5h-1.1zM476.8,351.0h2.0V486.5h-2.0zM516.9,351.0h1.5V469.4h-1.5zM542.4,351.0h1.5V486.5h-1.5z" fill="#e4eff9" opacity="0.4"/>
<path d="M170.0,351.0h0.8V486.5h-0.8zM176.9,351.0h1.8V486.5h-1.8zM193.0,351.0h1.7V486.5h-1.7zM212.7,351.0h1.0V486.5h-1.0zM215.1,351.0h1.8V486.5h-1.8zM278.4,351.0h1.1V464.0h-1.1zM337.4,351.0h1.3V486.5h-1.3zM391.0,351.0h1.0V486.5h-1.0zM393.3,351.0h1.6V486.5h-1.6zM408.1,351.0h0.9V474.9h-0.9zM433.7,351.0h1.6V460.8h-1.6zM466.9,351.0h1.2V470.9h-1.2zM478.8,351.0h1.6V462.9h-1.6zM510.8,351.0h1.9V486.5h-1.9zM553.2,351.0h1.7V486.5h-1.7z" fill="#e4eff9" opacity="0.1"/>
<path d="M172.0,351.0h1.2V486.5h-1.2zM180.4,351.0h1.5V479.8h-1.5zM250.8,351.0h1.9V486.5h-1.9zM259.0,351.0h1.5V460.2h-1.5zM261.3,351.0h1.2V461.5h-1.2zM262.6,351.0h1.8V473.9h-1.8zM273.3,351.0h1.7V469.4h-1.7zM275.1,351.0h1.6V486.5h-1.6zM308.1,351.0h0.9V486.5h-0.9zM329.0,351.0h1.7V486.5h-1.7zM333.7,351.0h1.7V481.1h-1.7zM380.3,351.0h1.8V483.8h-1.8zM398.8,351.0h1.7V480.6h-1.7zM400.5,351.0h1.9V479.8h-1.9zM413.0,351.0h1.9V461.8h-1.9zM442.8,351.0h1.2V486.5h-1.2zM492.8,351.0h1.5V486.5h-1.5zM504.5,351.0h1.3V472.5h-1.3zM513.6,351.0h1.6V486.5h-1.6zM525.1,351.0h1.5V486.5h-1.5zM526.6,351.0h1.9V486.5h-1.9zM532.0,351.0h0.8V486.5h-0.8zM548.7,351.0h1.9V486.5h-1.9z" fill="#e4eff9" opacity="0.5"/>
<path d="M201.9,351.0h1.2V483.1h-1.2zM223.9,351.0h1.8V480.8h-1.8zM234.3,351.0h1.6V474.8h-1.6zM294.3,351.0h1.0V483.0h-1.0zM299.9,351.0h1.8V474.2h-1.8zM350.4,351.0h1.3V464.9h-1.3zM389.6,351.0h1.4V474.8h-1.4zM431.7,351.0h2.0V486.5h-2.0zM435.3,351.0h1.7V483.5h-1.7zM470.0,351.0h1.8V486.5h-1.8zM482.8,351.0h1.1V473.2h-1.1zM497.1,351.0h1.6V486.5h-1.6zM512.6,351.0h0.9V461.3h-0.9zM518.3,351.0h1.7V486.5h-1.7zM535.6,351.0h1.8V486.5h-1.8z" fill="#e4eff9" opacity="0.6"/>
<path d="M279.5,351.0h1.0V486.5h-1.0zM298.7,351.0h1.3V480.9h-1.3zM315.0,351.0h1.2V486.5h-1.2z" fill="#e4eff9" opacity="0.8"/>
<path d="M287.6,351.0h0.9V486.5h-0.9zM346.0,351.0h1.0V486.5h-1.0zM423.7,351.0h1.0V486.5h-1.0zM475.1,351.0h1.7V476.2h-1.7z" fill="#e4eff9" opacity="0.7"/>
<path d="M353.2,351.0h1.4V477.1h-1.4zM356.9,351.0h2.0V486.5h-2.0zM408.9,351.0h1.4V479.3h-1.4zM468.1,351.0h1.5V486.5h-1.5z" fill="#e4eff9" opacity="0.9"/>
<path d="M354.5,351.0h1.5V484.0h-1.5zM358.9,351.0h1.9V486.5h-1.9zM369.5,351.0h2.0V475.0h-2.0zM388.4,351.0h1.2V476.4h-1.2zM415.0,351.0h1.3V486.5h-1.3zM455.0,351.0h1.6V481.2h-1.6zM465.6,351.0h1.3V486.0h-1.3z" fill="#e4eff9" opacity="1.0"/>
</g>
<path d="M118.0,351.0 L134.0,351.4 L148.0,351.4 L156.0,354.0 L164.0,356.6 L172.0,355.0 L180.0,359.0 L187.0,356.6" fill="none" stroke="#444" stroke-width="0.7" stroke-linejoin="round" stroke-linecap="butt" stroke-dasharray="3.4 1.6" opacity="0.9"/>
<path d="M51.0,361.4 L62.0,362.6 L76.0,364.0 L90.0,366.6 L102.0,370.0 L114.0,373.0 L119.0,375.4 L122.0,373.4 L126.0,376.0 L136.0,375.0 L146.0,374.6 L154.0,376.0 L162.0,380.0 L174.0,379.0 L187.0,381.0" fill="none" stroke="#444" stroke-width="0.7" stroke-linejoin="round" stroke-linecap="butt" stroke-dasharray="3.4 1.6" opacity="0.9"/>
<path d="M51.0,377.0 L66.0,379.0 L80.0,382.0 L92.0,386.0 L102.0,391.0 L110.0,394.6 L118.0,396.0 L126.0,395.0 L134.0,397.0 L146.0,396.0 L154.0,395.4 L162.0,398.0 L170.0,400.6 L178.0,400.0 L187.0,401.4" fill="none" stroke="#444" stroke-width="0.7" stroke-linejoin="round" stroke-linecap="butt" stroke-dasharray="3.4 1.6" opacity="0.9"/>
<path d="M51.0,392.6 L66.0,396.0 L78.0,400.0 L86.0,406.0 L94.0,408.0 L102.0,409.0 L110.0,412.6 L118.0,413.0 L130.0,414.6 L138.0,414.0 L150.0,416.0 L162.0,418.0 L172.0,419.4 L178.0,418.0 L187.0,419.4" fill="none" stroke="#444" stroke-width="0.7" stroke-linejoin="round" stroke-linecap="butt" stroke-dasharray="3.4 1.6" opacity="0.9"/>
<path d="M51.0,411.0 L62.0,414.0 L70.0,418.0 L75.0,420.0 L77.0,426.0 L80.0,428.0 L90.0,429.4 L102.0,429.0 L114.0,430.0 L126.0,429.0 L134.0,431.4 L146.0,433.0 L158.0,432.0 L166.0,435.0 L174.0,437.0 L187.0,437.4" fill="none" stroke="#444" stroke-width="0.7" stroke-linejoin="round" stroke-linecap="butt" stroke-dasharray="3.4 1.6" opacity="0.9"/>
<path d="M51.0,433.0 L60.0,437.0 L68.0,443.0 L76.0,445.4 L90.0,446.6 L100.0,448.0 L108.0,448.6 L118.0,447.0 L126.0,449.0 L134.0,453.0 L142.0,454.6 L150.0,453.0 L162.0,452.0 L170.0,452.6 L180.0,455.0 L187.0,457.0" fill="none" stroke="#444" stroke-width="0.7" stroke-linejoin="round" stroke-linecap="butt" stroke-dasharray="3.4 1.6" opacity="0.9"/>
<path d="M51.0,462.0 L62.0,464.0 L76.0,465.4 L90.0,466.6 L104.0,467.0 L116.0,468.0 L126.0,471.0 L134.0,475.0 L140.0,481.0 L144.0,482.0 L154.0,481.4" fill="none" stroke="#444" stroke-width="0.7" stroke-linejoin="round" stroke-linecap="butt" stroke-dasharray="3.4 1.6" opacity="0.9"/>
<path d="M187.0,356.0 L191.0,360.0 L199.0,362.0 L211.0,362.6 L223.0,364.0 L237.0,366.0 L242.0,364.0 L245.0,367.4 L250.0,368.6 L251.4,363.4 L256.0,365.0 L262.0,363.4" fill="none" stroke="#444" stroke-width="0.7" stroke-linejoin="round" stroke-linecap="butt" stroke-dasharray="3.4 1.6" opacity="0.9"/>
<path d="M287.0,364.6 L299.0,367.4 L311.0,368.6 L324.0,368.0" fill="none" stroke="#444" stroke-width="0.7" stroke-linejoin="round" stroke-linecap="butt" stroke-dasharray="3.4 1.6" opacity="0.9"/>
<path d="M187.0,380.0 L199.0,382.0 L213.0,385.0 L221.0,387.4 L233.0,387.0 L243.0,387.0 L255.0,386.6 L267.0,387.0 L279.0,387.4 L291.0,386.0 L303.0,385.4 L315.0,384.6 L324.0,385.0" fill="none" stroke="#444" stroke-width="0.7" stroke-linejoin="round" stroke-linecap="butt" stroke-dasharray="3.4 1.6" opacity="0.9"/>
<path d="M187.0,398.0 L197.0,400.6 L207.0,403.4 L219.0,404.0 L231.0,403.4 L239.4,403.4" fill="none" stroke="#444" stroke-width="0.7" stroke-linejoin="round" stroke-linecap="butt" stroke-dasharray="3.4 1.6" opacity="0.9"/>
<path d="M264.0,403.0 L275.0,403.4 L287.0,403.0 L299.0,402.6 L311.0,403.0 L324.0,402.6" fill="none" stroke="#444" stroke-width="0.7" stroke-linejoin="round" stroke-linecap="butt" stroke-dasharray="3.4 1.6" opacity="0.9"/>
<path d="M187.0,421.0 L199.0,419.4 L213.0,420.0 L227.0,419.4 L241.0,420.0 L255.0,420.6 L267.0,419.4 L279.0,421.0 L291.0,421.4 L303.0,420.6 L315.0,421.0 L324.0,420.6" fill="none" stroke="#444" stroke-width="0.7" stroke-linejoin="round" stroke-linecap="butt" stroke-dasharray="3.4 1.6" opacity="0.9"/>
<path d="M187.0,437.0 L199.0,437.4 L213.0,437.0 L227.0,438.0 L241.0,440.0 L253.0,440.6 L265.0,438.6 L273.0,439.4 L277.0,443.0 L281.0,439.0 L285.0,440.6 L287.0,438.0 L295.0,439.4 L307.0,438.6 L317.0,440.0 L324.0,439.4" fill="none" stroke="#444" stroke-width="0.7" stroke-linejoin="round" stroke-linecap="butt" stroke-dasharray="3.4 1.6" opacity="0.9"/>
<path d="M187.0,460.0 L199.0,460.0" fill="none" stroke="#444" stroke-width="0.7" stroke-linejoin="round" stroke-linecap="butt" stroke-dasharray="3.4 1.6" opacity="0.9"/>
<path d="M225.0,460.6 L237.0,461.4 L251.0,463.0 L267.0,464.0 L283.0,465.0 L299.0,464.6 L315.0,464.0 L324.0,464.6" fill="none" stroke="#444" stroke-width="0.7" stroke-linejoin="round" stroke-linecap="butt" stroke-dasharray="3.4 1.6" opacity="0.9"/>
<path d="M191.0,480.2 L195.0,480.6 L207.0,481.4 L223.0,481.0 L239.0,481.4 L255.0,482.0 L271.0,482.6 L287.0,482.0 L303.0,482.6 L324.0,483.0" fill="none" stroke="#444" stroke-width="0.7" stroke-linejoin="round" stroke-linecap="butt" stroke-dasharray="3.4 1.6" opacity="0.9"/>
<path d="M324.0,368.6 L332.0,368.0 L340.0,367.4 L348.0,365.0 L352.0,362.6 L356.0,365.0 L364.0,365.0 L374.0,364.0 L380.0,363.0 L381.0,352.0" fill="none" stroke="#444" stroke-width="0.7" stroke-linejoin="round" stroke-linecap="butt" stroke-dasharray="3.4 1.6" opacity="0.9"/>
<path d="M384.0,351.4 L390.0,353.4 L396.0,352.0 L404.0,355.0 L412.0,357.4 L418.0,354.6 L422.0,351.4" fill="none" stroke="#444" stroke-width="0.7" stroke-linejoin="round" stroke-linecap="butt" stroke-dasharray="3.4 1.6" opacity="0.9"/>
<path d="M426.0,351.4 L428.0,353.4" fill="none" stroke="#444" stroke-width="0.7" stroke-linejoin="round" stroke-linecap="butt" stroke-dasharray="3.4 1.6" opacity="0.9"/>
<path d="M324.0,385.4 L336.0,386.0 L348.0,385.4 L356.0,382.0 L364.0,383.0 L372.0,384.0 L378.0,385.4 L388.0,384.6 L401.0,383.4" fill="none" stroke="#444" stroke-width="0.7" stroke-linejoin="round" stroke-linecap="butt" stroke-dasharray="3.4 1.6" opacity="0.9"/>
<path d="M424.0,381.0 L436.0,380.6 L448.0,381.4 L456.0,381.0 L461.0,377.0" fill="none" stroke="#444" stroke-width="0.7" stroke-linejoin="round" stroke-linecap="butt" stroke-dasharray="3.4 1.6" opacity="0.9"/>
<path d="M324.0,403.4 L334.0,403.0 L344.0,402.0 L354.0,401.4 L364.0,403.0 L372.0,403.4 L377.0,405.4 L382.0,403.0 L392.0,402.6 L404.0,403.4 L416.0,404.0 L428.0,403.0 L440.0,401.4 L452.0,402.0 L461.0,400.6" fill="none" stroke="#444" stroke-width="0.7" stroke-linejoin="round" stroke-linecap="butt" stroke-dasharray="3.4 1.6" opacity="0.9"/>
<path d="M351.0,420.6 L364.0,421.0 L380.0,421.0 L396.0,421.4 L412.0,421.0 L424.0,422.6 L436.0,422.0 L448.0,422.6 L456.0,424.0 L461.0,423.4" fill="none" stroke="#444" stroke-width="0.7" stroke-linejoin="round" stroke-linecap="butt" stroke-dasharray="3.4 1.6" opacity="0.9"/>
<path d="M324.0,440.0 L332.0,438.0 L342.0,437.0 L352.0,438.6 L364.0,437.4 L374.0,438.0 L380.0,440.0 L383.0,443.0 L385.0,437.0 L390.0,438.0 L392.4,440.0 L392.6,449.0 L393.0,440.0 L400.0,439.0 L408.0,441.0 L418.0,440.0 L428.0,442.0 L436.0,441.4 L444.0,442.6 L448.0,444.0 L449.0,439.0 L454.0,440.0 L461.0,440.0" fill="none" stroke="#444" stroke-width="0.7" stroke-linejoin="round" stroke-linecap="butt" stroke-dasharray="3.4 1.6" opacity="0.9"/>
<path d="M324.0,464.0 L332.0,465.0 L342.0,467.0 L352.0,466.0 L360.0,469.0 L368.0,471.4 L376.0,470.0 L384.0,469.0 L392.0,467.0 L400.0,469.0 L410.0,471.0 L420.0,472.0 L430.0,471.0 L440.0,470.0 L452.0,468.0 L461.0,467.0" fill="none" stroke="#444" stroke-width="0.7" stroke-linejoin="round" stroke-linecap="butt" stroke-dasharray="3.4 1.6" opacity="0.9"/>
<path d="M324.0,480.0 L332.0,481.0 L340.0,482.0" fill="none" stroke="#444" stroke-width="0.7" stroke-linejoin="round" stroke-linecap="butt" stroke-dasharray="3.4 1.6" opacity="0.9"/>
<path d="M461.0,377.0 L466.0,372.6 L471.0,372.0 L477.0,370.0 L483.0,367.4 L488.0,368.0 L493.0,374.0 L497.0,377.0 L502.0,372.0 L506.6,368.0 L513.0,369.4 L519.0,375.0 L525.0,371.4 L533.0,370.6 L541.0,369.0 L547.0,367.0 L553.0,360.0 L559.0,354.0 L565.0,351.0" fill="none" stroke="#444" stroke-width="0.7" stroke-linejoin="round" stroke-linecap="butt" stroke-dasharray="3.4 1.6" opacity="0.9"/>
<path d="M461.0,402.0 L466.0,404.0 L470.0,403.0 L475.0,406.0 L480.0,402.0 L487.0,403.0 L495.0,402.6 L503.0,403.4 L506.0,399.0 L510.0,401.0 L519.0,402.0 L525.0,399.4 L533.0,396.0 L541.0,394.6 L549.0,393.0 L557.0,390.0 L563.0,387.4 L569.0,386.0 L572.0,381.0 L577.0,376.0 L583.0,371.0 L589.0,369.4 L594.6,369.4" fill="none" stroke="#444" stroke-width="0.7" stroke-linejoin="round" stroke-linecap="butt" stroke-dasharray="3.4 1.6" opacity="0.9"/>
<path d="M461.0,423.4 L469.0,424.0 L475.0,426.0 L483.0,425.0 L491.0,421.0 L497.0,420.0 L505.0,421.4 L513.0,421.0 L521.0,419.4 L529.0,419.0 L537.0,417.0 L545.0,415.0 L553.0,412.0 L561.0,411.4 L569.0,411.0 L577.0,412.0 L585.0,410.0 L591.0,407.0 L594.6,404.0" fill="none" stroke="#444" stroke-width="0.7" stroke-linejoin="round" stroke-linecap="butt" stroke-dasharray="3.4 1.6" opacity="0.9"/>
<path d="M461.0,441.0 L463.0,440.6" fill="none" stroke="#444" stroke-width="0.7" stroke-linejoin="round" stroke-linecap="butt" stroke-dasharray="3.4 1.6" opacity="0.9"/>
<path d="M488.0,441.4 L495.0,440.6 L501.0,441.0 L507.0,441.4 L510.0,436.0 L517.0,435.4 L527.0,435.0 L537.0,434.0 L545.0,433.4 L553.0,434.0 L561.0,434.6 L569.0,434.0 L577.0,434.6 L585.0,435.4 L594.6,433.0" fill="none" stroke="#444" stroke-width="0.7" stroke-linejoin="round" stroke-linecap="butt" stroke-dasharray="3.4 1.6" opacity="0.9"/>
<path d="M461.0,468.6 L473.0,468.6 L485.0,469.4 L497.0,469.6 L504.0,469.0 L506.0,464.0 L509.0,459.0 L514.0,454.0 L521.0,453.4 L529.0,452.6 L537.0,453.0 L543.0,452.0 L549.0,453.4 L557.0,454.0 L565.0,453.0 L573.0,454.0 L581.0,454.6 L589.0,454.0 L594.6,453.0" fill="none" stroke="#444" stroke-width="0.7" stroke-linejoin="round" stroke-linecap="butt" stroke-dasharray="3.4 1.6" opacity="0.9"/>
<path d="M573.0,486.4 L579.0,483.0" fill="none" stroke="#444" stroke-width="0.7" stroke-linejoin="round" stroke-linecap="butt" stroke-dasharray="3.4 1.6" opacity="0.9"/>
<text x="174.0" y="483.0" font-size="8.5" fill="#7f7f7f" text-anchor="middle" textLength="24" lengthAdjust="spacingAndGlyphs">-10 °C</text>
<text x="274.6" y="366.0" font-size="8.5" fill="#7f7f7f" text-anchor="middle" textLength="24" lengthAdjust="spacingAndGlyphs">-40 °C</text>
<text x="251.4" y="406.0" font-size="8.5" fill="#7f7f7f" text-anchor="middle" textLength="24" lengthAdjust="spacingAndGlyphs">-30 °C</text>
<text x="211.4" y="462.4" font-size="8.5" fill="#7f7f7f" text-anchor="middle" textLength="24" lengthAdjust="spacingAndGlyphs">-15 °C</text>
<text x="412.0" y="385.0" font-size="8.5" fill="#7f7f7f" text-anchor="middle" textLength="24" lengthAdjust="spacingAndGlyphs">-35 °C</text>
<text x="337.0" y="423.0" font-size="8.5" fill="#7f7f7f" text-anchor="middle" textLength="24" lengthAdjust="spacingAndGlyphs">-25 °C</text>
<text x="475.4" y="442.4" font-size="8.5" fill="#7f7f7f" text-anchor="middle" textLength="24" lengthAdjust="spacingAndGlyphs">-20 °C</text>
<text x="587.4" y="482.0" font-size="8.5" fill="#7f7f7f" text-anchor="middle" textLength="24" lengthAdjust="spacingAndGlyphs" transform="rotate(-28 587.4 479.0)">-10 °C</text>
<path d="M78.0,486.4 L77.6,477.0 L77.0,465.0 L78.0,461.0 L81.0,461.0 L81.6,469.0 L82.0,479.0 L84.0,482.0 L88.0,483.0 L93.0,481.0 L98.0,480.0" fill="none" stroke="#fdd347" stroke-width="1.6" stroke-linejoin="round" stroke-linecap="round"/>
<path d="M77.0,449.0 L78.0,445.0 L80.0,447.0" fill="none" stroke="#fdd347" stroke-width="1.6" stroke-linejoin="round" stroke-linecap="round"/>
<path d="M95.0,429.0 L96.4,430.0 L97.0,449.0 L96.4,461.0" fill="none" stroke="#fdd347" stroke-width="1.6" stroke-linejoin="round" stroke-linecap="round"/>
<path d="M102.4,486.4 L103.6,473.0 L104.4,461.0 L106.0,456.0 L109.0,457.0 L111.0,455.0 L113.0,458.0 L114.0,469.0 L114.4,481.0 L113.0,486.4" fill="none" stroke="#fdd347" stroke-width="1.6" stroke-linejoin="round" stroke-linecap="round"/>
<path d="M124.0,486.4 L126.0,482.0 L130.0,481.0 L134.0,477.0 L138.0,477.0" fill="none" stroke="#fdd347" stroke-width="1.6" stroke-linejoin="round" stroke-linecap="round"/>
<path d="M168.0,486.4 L169.0,477.0 L171.0,471.0 L174.0,469.0 L179.0,467.0 L182.0,471.0 L183.0,477.0" fill="none" stroke="#fdd347" stroke-width="1.6" stroke-linejoin="round" stroke-linecap="round"/>
<path d="M187.0,444.6 L190.0,442.6 L193.0,436.6 L196.0,430.6 L198.0,434.6 L200.0,446.6 L203.0,444.6 L206.0,450.6 L209.0,454.6 L212.0,446.6 L215.0,450.6 L218.0,444.6 L221.0,438.6 L225.0,438.6 L228.0,448.6 L230.0,454.6 L231.0,466.6 L234.0,472.6 L237.0,470.6 L241.0,474.6 L244.0,462.6 L247.0,459.6 L251.0,464.6 L254.0,466.6 L258.0,468.6 L261.0,458.6 L264.0,450.6 L267.0,456.6 L271.0,454.6 L275.0,448.6 L278.0,446.6 L280.0,458.6 L283.0,466.6 L287.0,462.6 L291.0,466.6 L296.0,462.6 L302.0,464.6 L307.0,460.6 L312.0,459.6 L316.0,467.6 L320.0,470.6 L324.0,468.6" fill="none" stroke="#fdd347" stroke-width="1.6" stroke-linejoin="round" stroke-linecap="round"/>
<path d="M223.0,407.0 L223.4,399.0 L225.0,396.0 L226.0,403.0 L225.4,413.0 L224.0,415.0Z" fill="none" stroke="#fdd347" stroke-width="1.6" stroke-linejoin="round" stroke-linecap="round"/>
<path d="M233.4,415.0 L236.0,409.0 L238.6,399.0 L239.4,385.0 L241.0,383.0 L242.6,391.0 L242.0,403.0 L240.0,413.0 L236.0,418.0Z" fill="none" stroke="#fdd347" stroke-width="1.6" stroke-linejoin="round" stroke-linecap="round"/>
<path d="M252.6,390.0 L253.6,390.0 L253.2,391.4Z" fill="none" stroke="#fdd347" stroke-width="1.6" stroke-linejoin="round" stroke-linecap="round"/>
<path d="M324.0,459.0 L325.6,450.0 L327.6,448.0 L330.0,459.0 L334.0,469.0 L336.0,477.0 L338.0,469.0 L341.0,456.0 L343.0,453.0 L346.0,461.0 L349.6,449.0 L351.0,445.4 L353.0,453.0" fill="none" stroke="#fdd347" stroke-width="1.6" stroke-linejoin="round" stroke-linecap="round"/>
<path d="M367.0,486.4 L368.0,477.0 L369.6,472.0 L371.6,477.0 L372.4,486.4" fill="none" stroke="#fdd347" stroke-width="1.6" stroke-linejoin="round" stroke-linecap="round"/>
<path d="M376.4,486.4 L377.6,477.0 L379.6,469.0 L381.6,463.0 L384.0,457.0 L386.4,455.0 L388.0,461.0 L390.0,473.0 L389.0,486.4" fill="none" stroke="#fdd347" stroke-width="1.6" stroke-linejoin="round" stroke-linecap="round"/>
<path d="M391.0,453.0 L393.0,449.0 L395.6,455.0 L397.6,461.0 L401.0,460.0 L404.0,463.0 L406.4,469.0 L409.0,471.0 L411.0,477.0 L412.0,486.4" fill="none" stroke="#fdd347" stroke-width="1.6" stroke-linejoin="round" stroke-linecap="round"/>
<path d="M406.0,469.0 L412.0,470.0 L417.0,471.0 L418.0,477.0" fill="none" stroke="#fdd347" stroke-width="1.6" stroke-linejoin="round" stroke-linecap="round"/>
<path d="M432.0,486.4 L433.0,473.0 L434.4,465.0 L437.0,461.0 L439.0,459.0" fill="none" stroke="#fdd347" stroke-width="1.6" stroke-linejoin="round" stroke-linecap="round"/>
<path d="M445.0,457.0 L447.0,451.0 L448.4,453.0" fill="none" stroke="#fdd347" stroke-width="1.6" stroke-linejoin="round" stroke-linecap="round"/>
<path d="M454.0,463.0 L458.0,459.0 L461.0,458.0" fill="none" stroke="#fdd347" stroke-width="1.6" stroke-linejoin="round" stroke-linecap="round"/>
<path d="M461.0,456.0 L464.0,459.0 L467.0,461.0 L469.4,457.0 L473.0,461.0 L476.0,464.0 L479.4,461.0 L482.0,467.0 L484.6,474.0 L488.0,471.0 L491.0,475.0 L494.0,477.0 L498.0,473.0 L501.0,469.0 L503.0,467.0 L504.6,477.0 L506.6,473.0 L508.0,479.0 L510.0,477.0 L512.0,471.0 L513.4,469.0 L515.0,473.0 L517.0,481.0 L520.0,479.0 L523.0,474.0 L525.0,477.0 L526.0,486.4" fill="none" stroke="#fdd347" stroke-width="1.6" stroke-linejoin="round" stroke-linecap="round"/>
<path d="M542.0,486.4 L542.6,477.0 L544.0,476.0 L547.0,479.0 L550.0,478.0 L554.0,476.0 L559.0,475.4 L564.0,478.0 L569.0,482.0 L572.0,486.4" fill="none" stroke="#fdd347" stroke-width="1.6" stroke-linejoin="round" stroke-linecap="round"/>
<path d="M534.0,486.4 L535.0,483.0 L536.6,486.4" fill="none" stroke="#fdd347" stroke-width="1.6" stroke-linejoin="round" stroke-linecap="round"/>
<path d="M74.4,486.4 L74.0,469.0 L74.4,449.0 L75.6,438.0 L77.6,436.0 L79.0,443.0 L80.0,437.0 L81.4,435.0 L82.4,441.0 L82.0,453.0 L81.6,469.0 L82.4,477.0 L85.0,479.0 L88.0,482.0 L90.0,479.0 L92.0,475.0 L93.6,479.0 L95.0,473.0 L94.4,465.0 L92.0,461.0 L91.0,453.0 L90.0,443.0 L89.0,435.0 L89.0,425.0 L90.4,421.0 L92.0,425.0 L92.4,435.0 L93.0,445.0 L94.0,437.0 L94.4,425.0 L95.6,419.0 L97.0,423.0 L96.4,433.0 L97.0,445.0 L98.0,457.0 L97.6,469.0 L98.0,477.0 L99.0,486.4" fill="none" stroke="#fb7d4b" stroke-width="1.7" stroke-linejoin="round" stroke-linecap="round"/>
<path d="M98.0,425.0 L99.0,419.0 L100.4,418.0 L100.0,423.0 L99.0,426.0Z" fill="none" stroke="#fb7d4b" stroke-width="1.7" stroke-linejoin="round" stroke-linecap="round"/>
<path d="M103.0,486.4 L102.4,477.0 L102.0,465.0 L102.4,457.0 L105.0,453.0 L107.0,448.0 L110.0,447.0 L112.0,443.0 L113.0,437.0 L111.0,437.0 L109.0,433.0 L108.0,429.0 L107.0,426.0 L106.4,419.0 L108.0,414.0 L111.0,413.0 L113.6,409.0 L114.4,401.0 L116.0,397.0 L118.0,398.0 L119.0,407.0 L119.6,417.0 L120.0,428.0 L121.6,428.0 L123.0,419.0 L123.6,405.0 L124.0,395.0 L125.6,391.0 L127.0,396.0 L128.0,405.0 L130.0,413.0 L132.0,425.0 L133.6,433.0 L138.0,438.0 L141.0,442.0 L139.0,447.0 L137.6,453.0 L138.0,461.0 L137.0,469.0 L138.0,477.0 L142.0,483.0 L144.0,486.4" fill="none" stroke="#fb7d4b" stroke-width="1.7" stroke-linejoin="round" stroke-linecap="round"/>
<path d="M118.0,433.0 L118.6,435.4" fill="none" stroke="#fb7d4b" stroke-width="1.7" stroke-linejoin="round" stroke-linecap="round"/>
<path d="M116.0,472.0 L119.0,469.0 L122.0,468.6 L121.6,473.0 L119.0,476.0 L116.4,477.0Z" fill="none" stroke="#fb7d4b" stroke-width="1.7" stroke-linejoin="round" stroke-linecap="round"/>
<path d="M146.0,486.4 L148.0,479.0 L151.0,475.0" fill="none" stroke="#fb7d4b" stroke-width="1.7" stroke-linejoin="round" stroke-linecap="round"/>
<path d="M170.0,486.4 L170.4,477.0 L172.0,473.0 L175.0,477.0 L176.0,486.4" fill="none" stroke="#fb7d4b" stroke-width="1.7" stroke-linejoin="round" stroke-linecap="round"/>
<path d="M182.0,486.4 L183.0,473.0 L184.4,461.0 L186.0,457.0 L187.0,458.0" fill="none" stroke="#fb7d4b" stroke-width="1.7" stroke-linejoin="round" stroke-linecap="round"/>
<path d="M187.0,423.0 L185.6,426.0 L185.2,435.0 L186.0,449.0 L187.0,453.0" fill="none" stroke="#fb7d4b" stroke-width="1.7" stroke-linejoin="round" stroke-linecap="round"/>
<path d="M187.0,438.0 L188.0,425.0 L190.0,429.0 L192.0,431.0 L194.0,428.0 L196.0,425.0 L199.0,426.0 L201.4,424.0 L202.6,429.0 L203.4,437.0 L204.6,449.0 L206.0,454.0 L207.4,449.0 L208.0,437.0 L207.0,425.0 L206.6,417.0 L208.0,409.0 L209.4,406.0 L210.6,411.0 L211.4,425.0 L212.6,437.0 L214.0,443.0 L216.0,439.0 L218.0,433.0 L218.6,421.0 L217.4,416.0 L215.0,417.0 L214.6,425.0 L214.0,419.0 L213.4,411.0 L215.0,407.0 L216.0,397.0 L218.0,396.0 L219.4,403.0 L221.0,401.0 L222.6,394.0 L225.0,392.0 L227.0,387.0 L230.0,385.0 L232.0,382.0 L233.4,389.0 L234.0,403.0 L235.0,407.0 L235.4,397.0 L236.0,383.0 L238.0,378.0 L240.0,377.0 L241.4,381.0 L242.0,385.0 L244.0,389.0 L245.4,381.0 L246.6,375.0 L248.6,374.0 L250.6,377.0 L252.0,381.0 L255.0,378.0 L257.4,379.0 L259.0,384.0 L262.0,385.0 L264.0,382.0 L267.0,381.0 L269.0,384.0 L270.6,389.0 L272.0,395.0 L273.0,403.0 L274.0,409.0 L275.0,401.0 L276.0,396.0 L277.0,403.0 L277.4,413.0 L278.0,423.0 L276.6,425.0 L275.4,417.0 L275.0,409.0 L273.4,408.0 L272.6,415.0 L273.0,421.0 L271.0,420.0 L269.4,413.0 L268.0,408.0 L266.0,407.0 L264.0,411.0 L262.0,415.0 L260.0,417.0 L257.0,416.0 L255.0,419.0 L252.0,417.0 L249.0,420.0 L247.0,422.0 L244.0,421.0 L241.0,424.0 L238.0,426.0 L235.0,427.0 L232.6,424.0 L231.0,419.0 L230.0,411.0 L229.0,409.0 L228.0,413.0 L227.0,421.0 L228.0,429.0 L229.4,433.0 L230.6,443.0 L232.0,449.0 L234.0,455.0 L236.0,459.0 L238.0,453.0 L239.4,449.0 L240.6,455.0 L242.0,459.0 L244.0,449.0 L246.0,443.0 L248.0,441.0 L250.0,442.0 L251.4,449.0 L253.0,441.0 L254.6,432.0 L256.0,437.0 L257.0,445.0 L259.0,447.0 L261.0,439.0 L262.6,435.0 L264.0,439.0 L266.0,445.0 L268.0,447.0 L269.4,453.0 L271.0,451.0 L273.4,449.0 L275.0,444.0 L277.0,441.0 L278.6,449.0 L280.0,457.0 L282.0,461.0 L284.0,449.0 L285.0,447.0 L286.0,457.0 L287.0,463.0 L290.0,459.0 L292.0,458.0 L294.0,461.0 L296.0,458.0 L299.0,460.0 L302.0,458.0 L305.0,461.0 L307.0,459.0 L310.0,458.0 L313.0,457.0 L315.0,461.0 L317.0,467.0 L320.0,465.0 L322.0,469.0 L324.0,467.0" fill="none" stroke="#fb7d4b" stroke-width="1.7" stroke-linejoin="round" stroke-linecap="round"/>
<path d="M279.0,392.0 L281.0,390.0 L282.6,395.0 L283.4,407.0 L282.0,415.0 L280.0,413.0 L279.4,403.0Z" fill="none" stroke="#fb7d4b" stroke-width="1.7" stroke-linejoin="round" stroke-linecap="round"/>
<path d="M306.0,387.0 L307.4,386.0 L309.0,393.0 L310.0,400.0 L308.0,402.0 L306.6,397.0Z" fill="none" stroke="#fb7d4b" stroke-width="1.7" stroke-linejoin="round" stroke-linecap="round"/>
<path d="M322.0,477.0 L323.0,469.0 L324.0,468.0" fill="none" stroke="#fb7d4b" stroke-width="1.7" stroke-linejoin="round" stroke-linecap="round"/>
<path d="M324.0,461.0 L325.6,453.0 L327.0,449.0 L328.4,453.0 L329.6,461.0 L332.0,465.0 L335.0,466.0 L338.0,463.0 L340.0,457.0 L342.0,452.0 L344.0,457.0 L346.0,463.0 L348.0,461.0 L349.6,451.0 L351.0,447.0 L352.4,453.0 L354.0,459.0 L356.0,457.0 L358.4,461.0 L360.4,467.0 L359.6,477.0 L358.0,486.4" fill="none" stroke="#fb7d4b" stroke-width="1.7" stroke-linejoin="round" stroke-linecap="round"/>
<path d="M333.0,486.4 L334.0,482.0 L336.0,481.0 L337.6,486.4" fill="none" stroke="#fb7d4b" stroke-width="1.7" stroke-linejoin="round" stroke-linecap="round"/>
<path d="M382.0,486.4 L382.4,477.0 L381.6,469.0 L383.0,465.0 L385.0,469.0 L386.4,473.0 L388.0,467.0 L389.0,460.0 L391.0,461.0 L392.0,455.0 L393.6,453.0 L395.0,458.0 L396.4,463.0 L399.0,465.0 L401.0,463.0 L403.0,465.0 L404.4,471.0 L403.0,475.0 L400.0,476.0 L397.0,475.0 L396.0,481.0 L394.0,477.0 L393.0,469.0 L392.0,473.0 L391.0,486.4" fill="none" stroke="#fb7d4b" stroke-width="1.7" stroke-linejoin="round" stroke-linecap="round"/>
<path d="M419.6,486.4 L419.0,477.0 L419.6,467.0 L421.0,459.0 L422.4,456.0 L424.0,461.0 L425.0,467.0 L427.0,471.0 L428.0,477.0 L427.0,486.4" fill="none" stroke="#fb7d4b" stroke-width="1.7" stroke-linejoin="round" stroke-linecap="round"/>
<path d="M436.0,486.4 L435.6,477.0 L436.4,469.0 L438.0,463.0 L440.0,461.0 L442.0,464.0 L444.0,467.0 L445.6,461.0 L446.4,455.0 L447.6,451.0 L449.0,457.0 L450.0,465.0 L451.0,469.0 L453.0,465.0 L456.0,462.0 L459.0,458.0 L461.0,456.0" fill="none" stroke="#fb7d4b" stroke-width="1.7" stroke-linejoin="round" stroke-linecap="round"/>
<path d="M446.4,486.4 L447.0,477.0 L449.0,473.0 L450.4,481.0 L451.0,486.4" fill="none" stroke="#fb7d4b" stroke-width="1.7" stroke-linejoin="round" stroke-linecap="round"/>
<path d="M461.0,458.0 L463.4,461.0 L466.0,464.0 L469.0,459.0 L472.0,461.0 L474.0,465.0 L477.0,467.0 L479.4,463.0 L481.0,467.0 L482.6,473.0 L484.6,477.0 L486.0,486.4" fill="none" stroke="#fb7d4b" stroke-width="1.7" stroke-linejoin="round" stroke-linecap="round"/>
<path d="M491.0,486.4 L491.4,481.0 L493.0,479.0 L494.0,486.4" fill="none" stroke="#fb7d4b" stroke-width="1.7" stroke-linejoin="round" stroke-linecap="round"/>
<path d="M498.0,486.4 L498.6,477.0 L501.0,472.0 L503.0,469.0 L504.0,477.0 L503.4,486.4" fill="none" stroke="#fb7d4b" stroke-width="1.7" stroke-linejoin="round" stroke-linecap="round"/>
<path d="M507.0,486.4 L507.4,479.0 L508.6,477.0 L509.0,486.4" fill="none" stroke="#fb7d4b" stroke-width="1.7" stroke-linejoin="round" stroke-linecap="round"/>
<path d="M512.6,486.4 L513.0,477.0 L514.2,473.0 L515.4,479.0 L516.0,486.4" fill="none" stroke="#fb7d4b" stroke-width="1.7" stroke-linejoin="round" stroke-linecap="round"/>
<path d="M463.0,486.4 L465.0,482.0 L468.0,483.0 L469.0,486.4" fill="none" stroke="#fb7d4b" stroke-width="1.7" stroke-linejoin="round" stroke-linecap="round"/>
</g>
<rect x="50.5" y="351.0" width="544.3" height="135.5" fill="none" stroke="#000" stroke-width="0.85"/>
<line x1="78.5" y1="486.5" x2="78.5" y2="490.0" stroke="#000" stroke-width="0.8"/>
<line x1="164.5" y1="486.5" x2="164.5" y2="490.0" stroke="#000" stroke-width="0.8"/>
<line x1="250.5" y1="486.5" x2="250.5" y2="490.0" stroke="#000" stroke-width="0.8"/>
<line x1="336.5" y1="486.5" x2="336.5" y2="490.0" stroke="#000" stroke-width="0.8"/>
<line x1="422.5" y1="486.5" x2="422.5" y2="490.0" stroke="#000" stroke-width="0.8"/>
<line x1="508.5" y1="486.5" x2="508.5" y2="490.0" stroke="#000" stroke-width="0.8"/>
<line x1="594.5" y1="486.5" x2="594.5" y2="490.0" stroke="#000" stroke-width="0.8"/>
<line x1="47.0" y1="486.50" x2="50.5" y2="486.50" stroke="#000" stroke-width="0.8"/>
<text x="44.5" y="490.3" font-size="10.8" text-anchor="end" fill="#000" font-weight="normal" textLength="6.7" lengthAdjust="spacingAndGlyphs" >0</text>
<line x1="47.0" y1="459.50" x2="50.5" y2="459.50" stroke="#000" stroke-width="0.8"/>
<text x="44.5" y="463.3" font-size="10.8" text-anchor="end" fill="#000" font-weight="normal" textLength="6.7" lengthAdjust="spacingAndGlyphs" >1</text>
<line x1="47.0" y1="432.50" x2="50.5" y2="432.50" stroke="#000" stroke-width="0.8"/>
<text x="44.5" y="436.3" font-size="10.8" text-anchor="end" fill="#000" font-weight="normal" textLength="6.7" lengthAdjust="spacingAndGlyphs" >2</text>
<line x1="47.0" y1="405.50" x2="50.5" y2="405.50" stroke="#000" stroke-width="0.8"/>
<text x="44.5" y="409.3" font-size="10.8" text-anchor="end" fill="#000" font-weight="normal" textLength="6.7" lengthAdjust="spacingAndGlyphs" >3</text>
<line x1="47.0" y1="378.50" x2="50.5" y2="378.50" stroke="#000" stroke-width="0.8"/>
<text x="44.5" y="382.3" font-size="10.8" text-anchor="end" fill="#000" font-weight="normal" textLength="6.7" lengthAdjust="spacingAndGlyphs" >4</text>
<line x1="47.0" y1="351.00" x2="50.5" y2="351.00" stroke="#000" stroke-width="0.8"/>
<text x="44.5" y="354.8" font-size="10.8" text-anchor="end" fill="#000" font-weight="normal" textLength="6.7" lengthAdjust="spacingAndGlyphs" >5</text>
<text x="577.3" y="364.9" font-size="13.2" text-anchor="middle" fill="#000" font-weight="bold" >c</text>
<text transform="translate(32.2 454.1) rotate(-90)" font-size="11" textLength="70.5" lengthAdjust="spacingAndGlyphs">Altitude [km]</text>
<rect x="628.5" y="469.56" width="9.5" height="17.24" fill="#d2e3f3"/>
<rect x="628.5" y="452.62" width="9.5" height="17.24" fill="#b9d6ea"/>
<rect x="628.5" y="435.69" width="9.5" height="17.24" fill="#94c4df"/>
<rect x="628.5" y="418.75" width="9.5" height="17.24" fill="#6aaed6"/>
<rect x="628.5" y="401.81" width="9.5" height="17.24" fill="#4a98c9"/>
<rect x="628.5" y="384.88" width="9.5" height="17.24" fill="#2e7ebc"/>
<rect x="628.5" y="367.94" width="9.5" height="17.24" fill="#1460a8"/>
<rect x="628.5" y="351.00" width="9.5" height="17.24" fill="#083e80"/>
<rect x="628.5" y="351.0" width="9.5" height="135.5" fill="none" stroke="#333" stroke-width="0.7"/>
<line x1="638.0" y1="486.50" x2="641.5" y2="486.50" stroke="#000" stroke-width="0.8"/>
<text x="644.3" y="490.3" font-size="10.8" text-anchor="start" fill="#000" font-weight="normal" textLength="23.6" lengthAdjust="spacingAndGlyphs" >0.00</text>
<line x1="638.0" y1="452.62" x2="641.5" y2="452.62" stroke="#000" stroke-width="0.8"/>
<text x="644.3" y="456.4" font-size="10.8" text-anchor="start" fill="#000" font-weight="normal" textLength="23.6" lengthAdjust="spacingAndGlyphs" >0.25</text>
<line x1="638.0" y1="418.75" x2="641.5" y2="418.75" stroke="#000" stroke-width="0.8"/>
<text x="644.3" y="422.6" font-size="10.8" text-anchor="start" fill="#000" font-weight="normal" textLength="23.6" lengthAdjust="spacingAndGlyphs" >0.50</text>
<line x1="638.0" y1="384.88" x2="641.5" y2="384.88" stroke="#000" stroke-width="0.8"/>
<text x="644.3" y="388.7" font-size="10.8" text-anchor="start" fill="#000" font-weight="normal" textLength="23.6" lengthAdjust="spacingAndGlyphs" >0.75</text>
<line x1="638.0" y1="351.00" x2="641.5" y2="351.00" stroke="#000" stroke-width="0.8"/>
<text x="644.3" y="354.8" font-size="10.8" text-anchor="start" fill="#000" font-weight="normal" textLength="23.6" lengthAdjust="spacingAndGlyphs" >1.00</text>
<text transform="translate(681.8 478.2) rotate(-90)" font-size="12.3" textLength="119" lengthAdjust="spacingAndGlyphs">LWC ALLSIP [gm<tspan dy="-4" font-size="8">−3</tspan><tspan dy="4">]</tspan></text>
<line x1="78.5" y1="514.3" x2="78.5" y2="649.5" stroke="#b0b0b0" stroke-width="0.8"/>
<line x1="164.5" y1="514.3" x2="164.5" y2="649.5" stroke="#b0b0b0" stroke-width="0.8"/>
<line x1="250.5" y1="514.3" x2="250.5" y2="649.5" stroke="#b0b0b0" stroke-width="0.8"/>
<line x1="336.5" y1="514.3" x2="336.5" y2="649.5" stroke="#b0b0b0" stroke-width="0.8"/>
<line x1="422.5" y1="514.3" x2="422.5" y2="649.5" stroke="#b0b0b0" stroke-width="0.8"/>
<line x1="508.5" y1="514.3" x2="508.5" y2="649.5" stroke="#b0b0b0" stroke-width="0.8"/>
<line x1="50.5" y1="615.50" x2="594.5" y2="615.50" stroke="#b2b2b2" stroke-width="0.9"/>
<line x1="50.5" y1="581.50" x2="594.5" y2="581.50" stroke="#b2b2b2" stroke-width="0.9"/>
<line x1="50.5" y1="548.50" x2="594.5" y2="548.50" stroke="#b2b2b2" stroke-width="0.9"/>
<g clip-path="url(#cpd)">
<path d="M50.0,648.3 L51.0,648.1 L52.0,648.3 L53.0,648.2 L54.0,648.2 L55.0,648.5 L56.0,648.3 L57.0,647.9 L58.0,647.0 L59.0,646.9 L60.0,644.6 L61.0,645.6 L62.0,644.8 L63.0,644.5 L64.0,642.8 L65.0,643.5 L66.0,642.3 L67.0,639.4 L68.0,637.3 L69.0,632.7 L70.0,632.3 L71.0,638.4 L72.0,637.7 L73.0,633.6 L74.0,633.2 L75.0,636.4 L76.0,636.6 L77.0,638.1 L78.0,636.6 L79.0,638.7 L80.0,634.7 L81.0,635.4 L82.0,639.3 L83.0,644.0 L84.0,643.7 L85.0,638.0 L86.0,640.1 L87.0,641.4 L88.0,634.2 L89.0,635.1 L90.0,634.8 L91.0,637.3 L92.0,636.8 L93.0,630.4 L94.0,630.6 L95.0,633.2 L96.0,634.7 L97.0,636.1 L98.0,631.4 L99.0,636.5 L100.0,637.0 L101.0,638.1 L102.0,636.9 L103.0,634.3 L104.0,638.9 L105.0,638.2 L106.0,639.5 L107.0,642.6 L108.0,642.1 L109.0,643.6 L110.0,644.8 L111.0,642.5 L112.0,644.9 L113.0,642.9 L114.0,641.2 L115.0,639.7 L116.0,636.0 L117.0,632.0 L118.0,619.4 L119.0,632.6 L120.0,634.6 L121.0,636.6 L122.0,638.0 L123.0,633.7 L124.0,637.5 L125.0,637.7 L126.0,636.1 L127.0,640.0 L128.0,639.9 L129.0,637.5 L130.0,638.4 L131.0,629.8 L132.0,630.5 L133.0,627.6 L134.0,637.2 L135.0,636.2 L136.0,641.1 L137.0,642.7 L138.0,642.7 L139.0,642.6 L140.0,644.9 L141.0,644.5 L142.0,644.8 L143.0,644.2 L144.0,645.4 L145.0,644.3 L146.0,645.5 L147.0,644.4 L148.0,644.5 L149.0,641.3 L150.0,641.0 L151.0,641.2 L152.0,639.5 L153.0,639.9 L154.0,635.0 L155.0,642.0 L156.0,639.5 L157.0,640.2 L158.0,642.8 L159.0,641.3 L160.0,638.8 L161.0,640.2 L162.0,637.1 L163.0,638.8 L164.0,636.9 L165.0,639.2 L166.0,639.5 L167.0,638.5 L168.0,637.1 L169.0,634.8 L170.0,636.5 L171.0,636.2 L172.0,635.7 L173.0,633.7 L174.0,638.2 L175.0,638.6 L176.0,637.0 L177.0,640.0 L178.0,642.7 L179.0,643.0 L180.0,643.7 L181.0,644.7 L182.0,644.8 L183.0,645.2 L184.0,644.0 L185.0,643.1 L186.0,645.7 L187.0,632.6 L188.0,637.3 L189.0,646.0 L190.0,646.3 L191.0,645.2 L192.0,645.0 L193.0,645.1 L194.0,645.1 L195.0,642.9 L196.0,642.9 L197.0,644.0 L198.0,644.7 L199.0,642.2 L200.0,643.0 L201.0,641.5 L202.0,643.0 L203.0,642.7 L204.0,641.0 L205.0,639.0 L206.0,641.4 L207.0,640.8 L208.0,638.2 L209.0,641.3 L210.0,639.4 L211.0,637.9 L212.0,641.0 L213.0,641.0 L214.0,642.7 L215.0,642.2 L216.0,641.5 L217.0,642.7 L218.0,641.5 L219.0,643.0 L220.0,641.8 L221.0,642.7 L222.0,642.4 L223.0,641.6 L224.0,641.4 L225.0,641.5 L226.0,636.2 L227.0,640.1 L228.0,637.8 L229.0,641.4 L230.0,644.0 L231.0,642.3 L232.0,642.0 L233.0,643.8 L234.0,638.7 L235.0,641.0 L236.0,642.2 L237.0,632.3 L238.0,638.4 L239.0,642.0 L240.0,642.0 L241.0,643.2 L242.0,643.2 L243.0,644.1 L244.0,644.3 L245.0,646.1 L246.0,644.0 L247.0,646.2 L248.0,642.3 L249.0,642.8 L250.0,639.9 L251.0,636.7 L252.0,633.7 L253.0,633.7 L254.0,638.1 L255.0,644.7 L256.0,642.9 L257.0,643.8 L258.0,645.9 L259.0,645.1 L260.0,643.4 L261.0,641.6 L262.0,639.2 L263.0,639.6 L264.0,639.5 L265.0,641.6 L266.0,642.7 L267.0,638.4 L268.0,641.3 L269.0,639.4 L270.0,640.5 L271.0,640.6 L272.0,640.5 L273.0,641.1 L274.0,638.0 L275.0,640.6 L276.0,633.1 L277.0,637.6 L278.0,637.5 L279.0,639.2 L280.0,637.8 L281.0,634.6 L282.0,641.3 L283.0,640.2 L284.0,642.1 L285.0,643.1 L286.0,643.9 L287.0,644.7 L288.0,642.4 L289.0,640.6 L290.0,638.0 L291.0,636.3 L292.0,635.2 L293.0,635.1 L294.0,639.6 L295.0,639.8 L296.0,636.0 L297.0,638.2 L298.0,638.2 L299.0,632.1 L300.0,628.2 L301.0,634.4 L302.0,639.0 L303.0,638.0 L304.0,635.6 L305.0,634.0 L306.0,629.7 L307.0,622.0 L308.0,635.9 L309.0,635.6 L310.0,636.3 L311.0,637.3 L312.0,633.9 L313.0,635.9 L314.0,632.7 L315.0,634.0 L316.0,634.0 L317.0,637.6 L318.0,638.5 L319.0,637.5 L320.0,637.5 L321.0,639.6 L322.0,646.7 L323.0,643.5 L324.0,638.0 L325.0,638.8 L326.0,641.2 L327.0,646.8 L328.0,643.8 L329.0,645.5 L330.0,627.1 L331.0,638.8 L332.0,642.6 L333.0,643.3 L334.0,638.8 L335.0,637.3 L336.0,615.1 L337.0,609.9 L338.0,622.0 L339.0,583.4 L340.0,628.9 L341.0,609.8 L342.0,612.3 L343.0,629.6 L344.0,637.4 L345.0,603.5 L346.0,611.8 L347.0,627.0 L348.0,617.7 L349.0,613.2 L350.0,619.1 L351.0,625.2 L352.0,634.5 L353.0,616.7 L354.0,641.0 L355.0,620.3 L356.0,635.6 L357.0,634.5 L358.0,622.1 L359.0,615.7 L360.0,614.5 L361.0,619.6 L362.0,630.2 L363.0,610.3 L364.0,625.9 L365.0,624.9 L366.0,643.5 L367.0,641.7 L368.0,620.8 L369.0,633.6 L370.0,626.0 L371.0,644.5 L372.0,626.4 L373.0,642.9 L374.0,638.6 L375.0,619.3 L376.0,633.5 L377.0,627.7 L378.0,633.5 L379.0,630.8 L380.0,635.4 L381.0,633.8 L382.0,639.4 L383.0,645.0 L384.0,633.0 L385.0,639.8 L386.0,643.6 L387.0,645.7 L388.0,630.7 L389.0,640.5 L390.0,626.3 L391.0,627.9 L392.0,638.0 L393.0,643.5 L394.0,629.3 L395.0,641.3 L396.0,628.6 L397.0,641.5 L398.0,635.2 L399.0,637.5 L400.0,630.2 L401.0,633.1 L402.0,634.1 L403.0,631.4 L404.0,626.0 L405.0,624.1 L406.0,622.0 L407.0,616.6 L408.0,632.0 L409.0,639.8 L410.0,603.5 L411.0,641.5 L412.0,632.8 L413.0,626.6 L414.0,630.9 L415.0,632.4 L416.0,637.6 L417.0,637.8 L418.0,644.7 L419.0,644.9 L420.0,645.8 L421.0,645.4 L422.0,636.0 L423.0,625.6 L424.0,630.0 L425.0,643.7 L426.0,630.3 L427.0,634.9 L428.0,632.5 L429.0,641.4 L430.0,641.6 L431.0,646.8 L432.0,641.6 L433.0,645.2 L434.0,643.2 L435.0,646.1 L436.0,648.0 L437.0,643.0 L438.0,648.7 L439.0,642.4 L440.0,641.4 L441.0,643.0 L442.0,646.8 L443.0,644.2 L444.0,649.2 L445.0,646.1 L446.0,647.5 L447.0,647.4 L448.0,648.2 L449.0,648.8 L450.0,649.3 L451.0,648.3 L452.0,648.7 L453.0,642.9 L454.0,647.0 L455.0,641.8 L456.0,642.5 L457.0,648.4 L458.0,645.4 L459.0,637.1 L460.0,639.2 L461.0,648.5 L462.0,628.5 L463.0,644.1 L464.0,643.5 L465.0,643.7 L466.0,638.6 L467.0,635.0 L468.0,648.5 L469.0,628.0 L470.0,634.9 L471.0,640.5 L472.0,646.0 L473.0,646.6 L474.0,641.0 L475.0,643.5 L476.0,649.1 L477.0,644.4 L478.0,644.4 L479.0,649.0 L480.0,644.1 L481.0,642.0 L482.0,638.9 L483.0,646.6 L484.0,645.8 L485.0,639.9 L486.0,632.4 L487.0,639.8 L488.0,626.1 L489.0,645.6 L490.0,644.8 L491.0,641.9 L492.0,641.7 L493.0,633.8 L494.0,641.4 L495.0,633.7 L496.0,638.0 L497.0,635.5 L498.0,645.5 L499.0,640.9 L500.0,640.0 L501.0,643.8 L502.0,644.0 L503.0,645.4 L504.0,649.0 L505.0,648.1 L506.0,646.5 L507.0,648.6 L508.0,648.8 L509.0,649.5 L510.0,649.4 L511.0,649.5 L512.0,649.5 L513.0,647.8 L514.0,647.0 L515.0,642.2 L516.0,648.3 L517.0,646.7 L518.0,645.5 L519.0,640.3 L520.0,617.1 L521.0,636.9 L522.0,646.1 L523.0,639.2 L524.0,645.1 L525.0,636.2 L526.0,645.1 L527.0,640.6 L528.0,635.5 L529.0,646.8 L530.0,648.7 L531.0,649.5 L532.0,649.4 L533.0,649.4 L534.0,649.5 L535.0,649.5 L536.0,649.4 L537.0,649.4 L538.0,646.7 L539.0,645.5 L540.0,645.5 L541.0,643.4 L542.0,649.1 L543.0,644.3 L544.0,642.1 L545.0,649.0 L546.0,645.6 L547.0,648.9 L548.0,645.5 L549.0,648.8 L550.0,646.5 L551.0,645.2 L552.0,646.6 L553.0,646.1 L554.0,648.9 L555.0,640.0 L556.0,648.1 L557.0,648.1 L558.0,646.3 L559.0,649.1 L560.0,648.5 L561.0,645.8 L562.0,646.9 L563.0,648.0 L564.0,646.9 L565.0,648.2 L566.0,649.0 L567.0,649.4 L568.0,649.5 L569.0,649.5 L570.0,649.4 L571.0,649.5 L572.0,649.4 L573.0,649.4 L574.0,649.4 L575.0,649.4 L576.0,649.5 L577.0,649.5 L578.0,649.4 L579.0,649.5 L580.0,649.5 L581.0,649.4 L582.0,649.5 L583.0,649.4 L584.0,649.4 L585.0,649.4 L586.0,649.4 L587.0,649.4 L588.0,649.5 L589.0,649.4 L590.0,649.4 L591.0,649.5 L592.0,649.5 L593.0,649.4 L594.0,649.4 L594.0,649.5 L593.0,649.5 L592.0,649.5 L591.0,649.5 L590.0,649.5 L589.0,649.5 L588.0,649.5 L587.0,649.5 L586.0,649.5 L585.0,649.5 L584.0,649.5 L583.0,649.5 L582.0,649.5 L581.0,649.5 L580.0,649.5 L579.0,649.5 L578.0,649.5 L577.0,649.5 L576.0,649.5 L575.0,649.5 L574.0,649.5 L573.0,649.5 L572.0,649.5 L571.0,649.5 L570.0,649.5 L569.0,649.5 L568.0,649.5 L567.0,649.5 L566.0,649.5 L565.0,649.5 L564.0,649.5 L563.0,649.5 L562.0,649.5 L561.0,649.5 L560.0,649.5 L559.0,649.5 L558.0,649.5 L557.0,649.5 L556.0,649.5 L555.0,649.5 L554.0,649.5 L553.0,649.5 L552.0,649.5 L551.0,649.5 L550.0,649.5 L549.0,649.5 L548.0,649.5 L547.0,649.5 L546.0,649.5 L545.0,649.5 L544.0,649.5 L543.0,649.5 L542.0,649.5 L541.0,649.5 L540.0,649.5 L539.0,649.5 L538.0,649.5 L537.0,649.5 L536.0,649.5 L535.0,649.5 L534.0,649.5 L533.0,649.5 L532.0,649.5 L531.0,649.5 L530.0,649.5 L529.0,649.5 L528.0,649.5 L527.0,649.5 L526.0,649.5 L525.0,649.5 L524.0,649.5 L523.0,649.5 L522.0,649.5 L521.0,649.5 L520.0,649.5 L519.0,649.5 L518.0,649.5 L517.0,649.5 L516.0,649.5 L515.0,649.5 L514.0,649.5 L513.0,649.5 L512.0,649.5 L511.0,649.5 L510.0,649.5 L509.0,649.5 L508.0,649.5 L507.0,649.5 L506.0,649.5 L505.0,649.5 L504.0,649.5 L503.0,649.5 L502.0,649.5 L501.0,649.5 L500.0,649.5 L499.0,649.5 L498.0,649.5 L497.0,649.5 L496.0,649.5 L495.0,649.5 L494.0,649.5 L493.0,649.5 L492.0,649.5 L491.0,649.5 L490.0,649.5 L489.0,649.5 L488.0,649.5 L487.0,649.5 L486.0,649.5 L485.0,649.5 L484.0,649.5 L483.0,649.5 L482.0,649.5 L481.0,649.5 L480.0,649.5 L479.0,649.5 L478.0,649.5 L477.0,649.5 L476.0,649.5 L475.0,649.5 L474.0,649.5 L473.0,649.5 L472.0,649.5 L471.0,649.5 L470.0,649.5 L469.0,649.5 L468.0,649.5 L467.0,649.5 L466.0,649.5 L465.0,649.5 L464.0,649.5 L463.0,649.5 L462.0,649.5 L461.0,649.5 L460.0,649.5 L459.0,649.5 L458.0,649.5 L457.0,649.5 L456.0,649.5 L455.0,649.5 L454.0,649.5 L453.0,649.5 L452.0,649.5 L451.0,649.5 L450.0,649.5 L449.0,649.5 L448.0,649.5 L447.0,649.5 L446.0,649.5 L445.0,649.5 L444.0,649.5 L443.0,649.5 L442.0,649.5 L441.0,649.5 L440.0,649.5 L439.0,649.5 L438.0,649.5 L437.0,649.5 L436.0,649.5 L435.0,649.5 L434.0,649.5 L433.0,649.5 L432.0,649.5 L431.0,649.5 L430.0,649.5 L429.0,649.5 L428.0,649.5 L427.0,649.5 L426.0,649.5 L425.0,649.5 L424.0,649.5 L423.0,649.5 L422.0,649.5 L421.0,649.5 L420.0,649.5 L419.0,649.5 L418.0,649.5 L417.0,649.5 L416.0,649.5 L415.0,649.5 L414.0,649.5 L413.0,649.5 L412.0,649.5 L411.0,649.5 L410.0,649.5 L409.0,649.5 L408.0,649.5 L407.0,649.5 L406.0,649.5 L405.0,649.5 L404.0,649.5 L403.0,649.5 L402.0,649.5 L401.0,649.5 L400.0,649.5 L399.0,649.5 L398.0,649.5 L397.0,649.5 L396.0,649.5 L395.0,649.5 L394.0,649.5 L393.0,649.5 L392.0,649.5 L391.0,649.5 L390.0,649.5 L389.0,649.5 L388.0,649.5 L387.0,649.5 L386.0,649.5 L385.0,649.5 L384.0,649.5 L383.0,649.5 L382.0,649.5 L381.0,649.5 L380.0,649.5 L379.0,649.5 L378.0,649.5 L377.0,649.5 L376.0,649.5 L375.0,649.5 L374.0,649.5 L373.0,649.5 L372.0,649.5 L371.0,649.5 L370.0,649.5 L369.0,649.5 L368.0,649.5 L367.0,649.5 L366.0,649.5 L365.0,649.5 L364.0,649.5 L363.0,649.5 L362.0,649.5 L361.0,649.5 L360.0,649.5 L359.0,649.5 L358.0,649.5 L357.0,649.5 L356.0,649.5 L355.0,649.5 L354.0,649.5 L353.0,649.5 L352.0,649.5 L351.0,649.5 L350.0,649.5 L349.0,649.5 L348.0,649.5 L347.0,649.5 L346.0,649.5 L345.0,649.5 L344.0,649.5 L343.0,649.5 L342.0,649.5 L341.0,649.5 L340.0,649.5 L339.0,649.5 L338.0,649.5 L337.0,649.5 L336.0,649.5 L335.0,649.5 L334.0,649.5 L333.0,649.5 L332.0,649.5 L331.0,649.5 L330.0,649.5 L329.0,649.5 L328.0,649.5 L327.0,649.5 L326.0,649.5 L325.0,649.5 L324.0,649.5 L323.0,649.5 L322.0,646.5 L321.0,645.3 L320.0,644.4 L319.0,644.0 L318.0,643.6 L317.0,644.3 L316.0,643.2 L315.0,642.3 L314.0,641.5 L313.0,643.1 L312.0,642.4 L311.0,641.8 L310.0,643.7 L309.0,643.4 L308.0,643.4 L307.0,649.5 L306.0,649.5 L305.0,649.5 L304.0,649.5 L303.0,649.5 L302.0,649.5 L301.0,649.5 L300.0,643.0 L299.0,643.3 L298.0,642.3 L297.0,643.0 L296.0,642.9 L295.0,642.8 L294.0,645.0 L293.0,641.3 L292.0,641.5 L291.0,642.7 L290.0,642.1 L289.0,645.6 L288.0,646.0 L287.0,649.5 L286.0,649.5 L285.0,649.5 L284.0,649.5 L283.0,649.5 L282.0,649.5 L281.0,649.5 L280.0,649.5 L279.0,649.5 L278.0,649.5 L277.0,649.5 L276.0,649.5 L275.0,649.5 L274.0,649.5 L273.0,649.5 L272.0,649.5 L271.0,649.5 L270.0,649.5 L269.0,649.5 L268.0,649.5 L267.0,649.5 L266.0,649.5 L265.0,649.5 L264.0,649.5 L263.0,649.5 L262.0,645.8 L261.0,647.6 L260.0,647.7 L259.0,648.1 L258.0,648.4 L257.0,647.9 L256.0,647.7 L255.0,648.1 L254.0,646.1 L253.0,643.2 L252.0,645.8 L251.0,644.6 L250.0,646.7 L249.0,647.0 L248.0,647.5 L247.0,648.2 L246.0,647.9 L245.0,648.3 L244.0,647.9 L243.0,647.7 L242.0,647.6 L241.0,647.6 L240.0,647.6 L239.0,646.9 L238.0,646.1 L237.0,641.7 L236.0,646.6 L235.0,647.3 L234.0,646.5 L233.0,647.7 L232.0,646.8 L231.0,649.5 L230.0,649.5 L229.0,649.5 L228.0,649.5 L227.0,649.5 L226.0,649.5 L225.0,649.5 L224.0,649.5 L223.0,649.5 L222.0,649.5 L221.0,649.5 L220.0,649.5 L219.0,649.5 L218.0,649.5 L217.0,649.5 L216.0,646.2 L215.0,645.0 L214.0,643.9 L213.0,644.1 L212.0,644.9 L211.0,645.4 L210.0,644.2 L209.0,644.8 L208.0,645.4 L207.0,644.1 L206.0,645.5 L205.0,645.4 L204.0,645.8 L203.0,644.8 L202.0,645.5 L201.0,645.3 L200.0,645.8 L199.0,645.6 L198.0,646.4 L197.0,647.1 L196.0,647.6 L195.0,646.8 L194.0,647.6 L193.0,647.2 L192.0,647.6 L191.0,647.6 L190.0,647.8 L189.0,647.4 L188.0,644.6 L187.0,640.2 L186.0,647.0 L185.0,646.8 L184.0,647.2 L183.0,646.5 L182.0,647.3 L181.0,646.4 L180.0,646.8 L179.0,645.4 L178.0,645.5 L177.0,645.1 L176.0,644.0 L175.0,643.3 L174.0,642.5 L173.0,643.8 L172.0,643.7 L171.0,642.8 L170.0,644.8 L169.0,649.5 L168.0,649.5 L167.0,649.5 L166.0,649.5 L165.0,649.5 L164.0,649.5 L163.0,649.5 L162.0,649.5 L161.0,649.5 L160.0,649.5 L159.0,649.5 L158.0,649.5 L157.0,649.5 L156.0,649.5 L155.0,649.5 L154.0,649.5 L153.0,649.5 L152.0,649.5 L151.0,649.5 L150.0,649.5 L149.0,649.5 L148.0,649.5 L147.0,649.5 L146.0,649.5 L145.0,649.5 L144.0,649.5 L143.0,649.5 L142.0,649.5 L141.0,649.5 L140.0,649.5 L139.0,649.5 L138.0,649.5 L137.0,649.5 L136.0,649.5 L135.0,649.5 L134.0,649.5 L133.0,649.5 L132.0,649.5 L131.0,649.5 L130.0,649.5 L129.0,649.5 L128.0,649.5 L127.0,649.5 L126.0,649.5 L125.0,649.5 L124.0,649.5 L123.0,649.5 L122.0,649.5 L121.0,649.5 L120.0,649.5 L119.0,649.5 L118.0,649.5 L117.0,649.5 L116.0,649.5 L115.0,649.5 L114.0,649.5 L113.0,649.5 L112.0,649.5 L111.0,649.5 L110.0,649.5 L109.0,649.5 L108.0,649.5 L107.0,649.5 L106.0,649.5 L105.0,649.5 L104.0,649.5 L103.0,649.5 L102.0,649.5 L101.0,649.5 L100.0,649.5 L99.0,649.5 L98.0,649.5 L97.0,649.5 L96.0,649.5 L95.0,649.5 L94.0,649.5 L93.0,649.5 L92.0,649.5 L91.0,649.5 L90.0,649.5 L89.0,649.5 L88.0,649.5 L87.0,649.5 L86.0,649.5 L85.0,649.5 L84.0,649.5 L83.0,649.5 L82.0,649.5 L81.0,649.5 L80.0,649.5 L79.0,649.5 L78.0,649.5 L77.0,649.5 L76.0,649.5 L75.0,649.5 L74.0,649.5 L73.0,649.5 L72.0,649.5 L71.0,649.5 L70.0,649.5 L69.0,649.5 L68.0,649.5 L67.0,649.5 L66.0,649.5 L65.0,649.5 L64.0,649.5 L63.0,649.5 L62.0,649.5 L61.0,649.5 L60.0,648.0 L59.0,648.4 L58.0,648.2 L57.0,648.4 L56.0,649.0 L55.0,648.9 L54.0,648.8 L53.0,649.0 L52.0,649.0 L51.0,648.9 L50.0,648.8Z" fill="#a9a9a9" stroke="none" stroke-width="0" opacity="1"/>
<path d="M50.0,642.0 L56.0,646.0 L62.0,645.0 L67.0,638.0 L70.0,644.0 L72.0,636.0 L73.6,624.0 L75.6,632.0 L77.0,644.0 L78.4,624.0 L79.6,617.0 L80.4,622.0 L80.0,640.0 L82.0,646.0 L86.0,648.0 L90.0,647.0 L93.0,644.0 L97.0,638.0 L99.0,630.0 L101.0,634.0 L102.4,640.0 L104.4,641.0 L106.0,634.0 L108.0,640.0 L110.0,644.0 L114.0,647.0 L117.0,644.0 L119.0,640.0 L121.0,638.0 L122.4,630.0 L124.0,620.0 L125.0,616.0 L126.4,622.0 L128.0,634.0 L130.0,640.0 L133.0,644.0 L138.0,646.0 L142.0,645.0 L145.0,642.0 L148.0,634.0 L151.0,630.0 L153.0,620.0 L154.4,618.0 L156.0,623.0 L158.0,620.0 L159.6,617.0 L161.0,622.0 L163.0,626.0 L165.0,628.0 L167.0,627.0 L169.0,634.0 L171.0,635.0 L173.0,628.0 L175.0,624.0 L176.4,616.0 L178.0,619.0 L180.0,615.0 L181.6,613.0 L183.0,620.0 L185.0,624.0 L186.8,623.0 L187.0,616.0 L189.0,612.0 L190.6,624.0 L192.6,629.0 L194.6,620.0 L196.6,616.0 L198.6,619.0 L201.0,622.0 L204.0,618.0 L207.0,616.0 L210.0,618.0 L213.0,620.0 L216.0,618.0 L219.0,612.0 L222.0,611.0 L224.0,616.0 L226.0,609.0 L228.0,624.0 L230.0,627.0 L232.6,626.0 L235.0,628.0 L237.0,620.0 L239.4,624.0 L241.0,616.0 L243.0,624.0 L245.0,630.0 L247.0,622.0 L249.0,626.0 L251.0,630.0 L253.4,632.0 L255.0,636.0 L258.0,634.0 L260.0,630.0 L262.0,606.0 L264.0,605.0 L265.4,616.0 L267.0,624.0 L269.0,622.0 L271.0,618.0 L273.0,614.0 L275.0,612.0 L277.0,620.0 L278.6,602.0 L280.0,612.0 L281.4,600.0 L282.6,624.0 L284.0,622.0 L285.4,616.0 L287.0,624.0 L289.0,630.0 L291.0,628.0 L293.0,624.0 L295.0,608.0 L296.6,624.0 L299.0,628.0 L302.0,620.0 L305.0,616.0 L308.0,614.0 L309.4,615.0 L311.1,632.5 L313.1,616.5 L315.1,604.4 L316.5,628.5 L318.1,638.6 L320.1,640.6 L321.7,616.5 L323.1,588.3 L324.6,596.4 L326.2,606.4 L327.8,580.3 L329.2,632.5 L331.2,640.6 L332.6,580.3 L333.8,608.4 L335.8,624.5 L338.2,620.5 L340.2,632.5 L342.6,624.5 L345.2,636.5 L347.3,624.5 L349.3,620.5 L351.3,624.5 L353.3,628.5 L355.3,624.5 L357.3,616.5 L359.3,608.4 L361.3,612.4 L363.3,632.5 L365.3,640.6 L367.3,644.6 L370.4,640.6 L373.4,636.5 L375.4,646.6 L377.4,636.5 L378.4,646.6 L380.0,612.4 L381.4,572.3 L382.4,539.1 L383.4,582.3 L384.8,562.2 L386.0,541.1 L387.4,564.2 L388.8,560.2 L390.0,539.1 L391.4,572.3 L392.9,540.1 L394.1,592.4 L395.5,582.3 L396.9,578.3 L398.5,588.3 L399.5,568.2 L400.5,612.4 L402.1,632.5 L403.5,638.6 L405.5,630.5 L408.5,630.5 L411.5,630.5 L414.5,630.5 L417.6,624.5 L420.2,606.4 L421.6,620.5 L423.6,612.4 L425.0,578.3 L426.6,574.3 L427.7,588.3 L428.7,572.3 L429.7,555.2 L430.5,592.4 L431.7,624.5 L433.1,632.5 L435.2,640.6 L438.2,632.5 L440.2,628.5 L443.2,632.5 L445.2,640.6 L448.2,636.5 L450.2,630.5 L452.2,636.5 L455.2,632.5 L457.3,608.4 L458.7,620.5 L460.3,616.5 L462.7,628.5 L465.3,626.5 L468.3,624.5 L470.7,620.5 L473.3,623.5 L476.3,626.5 L479.3,627.5 L482.4,630.5 L485.4,628.5 L488.4,630.5 L491.4,629.5 L494.4,638.6 L496.4,640.6 L498.4,632.5 L501.4,634.5 L504.5,632.5 L507.5,637.5 L510.5,636.5 L513.5,640.6 L516.1,632.5 L518.1,620.5 L519.5,610.4 L520.9,616.5 L522.9,615.5 L524.5,623.5 L527.0,624.5 L529.0,640.6 L531.0,624.5 L533.0,616.5 L534.6,632.5 L536.6,642.6 L537.8,640.6 L539.2,640.6 L541.2,632.5 L542.6,629.5 L544.2,634.5 L545.8,632.5 L547.3,624.5 L548.7,621.5 L551.3,622.5 L553.9,622.1 L555.3,625.5 L557.3,627.5 L559.3,626.9 L561.3,628.5 L563.3,632.5 L566.3,634.5 L568.7,636.5 L571.4,641.6 L574.4,645.6 L578.4,647.6 L582.4,648.2 L586.4,649.4 L594.5,649.4" fill="none" stroke="#000" stroke-width="1.6" stroke-linejoin="round" stroke-linecap="round"/>
<path d="M50.0,641.0 L54.0,644.0 L57.0,640.0 L60.0,643.0 L64.0,640.0 L68.0,632.0 L70.0,636.0 L72.0,616.0 L74.0,596.0 L75.6,606.0 L77.0,616.0 L78.0,612.0 L79.6,630.0 L82.0,642.0 L85.0,645.0 L88.0,640.0 L92.0,638.0 L95.0,634.0 L98.0,630.0 L100.0,606.0 L102.4,581.0 L104.0,580.0 L105.6,596.0 L107.0,616.0 L109.0,628.0 L111.0,614.0 L112.0,604.0 L113.2,620.0 L114.4,610.0 L115.6,630.0 L117.0,616.0 L119.0,586.0 L120.4,566.0 L122.0,580.0 L124.0,594.0 L125.6,585.0 L127.0,598.0 L128.4,616.0 L130.0,628.0 L132.0,638.0 L135.0,644.0 L139.0,645.0 L143.0,646.0 L147.0,642.0 L150.0,636.0 L153.0,630.0 L156.0,626.0 L159.0,622.0 L161.0,624.0 L163.0,620.0 L166.0,615.0 L168.0,611.0 L169.6,616.0 L171.6,602.0 L173.0,585.0 L174.4,596.0 L176.0,614.0 L178.0,616.0 L181.0,611.0 L184.0,610.0 L186.8,614.0 L187.0,615.0 L189.0,606.0 L191.0,610.0 L193.0,596.0 L194.6,583.0 L196.0,592.0 L197.0,583.0 L198.6,596.0 L200.0,602.0 L202.0,612.0 L204.0,620.0 L207.0,626.0 L210.0,622.0 L213.0,616.0 L216.0,606.0 L218.0,600.0 L219.4,605.0 L221.0,599.0 L223.0,604.0 L226.0,608.0 L229.0,614.0 L232.0,616.0 L235.0,620.0 L238.0,616.0 L240.0,611.0 L243.0,610.0 L245.0,602.0 L247.0,595.0 L248.0,604.0 L249.4,616.0 L251.0,626.0 L253.0,630.0 L255.0,620.0 L257.0,612.0 L258.6,602.0 L260.0,616.0 L262.0,622.0 L264.0,614.0 L266.0,600.0 L267.4,588.0 L268.6,602.0 L270.0,616.0 L272.0,626.0 L275.0,632.0 L278.0,636.0 L281.0,632.0 L284.0,624.0 L286.0,606.0 L288.0,592.0 L290.0,586.0 L291.4,592.0 L293.0,610.0 L295.0,620.0 L298.0,624.0 L301.0,626.0 L304.0,622.0 L307.0,624.0 L309.4,620.0 L310.1,620.5 L312.1,608.4 L313.7,588.3 L315.1,559.2 L316.1,592.4 L317.1,562.2 L318.1,535.1 L319.1,578.3 L319.9,471.8 L320.5,471.8 L320.9,530.1 L321.3,471.8 L321.9,471.8 L322.3,576.3 L322.7,471.8 L323.3,471.8 L323.7,524.1 L324.1,471.8 L325.2,471.8 L325.8,552.2 L326.6,592.4 L327.8,606.4 L329.2,624.5 L331.2,628.5 L333.2,620.5 L335.2,612.4 L338.2,602.4 L340.2,616.5 L342.6,632.5 L344.6,592.4 L346.2,582.3 L347.9,592.4 L349.3,582.3 L351.3,570.3 L352.7,569.3 L353.9,592.4 L355.3,620.5 L357.3,636.5 L359.3,624.5 L361.3,632.5 L363.3,630.5 L365.3,624.5 L366.7,602.4 L368.3,624.5 L370.4,608.4 L372.4,572.3 L373.4,608.4 L374.8,624.5 L377.4,632.5 L379.4,602.4 L381.4,624.5 L383.4,588.3 L384.8,632.5 L386.4,624.5 L388.4,592.4 L390.0,573.3 L391.4,592.4 L392.9,624.5 L394.5,608.4 L396.1,592.4 L397.5,588.3 L399.5,600.4 L401.5,612.4 L403.5,624.5 L406.5,630.5 L409.5,632.5 L412.5,638.6 L415.5,632.5 L418.6,634.5 L421.6,630.5 L424.6,630.5 L426.6,632.5 L427.1,632.5 L430.1,634.5 L433.1,628.5 L435.8,616.5 L437.8,600.4 L439.2,588.3 L440.2,578.3 L441.8,596.4 L443.2,624.5 L445.2,644.6 L448.2,644.6 L450.2,632.5 L451.8,620.5 L453.2,624.5 L455.2,616.5 L457.3,632.5 L459.3,636.5 L461.3,624.5 L463.3,620.5 L465.3,612.4 L467.3,614.4 L469.3,608.4 L471.3,616.5 L473.3,612.4 L476.3,612.4 L479.3,606.4 L482.0,592.4 L484.0,572.3 L486.0,554.2 L487.4,568.2 L488.8,592.4 L490.4,616.5 L492.0,598.4 L493.4,624.5 L496.0,630.5 L498.4,624.5 L501.4,632.5 L504.5,636.5 L507.5,624.5 L509.5,632.5 L511.5,620.5 L513.5,608.4 L515.5,600.4 L517.5,606.4 L519.5,616.5 L522.5,620.5 L525.5,622.5 L528.6,624.5 L531.6,636.5 L534.6,640.6 L536.6,638.6 L537.2,639.6 L540.2,640.6 L544.2,641.6 L548.3,640.6 L552.3,637.5 L555.3,635.5 L559.3,636.5 L562.3,639.6 L565.3,643.6 L568.3,646.6 L572.4,648.6 L578.4,649.4 L594.5,649.4" fill="none" stroke="#00ffff" stroke-width="1.6" stroke-linejoin="round" stroke-linecap="round"/>
<path d="M50.0,641.0 L53.0,643.0 L56.0,646.0 L60.0,647.0 L64.0,644.0 L67.0,641.0 L69.0,645.0 L71.0,648.0 L72.4,636.0 L74.4,626.0 L76.0,623.0 L77.6,636.0 L79.0,644.0 L81.0,638.0 L82.4,645.0 L85.0,647.0 L88.0,646.0 L90.0,643.0 L92.4,645.0 L95.0,640.0 L97.0,643.0 L99.0,645.0 L101.0,640.0 L103.0,632.0 L105.0,620.0 L106.4,612.0 L107.6,624.0 L109.0,640.0 L111.0,645.0 L115.0,648.0 L120.0,649.0 L126.0,649.0 L130.0,648.0 L134.0,645.0 L137.0,643.0 L140.0,645.0 L144.0,646.0 L148.0,643.0 L152.0,638.0 L155.0,634.0 L158.0,628.0 L160.4,625.0 L162.0,630.0 L164.0,634.0 L166.0,632.0 L168.0,628.0 L170.0,624.0 L172.0,620.0 L173.6,613.0 L175.4,605.0 L176.6,612.0 L178.0,620.0 L180.0,622.0 L182.0,624.0 L184.0,628.0 L185.6,620.0 L186.8,608.0 L187.0,628.0 L188.0,602.0 L190.0,606.0 L192.0,600.0 L193.4,586.0 L195.0,610.0 L196.6,602.0 L198.0,594.0 L200.0,598.0 L202.0,597.0 L204.0,602.0 L206.0,612.0 L208.0,622.0 L209.4,630.0 L210.6,616.0 L212.0,626.0 L213.4,636.0 L215.0,641.0 L217.0,640.0 L219.0,630.0 L221.0,622.0 L223.0,618.0 L225.0,620.0 L227.0,630.0 L229.0,635.0 L231.0,638.0 L233.4,645.0 L236.0,639.0 L238.0,641.0 L241.0,646.0 L243.0,637.0 L245.0,640.0 L248.0,640.0 L250.6,642.0 L252.0,632.0 L253.4,636.0 L255.0,640.0 L257.0,638.0 L258.6,644.0 L260.0,634.0 L261.4,628.0 L263.0,632.0 L264.6,605.0 L266.6,610.0 L268.0,616.0 L270.0,624.0 L272.0,630.0 L273.4,633.0 L275.0,624.0 L276.6,622.0 L278.0,616.0 L279.4,614.0 L281.0,624.0 L282.6,632.0 L284.0,641.0 L285.4,624.0 L287.0,616.0 L288.6,634.0 L290.0,610.0 L291.4,624.0 L293.0,636.0 L294.4,622.0 L296.0,612.0 L297.4,630.0 L299.0,624.0 L301.0,612.0 L303.0,593.0 L304.6,606.0 L306.0,612.0 L307.0,598.0 L309.0,608.0 L310.1,610.4 L312.1,632.5 L314.1,614.4 L315.7,624.5 L317.7,636.5 L319.7,620.5 L321.7,624.5 L323.1,642.6 L325.2,632.5 L327.2,624.5 L329.2,622.5 L331.2,619.5 L333.2,624.5 L335.2,640.6 L337.2,642.6 L339.2,624.5 L341.2,610.4 L343.2,620.5 L345.2,632.5 L347.3,614.4 L349.3,592.4 L350.9,573.3 L352.3,608.4 L353.9,628.5 L355.9,604.4 L357.9,624.5 L359.9,644.6 L361.9,640.6 L363.9,636.5 L366.3,638.6 L368.3,634.5 L370.4,640.6 L373.4,636.5 L376.4,640.6 L378.4,636.5 L380.4,624.5 L382.0,612.4 L383.4,584.3 L384.8,608.4 L386.4,620.5 L388.0,596.4 L389.4,588.3 L390.8,572.3 L392.0,540.1 L392.9,520.0 L393.5,538.1 L394.1,592.4 L394.9,622.5 L396.1,574.3 L397.5,600.4 L399.5,612.4 L401.5,616.5 L403.5,596.4 L404.9,608.4 L406.5,624.5 L408.9,626.5 L410.5,632.5 L412.5,628.5 L415.5,630.5 L418.6,631.5 L421.6,627.5 L424.6,630.5 L426.6,632.5 L427.1,632.5 L430.1,634.5 L432.1,643.6 L434.1,624.5 L436.2,618.5 L438.2,601.4 L439.2,616.5 L440.2,624.5 L441.8,592.4 L442.8,624.5 L444.2,644.6 L446.2,632.5 L447.8,586.3 L448.8,624.5 L450.2,632.5 L452.2,618.5 L454.2,624.5 L456.2,616.5 L458.3,608.4 L459.7,592.4 L460.7,575.3 L461.9,602.4 L463.3,616.5 L464.7,608.4 L465.9,599.4 L467.3,616.5 L468.7,600.4 L469.9,594.4 L471.3,594.4 L472.7,606.4 L474.3,610.4 L475.9,606.4 L477.3,607.4 L478.7,618.5 L480.4,622.5 L483.4,626.5 L486.4,630.5 L489.4,632.5 L492.4,628.5 L495.4,630.5 L498.4,632.5 L500.4,624.5 L502.0,616.5 L503.5,628.5 L504.9,642.6 L506.5,632.5 L507.9,624.5 L509.5,636.5 L511.5,624.5 L513.5,612.4 L514.9,624.5 L516.5,632.5 L518.5,638.6 L520.5,640.6 L522.9,636.5 L525.5,639.6 L528.6,640.6 L531.6,644.6 L534.6,642.6 L536.6,644.6 L537.2,643.6 L540.2,642.6 L542.6,636.5 L544.2,632.5 L545.8,640.6 L548.3,634.5 L550.3,637.5 L552.7,636.5 L554.7,630.5 L557.3,627.5 L559.3,628.5 L560.7,626.5 L562.7,630.5 L565.3,634.5 L568.3,636.5 L570.4,640.6 L573.4,645.6 L577.4,648.2 L582.4,649.0 L594.5,649.4" fill="none" stroke="#0000f0" stroke-width="1.6" stroke-linejoin="round" stroke-linecap="round"/>
</g>
<rect x="55.5" y="518.8" width="403" height="19.7" rx="2.5" fill="#fff" fill-opacity="0.8" stroke="#ccc" stroke-width="0.9"/>
<line x1="60" y1="527.8" x2="82.5" y2="527.8" stroke="#ababab" stroke-width="1.6"/>
<text x="91" y="531.8" font-size="11.5" text-anchor="start" fill="#000" font-weight="normal" textLength="71" lengthAdjust="spacingAndGlyphs" >Observations</text>
<line x1="184" y1="527.8" x2="206" y2="527.8" stroke="#000" stroke-width="1.6"/>
<text x="214.5" y="531.8" font-size="11.5" text-anchor="start" fill="#000" font-weight="normal" textLength="52.5" lengthAdjust="spacingAndGlyphs" >CONTROL</text>
<line x1="288.5" y1="527.8" x2="311" y2="527.8" stroke="#00ffff" stroke-width="1.6"/>
<text x="319.5" y="531.8" font-size="11.5" text-anchor="start" fill="#000" font-weight="normal" textLength="45.5" lengthAdjust="spacingAndGlyphs" >DEMOTT</text>
<line x1="386.5" y1="527.8" x2="409" y2="527.8" stroke="#0000e6" stroke-width="1.6"/>
<text x="417.5" y="531.8" font-size="11.5" text-anchor="start" fill="#000" font-weight="normal" textLength="36" lengthAdjust="spacingAndGlyphs" >ALLSIP</text>
<rect x="50.5" y="514.3" width="544.3" height="135.20000000000005" fill="none" stroke="#000" stroke-width="0.85"/>
<line x1="78.5" y1="649.5" x2="78.5" y2="653.0" stroke="#000" stroke-width="0.8"/>
<line x1="164.5" y1="649.5" x2="164.5" y2="653.0" stroke="#000" stroke-width="0.8"/>
<line x1="250.5" y1="649.5" x2="250.5" y2="653.0" stroke="#000" stroke-width="0.8"/>
<line x1="336.5" y1="649.5" x2="336.5" y2="653.0" stroke="#000" stroke-width="0.8"/>
<line x1="422.5" y1="649.5" x2="422.5" y2="653.0" stroke="#000" stroke-width="0.8"/>
<line x1="508.5" y1="649.5" x2="508.5" y2="653.0" stroke="#000" stroke-width="0.8"/>
<line x1="594.5" y1="649.5" x2="594.5" y2="653.0" stroke="#000" stroke-width="0.8"/>
<line x1="47.0" y1="649.50" x2="50.5" y2="649.50" stroke="#000" stroke-width="0.8"/>
<text x="44.5" y="653.3" font-size="10.8" text-anchor="end" fill="#000" font-weight="normal" textLength="6.7" lengthAdjust="spacingAndGlyphs" >0</text>
<line x1="47.0" y1="615.50" x2="50.5" y2="615.50" stroke="#000" stroke-width="0.8"/>
<text x="44.5" y="619.3" font-size="10.8" text-anchor="end" fill="#000" font-weight="normal" textLength="20.2" lengthAdjust="spacingAndGlyphs" >500</text>
<line x1="47.0" y1="581.50" x2="50.5" y2="581.50" stroke="#000" stroke-width="0.8"/>
<text x="44.5" y="585.3" font-size="10.8" text-anchor="end" fill="#000" font-weight="normal" textLength="26.9" lengthAdjust="spacingAndGlyphs" >1000</text>
<line x1="47.0" y1="548.50" x2="50.5" y2="548.50" stroke="#000" stroke-width="0.8"/>
<text x="44.5" y="552.3" font-size="10.8" text-anchor="end" fill="#000" font-weight="normal" textLength="26.9" lengthAdjust="spacingAndGlyphs" >1500</text>
<line x1="47.0" y1="514.30" x2="50.5" y2="514.30" stroke="#000" stroke-width="0.8"/>
<text x="44.5" y="518.1" font-size="10.8" text-anchor="end" fill="#000" font-weight="normal" textLength="26.9" lengthAdjust="spacingAndGlyphs" >2000</text>
<text x="577.3" y="528.1999999999999" font-size="13.2" text-anchor="middle" fill="#000" font-weight="bold" >d</text>
<text transform="translate(11.4 612.9) rotate(-90)" font-size="11" textLength="63" lengthAdjust="spacingAndGlyphs">LWP [gm<tspan dy="-4" font-size="8">−2</tspan><tspan dy="4">]</tspan></text>
<text x="78.5" y="664" font-size="11.5" text-anchor="middle" fill="#000" font-weight="normal" textLength="30" lengthAdjust="spacingAndGlyphs" >18/12</text>
<text x="78.5" y="676.5" font-size="11.5" text-anchor="middle" fill="#000" font-weight="normal" textLength="30.5" lengthAdjust="spacingAndGlyphs" >00:00</text>
<text x="164.5" y="664" font-size="11.5" text-anchor="middle" fill="#000" font-weight="normal" textLength="30" lengthAdjust="spacingAndGlyphs" >18/12</text>
<text x="164.5" y="676.5" font-size="11.5" text-anchor="middle" fill="#000" font-weight="normal" textLength="30.5" lengthAdjust="spacingAndGlyphs" >06:00</text>
<text x="250.5" y="664" font-size="11.5" text-anchor="middle" fill="#000" font-weight="normal" textLength="30" lengthAdjust="spacingAndGlyphs" >18/12</text>
<text x="250.5" y="676.5" font-size="11.5" text-anchor="middle" fill="#000" font-weight="normal" textLength="30.5" lengthAdjust="spacingAndGlyphs" >12:00</text>
<text x="336.5" y="664" font-size="11.5" text-anchor="middle" fill="#000" font-weight="normal" textLength="30" lengthAdjust="spacingAndGlyphs" >18/12</text>
<text x="336.5" y="676.5" font-size="11.5" text-anchor="middle" fill="#000" font-weight="normal" textLength="30.5" lengthAdjust="spacingAndGlyphs" >18:00</text>
<text x="422.5" y="664" font-size="11.5" text-anchor="middle" fill="#000" font-weight="normal" textLength="30" lengthAdjust="spacingAndGlyphs" >19/12</text>
<text x="422.5" y="676.5" font-size="11.5" text-anchor="middle" fill="#000" font-weight="normal" textLength="30.5" lengthAdjust="spacingAndGlyphs" >00:00</text>
<text x="508.5" y="664" font-size="11.5" text-anchor="middle" fill="#000" font-weight="normal" textLength="30" lengthAdjust="spacingAndGlyphs" >19/12</text>
<text x="508.5" y="676.5" font-size="11.5" text-anchor="middle" fill="#000" font-weight="normal" textLength="30.5" lengthAdjust="spacingAndGlyphs" >06:00</text>
<text x="594.5" y="664" font-size="11.5" text-anchor="middle" fill="#000" font-weight="normal" textLength="30" lengthAdjust="spacingAndGlyphs" >19/12</text>
<text x="594.5" y="676.5" font-size="11.5" text-anchor="middle" fill="#000" font-weight="normal" textLength="30.5" lengthAdjust="spacingAndGlyphs" >12:00</text>
<text x="322.5" y="689.5" font-size="11.5" text-anchor="middle" fill="#000" font-weight="normal" textLength="59" lengthAdjust="spacingAndGlyphs" >Time [UTC]</text>
</svg></body></html>
